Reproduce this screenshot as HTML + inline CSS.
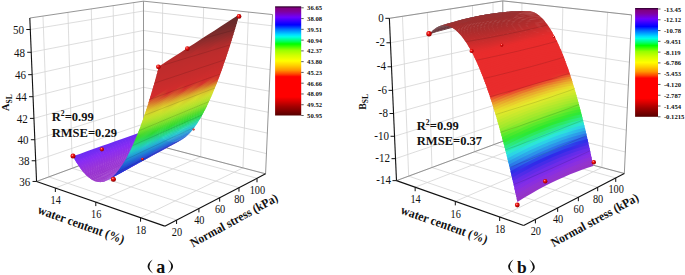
<!DOCTYPE html>
<html><head><meta charset="utf-8"><style>
html,body{margin:0;padding:0;background:#fff;}
svg{display:block;}
text{font-family:"Liberation Serif",serif;fill:#111;}
.tk{font-size:12px;}
.cb{font-size:7px;font-weight:bold;}
.b{font-weight:bold;}
</style></head><body>
<svg width="685" height="275" viewBox="0 0 685 275">
<defs><radialGradient id="ball" cx="0.38" cy="0.35" r="0.65"><stop offset="0" stop-color="#ffb0a0"/><stop offset="0.35" stop-color="#f01010"/><stop offset="1" stop-color="#900000"/></radialGradient></defs>
<rect width="685" height="275" fill="#fff"/>
<defs><linearGradient id="ga4" gradientUnits="userSpaceOnUse" x1="76.0" y1="161.7" x2="155.6" y2="131.8"><stop offset="0" stop-color="#812cf3"/><stop offset="0.25" stop-color="#802cf3"/><stop offset="0.5" stop-color="#7e2cf3"/><stop offset="0.75" stop-color="#7d2cf3"/><stop offset="1" stop-color="#7b2cf3"/></linearGradient><linearGradient id="ga5" gradientUnits="userSpaceOnUse" x1="76.6" y1="162.8" x2="156.2" y2="132.6"><stop offset="0" stop-color="#862cf3"/><stop offset="0.25" stop-color="#842cf3"/><stop offset="0.5" stop-color="#822cf3"/><stop offset="0.75" stop-color="#802cf3"/><stop offset="1" stop-color="#7e2cf3"/></linearGradient><linearGradient id="ga6" gradientUnits="userSpaceOnUse" x1="77.3" y1="163.9" x2="156.8" y2="133.3"><stop offset="0" stop-color="#8a2cf2"/><stop offset="0.25" stop-color="#882cf3"/><stop offset="0.5" stop-color="#862cf3"/><stop offset="0.75" stop-color="#842cf3"/><stop offset="1" stop-color="#822cf3"/></linearGradient><linearGradient id="ga7" gradientUnits="userSpaceOnUse" x1="78.0" y1="164.9" x2="157.4" y2="134.0"><stop offset="0" stop-color="#8c2dee"/><stop offset="0.25" stop-color="#8b2df0"/><stop offset="0.5" stop-color="#8a2cf3"/><stop offset="0.75" stop-color="#872cf3"/><stop offset="1" stop-color="#852cf3"/></linearGradient><linearGradient id="ga8" gradientUnits="userSpaceOnUse" x1="78.7" y1="166.0" x2="158.1" y2="134.7"><stop offset="0" stop-color="#8e2eea"/><stop offset="0.25" stop-color="#8d2eed"/><stop offset="0.5" stop-color="#8c2def"/><stop offset="0.75" stop-color="#8a2cf2"/><stop offset="1" stop-color="#882cf3"/></linearGradient><linearGradient id="ga9" gradientUnits="userSpaceOnUse" x1="79.3" y1="167.0" x2="158.7" y2="135.3"><stop offset="0" stop-color="#912fe7"/><stop offset="0.25" stop-color="#8f2fea"/><stop offset="0.5" stop-color="#8d2eec"/><stop offset="0.75" stop-color="#8c2def"/><stop offset="1" stop-color="#8a2cf2"/></linearGradient><linearGradient id="ga10" gradientUnits="userSpaceOnUse" x1="80.0" y1="167.9" x2="159.3" y2="135.9"><stop offset="0" stop-color="#9330e3"/><stop offset="0.25" stop-color="#9130e6"/><stop offset="0.5" stop-color="#8f2fe9"/><stop offset="0.75" stop-color="#8d2eed"/><stop offset="1" stop-color="#8b2df0"/></linearGradient><linearGradient id="ga11" gradientUnits="userSpaceOnUse" x1="80.7" y1="168.8" x2="160.0" y2="136.5"><stop offset="0" stop-color="#9431e0"/><stop offset="0.25" stop-color="#9230e3"/><stop offset="0.5" stop-color="#912fe7"/><stop offset="0.75" stop-color="#8f2fea"/><stop offset="1" stop-color="#8d2eed"/></linearGradient><linearGradient id="ga12" gradientUnits="userSpaceOnUse" x1="81.4" y1="169.7" x2="160.6" y2="137.1"><stop offset="0" stop-color="#9632dd"/><stop offset="0.25" stop-color="#9431e0"/><stop offset="0.5" stop-color="#9230e4"/><stop offset="0.75" stop-color="#902fe8"/><stop offset="1" stop-color="#8e2eeb"/></linearGradient><linearGradient id="ga13" gradientUnits="userSpaceOnUse" x1="82.0" y1="170.6" x2="161.3" y2="137.6"><stop offset="0" stop-color="#9833da"/><stop offset="0.25" stop-color="#9632de"/><stop offset="0.5" stop-color="#9331e2"/><stop offset="0.75" stop-color="#9130e6"/><stop offset="1" stop-color="#8f2fea"/></linearGradient><linearGradient id="ga14" gradientUnits="userSpaceOnUse" x1="82.7" y1="171.4" x2="161.9" y2="138.1"><stop offset="0" stop-color="#9934d7"/><stop offset="0.25" stop-color="#9733db"/><stop offset="0.5" stop-color="#9532df"/><stop offset="0.75" stop-color="#9230e4"/><stop offset="1" stop-color="#902fe8"/></linearGradient><linearGradient id="ga15" gradientUnits="userSpaceOnUse" x1="83.4" y1="172.3" x2="162.5" y2="138.6"><stop offset="0" stop-color="#9934d6"/><stop offset="0.25" stop-color="#9933d9"/><stop offset="0.5" stop-color="#9632dd"/><stop offset="0.75" stop-color="#9331e2"/><stop offset="1" stop-color="#9130e6"/></linearGradient><linearGradient id="ga16" gradientUnits="userSpaceOnUse" x1="84.0" y1="173.0" x2="163.2" y2="139.0"><stop offset="0" stop-color="#9934d4"/><stop offset="0.25" stop-color="#9934d7"/><stop offset="0.5" stop-color="#9733db"/><stop offset="0.75" stop-color="#9431e0"/><stop offset="1" stop-color="#9230e5"/></linearGradient><linearGradient id="ga17" gradientUnits="userSpaceOnUse" x1="84.7" y1="173.8" x2="163.8" y2="139.4"><stop offset="0" stop-color="#9934d3"/><stop offset="0.25" stop-color="#9934d6"/><stop offset="0.5" stop-color="#9833d9"/><stop offset="0.75" stop-color="#9532de"/><stop offset="1" stop-color="#9230e3"/></linearGradient><linearGradient id="ga18" gradientUnits="userSpaceOnUse" x1="85.4" y1="174.5" x2="164.4" y2="139.8"><stop offset="0" stop-color="#9934d2"/><stop offset="0.25" stop-color="#9934d5"/><stop offset="0.5" stop-color="#9934d8"/><stop offset="0.75" stop-color="#9632dd"/><stop offset="1" stop-color="#9331e2"/></linearGradient><linearGradient id="ga19" gradientUnits="userSpaceOnUse" x1="86.1" y1="175.2" x2="165.1" y2="140.2"><stop offset="0" stop-color="#9934d0"/><stop offset="0.25" stop-color="#9934d4"/><stop offset="0.5" stop-color="#9934d7"/><stop offset="0.75" stop-color="#9733dc"/><stop offset="1" stop-color="#9431e1"/></linearGradient><linearGradient id="ga20" gradientUnits="userSpaceOnUse" x1="86.7" y1="175.8" x2="165.7" y2="140.5"><stop offset="0" stop-color="#9934cf"/><stop offset="0.25" stop-color="#9934d3"/><stop offset="0.5" stop-color="#9934d6"/><stop offset="0.75" stop-color="#9833db"/><stop offset="1" stop-color="#9431e0"/></linearGradient><linearGradient id="ga21" gradientUnits="userSpaceOnUse" x1="87.4" y1="176.4" x2="166.4" y2="140.8"><stop offset="0" stop-color="#9934ce"/><stop offset="0.25" stop-color="#9934d2"/><stop offset="0.5" stop-color="#9934d5"/><stop offset="0.75" stop-color="#9833da"/><stop offset="1" stop-color="#9531e0"/></linearGradient><linearGradient id="ga22" gradientUnits="userSpaceOnUse" x1="88.1" y1="177.0" x2="167.0" y2="141.1"><stop offset="0" stop-color="#9934cd"/><stop offset="0.25" stop-color="#9934d1"/><stop offset="0.5" stop-color="#9934d5"/><stop offset="0.75" stop-color="#9933d9"/><stop offset="1" stop-color="#9532df"/></linearGradient><linearGradient id="ga23" gradientUnits="userSpaceOnUse" x1="88.8" y1="177.6" x2="167.7" y2="141.3"><stop offset="0" stop-color="#9934cc"/><stop offset="0.25" stop-color="#9934d0"/><stop offset="0.5" stop-color="#9934d4"/><stop offset="0.75" stop-color="#9934d8"/><stop offset="1" stop-color="#9532df"/></linearGradient><linearGradient id="ga24" gradientUnits="userSpaceOnUse" x1="89.4" y1="178.1" x2="168.3" y2="141.6"><stop offset="0" stop-color="#9934cb"/><stop offset="0.25" stop-color="#9934cf"/><stop offset="0.5" stop-color="#9934d3"/><stop offset="0.75" stop-color="#9934d8"/><stop offset="1" stop-color="#9532de"/></linearGradient><linearGradient id="ga25" gradientUnits="userSpaceOnUse" x1="90.1" y1="178.6" x2="169.0" y2="141.7"><stop offset="0" stop-color="#9934cb"/><stop offset="0.25" stop-color="#9934cf"/><stop offset="0.5" stop-color="#9934d3"/><stop offset="0.75" stop-color="#9934d7"/><stop offset="1" stop-color="#9532de"/></linearGradient><linearGradient id="ga26" gradientUnits="userSpaceOnUse" x1="90.8" y1="179.0" x2="169.6" y2="141.9"><stop offset="0" stop-color="#9934ca"/><stop offset="0.25" stop-color="#9934ce"/><stop offset="0.5" stop-color="#9934d3"/><stop offset="0.75" stop-color="#9934d7"/><stop offset="1" stop-color="#9532de"/></linearGradient><linearGradient id="ga27" gradientUnits="userSpaceOnUse" x1="91.4" y1="179.5" x2="170.3" y2="142.0"><stop offset="0" stop-color="#9934ca"/><stop offset="0.25" stop-color="#9934ce"/><stop offset="0.5" stop-color="#9934d3"/><stop offset="0.75" stop-color="#9934d7"/><stop offset="1" stop-color="#9532df"/></linearGradient><linearGradient id="ga28" gradientUnits="userSpaceOnUse" x1="92.1" y1="179.9" x2="170.9" y2="142.1"><stop offset="0" stop-color="#9934c9"/><stop offset="0.25" stop-color="#9934ce"/><stop offset="0.5" stop-color="#9934d2"/><stop offset="0.75" stop-color="#9934d7"/><stop offset="1" stop-color="#9532df"/></linearGradient><linearGradient id="ga29" gradientUnits="userSpaceOnUse" x1="92.8" y1="180.2" x2="171.6" y2="142.2"><stop offset="0" stop-color="#9934c9"/><stop offset="0.25" stop-color="#9934ce"/><stop offset="0.5" stop-color="#9934d2"/><stop offset="0.75" stop-color="#9934d7"/><stop offset="1" stop-color="#9532df"/></linearGradient><linearGradient id="ga30" gradientUnits="userSpaceOnUse" x1="93.5" y1="180.6" x2="172.2" y2="142.3"><stop offset="0" stop-color="#9934c8"/><stop offset="0.25" stop-color="#9934cd"/><stop offset="0.5" stop-color="#9934d2"/><stop offset="0.75" stop-color="#9934d7"/><stop offset="1" stop-color="#9431e0"/></linearGradient><linearGradient id="ga31" gradientUnits="userSpaceOnUse" x1="94.1" y1="180.9" x2="172.9" y2="142.3"><stop offset="0" stop-color="#9934c8"/><stop offset="0.25" stop-color="#9934cd"/><stop offset="0.5" stop-color="#9934d2"/><stop offset="0.75" stop-color="#9934d8"/><stop offset="1" stop-color="#9431e1"/></linearGradient><linearGradient id="ga32" gradientUnits="userSpaceOnUse" x1="94.8" y1="181.1" x2="173.5" y2="142.3"><stop offset="0" stop-color="#9934c8"/><stop offset="0.25" stop-color="#9934cd"/><stop offset="0.5" stop-color="#9934d3"/><stop offset="0.75" stop-color="#9934d8"/><stop offset="1" stop-color="#9331e2"/></linearGradient><linearGradient id="ga33" gradientUnits="userSpaceOnUse" x1="95.5" y1="181.4" x2="174.2" y2="142.2"><stop offset="0" stop-color="#9934c8"/><stop offset="0.25" stop-color="#9934cd"/><stop offset="0.5" stop-color="#9934d3"/><stop offset="0.75" stop-color="#9833d9"/><stop offset="1" stop-color="#9331e3"/></linearGradient><linearGradient id="ga34" gradientUnits="userSpaceOnUse" x1="96.2" y1="181.6" x2="174.8" y2="142.2"><stop offset="0" stop-color="#9934c8"/><stop offset="0.25" stop-color="#9934ce"/><stop offset="0.5" stop-color="#9934d3"/><stop offset="0.75" stop-color="#9833da"/><stop offset="1" stop-color="#9230e4"/></linearGradient><linearGradient id="ga35" gradientUnits="userSpaceOnUse" x1="96.9" y1="181.8" x2="175.5" y2="142.1"><stop offset="0" stop-color="#9934c8"/><stop offset="0.25" stop-color="#9934ce"/><stop offset="0.5" stop-color="#9934d4"/><stop offset="0.75" stop-color="#9733db"/><stop offset="1" stop-color="#9130e5"/></linearGradient><linearGradient id="ga36" gradientUnits="userSpaceOnUse" x1="97.5" y1="181.9" x2="176.2" y2="141.9"><stop offset="0" stop-color="#9934c8"/><stop offset="0.25" stop-color="#9934ce"/><stop offset="0.5" stop-color="#9934d4"/><stop offset="0.75" stop-color="#9732dc"/><stop offset="1" stop-color="#912fe7"/></linearGradient><linearGradient id="ga37" gradientUnits="userSpaceOnUse" x1="98.2" y1="182.0" x2="176.8" y2="141.8"><stop offset="0" stop-color="#9934c9"/><stop offset="0.25" stop-color="#9934cf"/><stop offset="0.5" stop-color="#9934d5"/><stop offset="0.75" stop-color="#9632de"/><stop offset="1" stop-color="#902fe8"/></linearGradient><linearGradient id="ga38" gradientUnits="userSpaceOnUse" x1="98.9" y1="182.1" x2="177.5" y2="141.6"><stop offset="0" stop-color="#9934c9"/><stop offset="0.25" stop-color="#9934cf"/><stop offset="0.5" stop-color="#9934d6"/><stop offset="0.75" stop-color="#9532df"/><stop offset="1" stop-color="#8f2fea"/></linearGradient><linearGradient id="ga39" gradientUnits="userSpaceOnUse" x1="99.6" y1="182.1" x2="178.2" y2="141.4"><stop offset="0" stop-color="#9934c9"/><stop offset="0.25" stop-color="#9934d0"/><stop offset="0.5" stop-color="#9934d6"/><stop offset="0.75" stop-color="#9431e1"/><stop offset="1" stop-color="#8e2eec"/></linearGradient><linearGradient id="ga40" gradientUnits="userSpaceOnUse" x1="100.2" y1="182.2" x2="178.8" y2="141.1"><stop offset="0" stop-color="#9934ca"/><stop offset="0.25" stop-color="#9934d1"/><stop offset="0.5" stop-color="#9934d7"/><stop offset="0.75" stop-color="#9331e2"/><stop offset="1" stop-color="#8c2dee"/></linearGradient><linearGradient id="ga41" gradientUnits="userSpaceOnUse" x1="100.9" y1="182.1" x2="179.5" y2="140.8"><stop offset="0" stop-color="#9934cb"/><stop offset="0.25" stop-color="#9934d1"/><stop offset="0.5" stop-color="#9934d9"/><stop offset="0.75" stop-color="#9230e4"/><stop offset="1" stop-color="#8b2df0"/></linearGradient><linearGradient id="ga42" gradientUnits="userSpaceOnUse" x1="101.6" y1="182.1" x2="180.2" y2="140.5"><stop offset="0" stop-color="#9934cb"/><stop offset="0.25" stop-color="#9934d2"/><stop offset="0.5" stop-color="#9833da"/><stop offset="0.75" stop-color="#9130e6"/><stop offset="1" stop-color="#8a2cf3"/></linearGradient><linearGradient id="ga43" gradientUnits="userSpaceOnUse" x1="102.3" y1="182.0" x2="180.8" y2="140.2"><stop offset="0" stop-color="#9934cc"/><stop offset="0.25" stop-color="#9934d3"/><stop offset="0.5" stop-color="#9732dc"/><stop offset="0.75" stop-color="#8f2fe9"/><stop offset="1" stop-color="#872cf3"/></linearGradient><linearGradient id="ga44" gradientUnits="userSpaceOnUse" x1="103.0" y1="181.9" x2="181.5" y2="139.8"><stop offset="0" stop-color="#9934cd"/><stop offset="0.25" stop-color="#9934d4"/><stop offset="0.5" stop-color="#9532de"/><stop offset="0.75" stop-color="#8e2eeb"/><stop offset="1" stop-color="#1643d3"/></linearGradient><linearGradient id="ga45" gradientUnits="userSpaceOnUse" x1="103.7" y1="181.7" x2="182.2" y2="139.4"><stop offset="0" stop-color="#9934ce"/><stop offset="0.25" stop-color="#9934d5"/><stop offset="0.5" stop-color="#9431e1"/><stop offset="0.75" stop-color="#8d2eee"/><stop offset="1" stop-color="#1646d3"/></linearGradient><linearGradient id="ga46" gradientUnits="userSpaceOnUse" x1="104.3" y1="181.5" x2="182.9" y2="139.0"><stop offset="0" stop-color="#9934cf"/><stop offset="0.25" stop-color="#9934d7"/><stop offset="0.5" stop-color="#9331e3"/><stop offset="0.75" stop-color="#153ad3"/><stop offset="1" stop-color="#1648d3"/></linearGradient><linearGradient id="ga47" gradientUnits="userSpaceOnUse" x1="105.0" y1="181.3" x2="183.6" y2="138.5"><stop offset="0" stop-color="#9934d0"/><stop offset="0.25" stop-color="#9934d8"/><stop offset="0.5" stop-color="#9130e6"/><stop offset="0.75" stop-color="#153cd3"/><stop offset="1" stop-color="#164cd3"/></linearGradient><linearGradient id="ga48" gradientUnits="userSpaceOnUse" x1="105.7" y1="181.1" x2="184.2" y2="138.0"><stop offset="0" stop-color="#9934d1"/><stop offset="0.25" stop-color="#9833da"/><stop offset="0.5" stop-color="#1534d3"/><stop offset="0.75" stop-color="#163dd3"/><stop offset="1" stop-color="#174fd3"/></linearGradient><linearGradient id="ga49" gradientUnits="userSpaceOnUse" x1="106.4" y1="180.8" x2="184.9" y2="137.5"><stop offset="0" stop-color="#9934d3"/><stop offset="0.25" stop-color="#9632dd"/><stop offset="0.5" stop-color="#1534d3"/><stop offset="0.75" stop-color="#1640d3"/><stop offset="1" stop-color="#1753d3"/></linearGradient><linearGradient id="ga50" gradientUnits="userSpaceOnUse" x1="107.1" y1="180.5" x2="185.6" y2="137.0"><stop offset="0" stop-color="#9934d4"/><stop offset="0.25" stop-color="#1531d3"/><stop offset="0.5" stop-color="#1535d3"/><stop offset="0.75" stop-color="#1642d3"/><stop offset="1" stop-color="#1758d3"/></linearGradient><linearGradient id="ga51" gradientUnits="userSpaceOnUse" x1="107.8" y1="180.1" x2="186.3" y2="136.4"><stop offset="0" stop-color="#9934d5"/><stop offset="0.25" stop-color="#1530d3"/><stop offset="0.5" stop-color="#1536d3"/><stop offset="0.75" stop-color="#1645d3"/><stop offset="1" stop-color="#185dd3"/></linearGradient><linearGradient id="ga52" gradientUnits="userSpaceOnUse" x1="108.5" y1="179.7" x2="187.0" y2="135.8"><stop offset="0" stop-color="#1533d3"/><stop offset="0.25" stop-color="#1530d3"/><stop offset="0.5" stop-color="#1538d3"/><stop offset="0.75" stop-color="#1649d3"/><stop offset="1" stop-color="#1862d3"/></linearGradient><linearGradient id="ga53" gradientUnits="userSpaceOnUse" x1="109.1" y1="179.3" x2="187.7" y2="135.1"><stop offset="0" stop-color="#1531d3"/><stop offset="0.25" stop-color="#1530d3"/><stop offset="0.5" stop-color="#153ad3"/><stop offset="0.75" stop-color="#174dd3"/><stop offset="1" stop-color="#1868d3"/></linearGradient><linearGradient id="ga54" gradientUnits="userSpaceOnUse" x1="109.8" y1="178.9" x2="188.4" y2="134.5"><stop offset="0" stop-color="#152fd3"/><stop offset="0.25" stop-color="#1531d3"/><stop offset="0.5" stop-color="#153cd3"/><stop offset="0.75" stop-color="#1752d3"/><stop offset="1" stop-color="#196ed3"/></linearGradient><linearGradient id="ga55" gradientUnits="userSpaceOnUse" x1="110.5" y1="178.4" x2="189.0" y2="133.8"><stop offset="0" stop-color="#152ed3"/><stop offset="0.25" stop-color="#1531d3"/><stop offset="0.5" stop-color="#163fd3"/><stop offset="0.75" stop-color="#1757d3"/><stop offset="1" stop-color="#1973d4"/></linearGradient><linearGradient id="ga56" gradientUnits="userSpaceOnUse" x1="111.2" y1="177.9" x2="189.7" y2="133.0"><stop offset="0" stop-color="#142dd3"/><stop offset="0.25" stop-color="#1533d3"/><stop offset="0.5" stop-color="#1643d3"/><stop offset="0.75" stop-color="#185cd3"/><stop offset="1" stop-color="#1a7ad4"/></linearGradient><linearGradient id="ga57" gradientUnits="userSpaceOnUse" x1="111.9" y1="177.3" x2="190.4" y2="132.3"><stop offset="0" stop-color="#142dd3"/><stop offset="0.25" stop-color="#1534d3"/><stop offset="0.5" stop-color="#1647d3"/><stop offset="0.75" stop-color="#1863d3"/><stop offset="1" stop-color="#1a80d4"/></linearGradient><linearGradient id="ga58" gradientUnits="userSpaceOnUse" x1="112.6" y1="176.7" x2="191.1" y2="131.5"><stop offset="0" stop-color="#142dd3"/><stop offset="0.25" stop-color="#1537d3"/><stop offset="0.5" stop-color="#164cd3"/><stop offset="0.75" stop-color="#1869d3"/><stop offset="1" stop-color="#1b88d4"/></linearGradient><linearGradient id="ga59" gradientUnits="userSpaceOnUse" x1="113.3" y1="176.1" x2="191.8" y2="130.6"><stop offset="0" stop-color="#142dd3"/><stop offset="0.25" stop-color="#153ad3"/><stop offset="0.5" stop-color="#1751d3"/><stop offset="0.75" stop-color="#196fd3"/><stop offset="1" stop-color="#1c90d4"/></linearGradient><linearGradient id="ga60" gradientUnits="userSpaceOnUse" x1="114.0" y1="175.4" x2="192.5" y2="129.8"><stop offset="0" stop-color="#152ed3"/><stop offset="0.25" stop-color="#163dd3"/><stop offset="0.5" stop-color="#1757d3"/><stop offset="0.75" stop-color="#1976d4"/><stop offset="1" stop-color="#1c98d4"/></linearGradient><linearGradient id="ga61" gradientUnits="userSpaceOnUse" x1="114.7" y1="174.8" x2="193.2" y2="128.9"><stop offset="0" stop-color="#152fd3"/><stop offset="0.25" stop-color="#1641d3"/><stop offset="0.5" stop-color="#185dd3"/><stop offset="0.75" stop-color="#1a7dd4"/><stop offset="1" stop-color="#1da1d4"/></linearGradient><linearGradient id="ga62" gradientUnits="userSpaceOnUse" x1="115.4" y1="174.0" x2="194.0" y2="127.9"><stop offset="0" stop-color="#1531d3"/><stop offset="0.25" stop-color="#1646d3"/><stop offset="0.5" stop-color="#1864d3"/><stop offset="0.75" stop-color="#1b85d4"/><stop offset="1" stop-color="#1eaad4"/></linearGradient><linearGradient id="ga63" gradientUnits="userSpaceOnUse" x1="116.1" y1="173.3" x2="194.7" y2="127.0"><stop offset="0" stop-color="#1534d3"/><stop offset="0.25" stop-color="#164bd3"/><stop offset="0.5" stop-color="#196bd3"/><stop offset="0.75" stop-color="#1b8dd4"/><stop offset="1" stop-color="#1fb4d5"/></linearGradient><linearGradient id="ga64" gradientUnits="userSpaceOnUse" x1="116.8" y1="172.5" x2="195.4" y2="126.0"><stop offset="0" stop-color="#1537d3"/><stop offset="0.25" stop-color="#1751d3"/><stop offset="0.5" stop-color="#1972d3"/><stop offset="0.75" stop-color="#1c95d4"/><stop offset="1" stop-color="#20bed4"/></linearGradient><linearGradient id="ga65" gradientUnits="userSpaceOnUse" x1="117.5" y1="171.6" x2="196.1" y2="125.0"><stop offset="0" stop-color="#153bd3"/><stop offset="0.25" stop-color="#1757d3"/><stop offset="0.5" stop-color="#1a7ad4"/><stop offset="0.75" stop-color="#1d9fd4"/><stop offset="1" stop-color="#21c6ce"/></linearGradient><linearGradient id="ga66" gradientUnits="userSpaceOnUse" x1="118.2" y1="170.8" x2="196.8" y2="123.9"><stop offset="0" stop-color="#1640d3"/><stop offset="0.25" stop-color="#185fd3"/><stop offset="0.5" stop-color="#1a81d4"/><stop offset="0.75" stop-color="#1ea8d4"/><stop offset="1" stop-color="#22cfc8"/></linearGradient><linearGradient id="ga67" gradientUnits="userSpaceOnUse" x1="118.9" y1="169.9" x2="197.5" y2="122.8"><stop offset="0" stop-color="#1645d3"/><stop offset="0.25" stop-color="#1867d3"/><stop offset="0.5" stop-color="#1b8ad4"/><stop offset="0.75" stop-color="#1fb3d5"/><stop offset="1" stop-color="#23d5be"/></linearGradient><linearGradient id="ga68" gradientUnits="userSpaceOnUse" x1="119.6" y1="168.9" x2="198.2" y2="121.7"><stop offset="0" stop-color="#164bd3"/><stop offset="0.25" stop-color="#196ed3"/><stop offset="0.5" stop-color="#1c93d4"/><stop offset="0.75" stop-color="#20bdd4"/><stop offset="1" stop-color="#24d5ac"/></linearGradient><linearGradient id="ga69" gradientUnits="userSpaceOnUse" x1="120.4" y1="167.9" x2="199.0" y2="120.5"><stop offset="0" stop-color="#1752d3"/><stop offset="0.25" stop-color="#1976d4"/><stop offset="0.5" stop-color="#1d9dd4"/><stop offset="0.75" stop-color="#21c6ce"/><stop offset="1" stop-color="#25d69a"/></linearGradient><linearGradient id="ga70" gradientUnits="userSpaceOnUse" x1="121.1" y1="166.9" x2="199.7" y2="119.4"><stop offset="0" stop-color="#1759d3"/><stop offset="0.25" stop-color="#1a7ed4"/><stop offset="0.5" stop-color="#1ea7d4"/><stop offset="0.75" stop-color="#22cfc8"/><stop offset="1" stop-color="#26d688"/></linearGradient><linearGradient id="ga71" gradientUnits="userSpaceOnUse" x1="121.8" y1="165.9" x2="200.4" y2="118.1"><stop offset="0" stop-color="#1861d3"/><stop offset="0.25" stop-color="#1b87d4"/><stop offset="0.5" stop-color="#1eb1d5"/><stop offset="0.75" stop-color="#23d5bd"/><stop offset="1" stop-color="#27d775"/></linearGradient><linearGradient id="ga72" gradientUnits="userSpaceOnUse" x1="122.5" y1="164.8" x2="201.1" y2="116.9"><stop offset="0" stop-color="#186ad3"/><stop offset="0.25" stop-color="#1c90d4"/><stop offset="0.5" stop-color="#1fbcd4"/><stop offset="0.75" stop-color="#24d5ab"/><stop offset="1" stop-color="#29d861"/></linearGradient><linearGradient id="ga73" gradientUnits="userSpaceOnUse" x1="123.2" y1="163.7" x2="201.9" y2="115.6"><stop offset="0" stop-color="#1972d3"/><stop offset="0.25" stop-color="#1d9ad4"/><stop offset="0.5" stop-color="#20c6ce"/><stop offset="0.75" stop-color="#25d698"/><stop offset="1" stop-color="#2ad94c"/></linearGradient><linearGradient id="ga74" gradientUnits="userSpaceOnUse" x1="123.9" y1="162.5" x2="202.6" y2="114.3"><stop offset="0" stop-color="#1a7bd4"/><stop offset="0.25" stop-color="#1da5d4"/><stop offset="0.5" stop-color="#22cfc8"/><stop offset="0.75" stop-color="#26d685"/><stop offset="1" stop-color="#2bd937"/></linearGradient><linearGradient id="ga75" gradientUnits="userSpaceOnUse" x1="124.6" y1="161.3" x2="203.4" y2="112.9"><stop offset="0" stop-color="#1b84d4"/><stop offset="0.25" stop-color="#1eb0d4"/><stop offset="0.5" stop-color="#23d5bc"/><stop offset="0.75" stop-color="#27d771"/><stop offset="1" stop-color="#31da2c"/></linearGradient><linearGradient id="ga76" gradientUnits="userSpaceOnUse" x1="125.4" y1="160.1" x2="204.1" y2="111.5"><stop offset="0" stop-color="#1b8ed4"/><stop offset="0.25" stop-color="#1fbbd5"/><stop offset="0.5" stop-color="#24d5a9"/><stop offset="0.75" stop-color="#29d85d"/><stop offset="1" stop-color="#3edb2c"/></linearGradient><linearGradient id="ga77" gradientUnits="userSpaceOnUse" x1="126.1" y1="158.8" x2="204.8" y2="110.1"><stop offset="0" stop-color="#1c98d4"/><stop offset="0.25" stop-color="#20c5ce"/><stop offset="0.5" stop-color="#25d696"/><stop offset="0.75" stop-color="#2ad948"/><stop offset="1" stop-color="#4cdc2c"/></linearGradient><linearGradient id="ga78" gradientUnits="userSpaceOnUse" x1="126.8" y1="157.5" x2="205.6" y2="108.6"><stop offset="0" stop-color="#1da3d4"/><stop offset="0.25" stop-color="#22cfc8"/><stop offset="0.5" stop-color="#26d682"/><stop offset="0.75" stop-color="#2cd933"/><stop offset="1" stop-color="#5bdd2c"/></linearGradient><linearGradient id="ga79" gradientUnits="userSpaceOnUse" x1="127.5" y1="156.1" x2="206.3" y2="107.1"><stop offset="0" stop-color="#1eaed4"/><stop offset="0.25" stop-color="#23d5bc"/><stop offset="0.5" stop-color="#28d76e"/><stop offset="0.75" stop-color="#35da2c"/><stop offset="1" stop-color="#6cde2c"/></linearGradient><linearGradient id="ga80" gradientUnits="userSpaceOnUse" x1="128.3" y1="154.8" x2="207.1" y2="105.6"><stop offset="0" stop-color="#1fbad5"/><stop offset="0.25" stop-color="#24d5a8"/><stop offset="0.5" stop-color="#29d859"/><stop offset="0.75" stop-color="#43db2c"/><stop offset="1" stop-color="#7ddf2c"/></linearGradient><linearGradient id="ga81" gradientUnits="userSpaceOnUse" x1="129.0" y1="153.3" x2="207.8" y2="104.0"><stop offset="0" stop-color="#20c4cf"/><stop offset="0.25" stop-color="#25d695"/><stop offset="0.5" stop-color="#2ad944"/><stop offset="0.75" stop-color="#51dc2c"/><stop offset="1" stop-color="#90e02c"/></linearGradient><linearGradient id="ga82" gradientUnits="userSpaceOnUse" x1="129.7" y1="151.9" x2="208.6" y2="102.4"><stop offset="0" stop-color="#21cfc8"/><stop offset="0.25" stop-color="#26d780"/><stop offset="0.5" stop-color="#2cda2f"/><stop offset="0.75" stop-color="#62dd2c"/><stop offset="1" stop-color="#9de12c"/></linearGradient><linearGradient id="ga83" gradientUnits="userSpaceOnUse" x1="130.5" y1="150.4" x2="209.3" y2="100.8"><stop offset="0" stop-color="#23d5bc"/><stop offset="0.25" stop-color="#28d76c"/><stop offset="0.5" stop-color="#38db2c"/><stop offset="0.75" stop-color="#73de2c"/><stop offset="1" stop-color="#a7e22c"/></linearGradient><linearGradient id="ga84" gradientUnits="userSpaceOnUse" x1="131.2" y1="148.8" x2="210.1" y2="99.1"><stop offset="0" stop-color="#24d5a8"/><stop offset="0.25" stop-color="#29d856"/><stop offset="0.5" stop-color="#47dc2c"/><stop offset="0.75" stop-color="#86df2c"/><stop offset="1" stop-color="#b2e32c"/></linearGradient><linearGradient id="ga85" gradientUnits="userSpaceOnUse" x1="131.9" y1="147.2" x2="210.9" y2="97.4"><stop offset="0" stop-color="#25d694"/><stop offset="0.25" stop-color="#2bd940"/><stop offset="0.5" stop-color="#56dd2c"/><stop offset="0.75" stop-color="#97e02c"/><stop offset="1" stop-color="#bce22c"/></linearGradient><linearGradient id="ga86" gradientUnits="userSpaceOnUse" x1="132.7" y1="145.6" x2="211.6" y2="95.7"><stop offset="0" stop-color="#27d77f"/><stop offset="0.25" stop-color="#2dda2c"/><stop offset="0.5" stop-color="#68de2c"/><stop offset="0.75" stop-color="#a2e12c"/><stop offset="1" stop-color="#c5e12c"/></linearGradient><linearGradient id="ga87" gradientUnits="userSpaceOnUse" x1="133.4" y1="144.0" x2="212.4" y2="93.9"><stop offset="0" stop-color="#28d76a"/><stop offset="0.25" stop-color="#3cdb2c"/><stop offset="0.5" stop-color="#7bdf2c"/><stop offset="0.75" stop-color="#aee32c"/><stop offset="1" stop-color="#cfdf2c"/></linearGradient><linearGradient id="ga88" gradientUnits="userSpaceOnUse" x1="134.2" y1="142.3" x2="213.2" y2="92.1"><stop offset="0" stop-color="#29d853"/><stop offset="0.25" stop-color="#4cdc2c"/><stop offset="0.5" stop-color="#8ee02c"/><stop offset="0.75" stop-color="#b8e22c"/><stop offset="1" stop-color="#d8de2c"/></linearGradient><linearGradient id="ga89" gradientUnits="userSpaceOnUse" x1="134.9" y1="140.5" x2="214.0" y2="90.2"><stop offset="0" stop-color="#2bd93c"/><stop offset="0.25" stop-color="#5ddd2c"/><stop offset="0.5" stop-color="#9de12c"/><stop offset="0.75" stop-color="#c2e12c"/><stop offset="1" stop-color="#ddd62c"/></linearGradient><linearGradient id="ga90" gradientUnits="userSpaceOnUse" x1="135.7" y1="138.7" x2="214.7" y2="88.3"><stop offset="0" stop-color="#31da2c"/><stop offset="0.25" stop-color="#6fde2c"/><stop offset="0.5" stop-color="#a8e22c"/><stop offset="0.75" stop-color="#cbe02c"/><stop offset="1" stop-color="#dcc42c"/></linearGradient><linearGradient id="ga91" gradientUnits="userSpaceOnUse" x1="136.4" y1="136.9" x2="215.5" y2="86.4"><stop offset="0" stop-color="#40db2c"/><stop offset="0.25" stop-color="#83df2c"/><stop offset="0.5" stop-color="#b3e32c"/><stop offset="0.75" stop-color="#d5df2c"/><stop offset="1" stop-color="#dab12c"/></linearGradient><linearGradient id="ga92" gradientUnits="userSpaceOnUse" x1="137.2" y1="135.0" x2="216.3" y2="84.4"><stop offset="0" stop-color="#51dc2c"/><stop offset="0.25" stop-color="#97e02c"/><stop offset="0.5" stop-color="#bee22c"/><stop offset="0.75" stop-color="#dddc2c"/><stop offset="1" stop-color="#d9992c"/></linearGradient><linearGradient id="ga93" gradientUnits="userSpaceOnUse" x1="137.9" y1="133.1" x2="217.1" y2="82.4"><stop offset="0" stop-color="#63dd2c"/><stop offset="0.25" stop-color="#a2e12c"/><stop offset="0.5" stop-color="#c7e02c"/><stop offset="0.75" stop-color="#dcca2c"/><stop offset="1" stop-color="#d87d2c"/></linearGradient><linearGradient id="ga94" gradientUnits="userSpaceOnUse" x1="138.7" y1="131.2" x2="217.9" y2="80.4"><stop offset="0" stop-color="#77de2c"/><stop offset="0.25" stop-color="#aee32c"/><stop offset="0.5" stop-color="#d1df2c"/><stop offset="0.75" stop-color="#dbb72c"/><stop offset="1" stop-color="#d65a2c"/></linearGradient><linearGradient id="ga95" gradientUnits="userSpaceOnUse" x1="139.4" y1="129.2" x2="218.7" y2="78.3"><stop offset="0" stop-color="#8be02c"/><stop offset="0.25" stop-color="#b9e22c"/><stop offset="0.5" stop-color="#dbde2c"/><stop offset="0.75" stop-color="#d99f2c"/><stop offset="1" stop-color="#d52c2c"/></linearGradient><linearGradient id="ga96" gradientUnits="userSpaceOnUse" x1="140.2" y1="127.2" x2="219.5" y2="76.1"><stop offset="0" stop-color="#9ce12c"/><stop offset="0.25" stop-color="#c3e12c"/><stop offset="0.5" stop-color="#dcd02c"/><stop offset="0.75" stop-color="#d8852c"/><stop offset="1" stop-color="#d32c2c"/></linearGradient><linearGradient id="ga97" gradientUnits="userSpaceOnUse" x1="141.0" y1="125.1" x2="220.3" y2="74.0"><stop offset="0" stop-color="#a8e22c"/><stop offset="0.25" stop-color="#cde02c"/><stop offset="0.5" stop-color="#dbbc2c"/><stop offset="0.75" stop-color="#d7612c"/><stop offset="1" stop-color="#d02c2c"/></linearGradient><linearGradient id="ga98" gradientUnits="userSpaceOnUse" x1="141.7" y1="123.0" x2="221.1" y2="71.8"><stop offset="0" stop-color="#b4e32c"/><stop offset="0.25" stop-color="#d7de2c"/><stop offset="0.5" stop-color="#daa62c"/><stop offset="0.75" stop-color="#d5352c"/><stop offset="1" stop-color="#ce2c2c"/></linearGradient><linearGradient id="ga99" gradientUnits="userSpaceOnUse" x1="142.5" y1="120.8" x2="221.9" y2="69.5"><stop offset="0" stop-color="#bfe12c"/><stop offset="0.25" stop-color="#ddd72c"/><stop offset="0.5" stop-color="#d88d2c"/><stop offset="0.75" stop-color="#d32c2c"/><stop offset="1" stop-color="#cb2c2c"/></linearGradient><linearGradient id="ga100" gradientUnits="userSpaceOnUse" x1="143.3" y1="118.6" x2="222.7" y2="67.3"><stop offset="0" stop-color="#c9e02c"/><stop offset="0.25" stop-color="#dcc32c"/><stop offset="0.5" stop-color="#d76a2c"/><stop offset="0.75" stop-color="#d12c2c"/><stop offset="1" stop-color="#c92c2c"/></linearGradient><linearGradient id="ga101" gradientUnits="userSpaceOnUse" x1="144.0" y1="116.4" x2="223.5" y2="64.9"><stop offset="0" stop-color="#d3df2c"/><stop offset="0.25" stop-color="#daae2c"/><stop offset="0.5" stop-color="#d63f2c"/><stop offset="0.75" stop-color="#ce2c2c"/><stop offset="1" stop-color="#c62c2c"/></linearGradient><linearGradient id="ga102" gradientUnits="userSpaceOnUse" x1="144.8" y1="114.1" x2="224.3" y2="62.6"><stop offset="0" stop-color="#dddd2c"/><stop offset="0.25" stop-color="#d9942c"/><stop offset="0.5" stop-color="#d42c2c"/><stop offset="0.75" stop-color="#cc2c2c"/><stop offset="1" stop-color="#c42c2c"/></linearGradient><linearGradient id="ga103" gradientUnits="userSpaceOnUse" x1="145.6" y1="111.7" x2="225.2" y2="60.2"><stop offset="0" stop-color="#dcca2c"/><stop offset="0.25" stop-color="#d7742c"/><stop offset="0.5" stop-color="#d12c2c"/><stop offset="0.75" stop-color="#c92c2c"/><stop offset="1" stop-color="#c32c2c"/></linearGradient><linearGradient id="ga104" gradientUnits="userSpaceOnUse" x1="146.4" y1="109.4" x2="226.0" y2="57.7"><stop offset="0" stop-color="#dbb62c"/><stop offset="0.25" stop-color="#d64c2c"/><stop offset="0.5" stop-color="#cf2c2c"/><stop offset="0.75" stop-color="#c62c2c"/><stop offset="1" stop-color="#c22c2c"/></linearGradient><linearGradient id="ga105" gradientUnits="userSpaceOnUse" x1="147.2" y1="106.9" x2="226.8" y2="55.3"><stop offset="0" stop-color="#d99d2c"/><stop offset="0.25" stop-color="#d42c2c"/><stop offset="0.5" stop-color="#cc2c2c"/><stop offset="0.75" stop-color="#c52c2c"/><stop offset="1" stop-color="#c12c2c"/></linearGradient><linearGradient id="ga106" gradientUnits="userSpaceOnUse" x1="148.0" y1="104.5" x2="227.6" y2="52.7"><stop offset="0" stop-color="#d87f2c"/><stop offset="0.25" stop-color="#d22c2c"/><stop offset="0.5" stop-color="#c92c2c"/><stop offset="0.75" stop-color="#c32c2c"/><stop offset="1" stop-color="#bf2c2c"/></linearGradient><linearGradient id="ga107" gradientUnits="userSpaceOnUse" x1="148.7" y1="101.9" x2="228.5" y2="50.2"><stop offset="0" stop-color="#d65a2c"/><stop offset="0.25" stop-color="#cf2c2c"/><stop offset="0.5" stop-color="#c72c2c"/><stop offset="0.75" stop-color="#c22c2c"/><stop offset="1" stop-color="#be2c2c"/></linearGradient><linearGradient id="ga108" gradientUnits="userSpaceOnUse" x1="149.5" y1="99.4" x2="229.3" y2="47.6"><stop offset="0" stop-color="#d52c2c"/><stop offset="0.25" stop-color="#cc2c2c"/><stop offset="0.5" stop-color="#c52c2c"/><stop offset="0.75" stop-color="#c12c2c"/><stop offset="1" stop-color="#bc2c2c"/></linearGradient><linearGradient id="ga109" gradientUnits="userSpaceOnUse" x1="150.3" y1="96.8" x2="230.2" y2="44.9"><stop offset="0" stop-color="#d22c2c"/><stop offset="0.25" stop-color="#ca2c2c"/><stop offset="0.5" stop-color="#c32c2c"/><stop offset="0.75" stop-color="#bf2c2c"/><stop offset="1" stop-color="#ba2c2c"/></linearGradient><linearGradient id="ga110" gradientUnits="userSpaceOnUse" x1="151.1" y1="94.1" x2="231.0" y2="42.2"><stop offset="0" stop-color="#d02c2c"/><stop offset="0.25" stop-color="#c72c2c"/><stop offset="0.5" stop-color="#c22c2c"/><stop offset="0.75" stop-color="#be2c2c"/><stop offset="1" stop-color="#b32c2c"/></linearGradient><linearGradient id="ga111" gradientUnits="userSpaceOnUse" x1="151.9" y1="91.4" x2="231.9" y2="39.5"><stop offset="0" stop-color="#cd2c2c"/><stop offset="0.25" stop-color="#c52c2c"/><stop offset="0.5" stop-color="#c12c2c"/><stop offset="0.75" stop-color="#bc2c2c"/><stop offset="1" stop-color="#a72c2c"/></linearGradient><linearGradient id="ga112" gradientUnits="userSpaceOnUse" x1="152.8" y1="88.7" x2="232.7" y2="36.7"><stop offset="0" stop-color="#ca2c2c"/><stop offset="0.25" stop-color="#c42c2c"/><stop offset="0.5" stop-color="#c02c2c"/><stop offset="0.75" stop-color="#b92c2c"/><stop offset="1" stop-color="#9a2c2c"/></linearGradient><linearGradient id="ga113" gradientUnits="userSpaceOnUse" x1="153.6" y1="85.9" x2="233.6" y2="33.9"><stop offset="0" stop-color="#c82c2c"/><stop offset="0.25" stop-color="#c22c2c"/><stop offset="0.5" stop-color="#be2c2c"/><stop offset="0.75" stop-color="#b32c2c"/><stop offset="1" stop-color="#8e2c2c"/></linearGradient><linearGradient id="ga114" gradientUnits="userSpaceOnUse" x1="154.4" y1="83.0" x2="234.5" y2="31.0"><stop offset="0" stop-color="#c52c2c"/><stop offset="0.25" stop-color="#c12c2c"/><stop offset="0.5" stop-color="#bc2c2c"/><stop offset="0.75" stop-color="#a62c2c"/><stop offset="1" stop-color="#832c2c"/></linearGradient><linearGradient id="ga115" gradientUnits="userSpaceOnUse" x1="155.2" y1="80.1" x2="235.3" y2="28.1"><stop offset="0" stop-color="#c42c2c"/><stop offset="0.25" stop-color="#c02c2c"/><stop offset="0.5" stop-color="#ba2c2c"/><stop offset="0.75" stop-color="#9a2c2c"/><stop offset="1" stop-color="#7b2c2c"/></linearGradient><linearGradient id="ga116" gradientUnits="userSpaceOnUse" x1="156.0" y1="77.2" x2="236.2" y2="25.2"><stop offset="0" stop-color="#c22c2c"/><stop offset="0.25" stop-color="#be2c2c"/><stop offset="0.5" stop-color="#b32c2c"/><stop offset="0.75" stop-color="#8e2c2c"/><stop offset="1" stop-color="#722c2c"/></linearGradient><linearGradient id="ga117" gradientUnits="userSpaceOnUse" x1="156.8" y1="74.2" x2="237.1" y2="22.2"><stop offset="0" stop-color="#c12c2c"/><stop offset="0.25" stop-color="#bc2c2c"/><stop offset="0.5" stop-color="#a62c2c"/><stop offset="0.75" stop-color="#832c2c"/><stop offset="1" stop-color="#6c2c2c"/></linearGradient><linearGradient id="ga118" gradientUnits="userSpaceOnUse" x1="157.7" y1="71.1" x2="238.0" y2="19.1"><stop offset="0" stop-color="#c02c2c"/><stop offset="0.25" stop-color="#ba2c2c"/><stop offset="0.5" stop-color="#992c2c"/><stop offset="0.75" stop-color="#7a2c2c"/><stop offset="1" stop-color="#672c2c"/></linearGradient><linearGradient id="ga119" gradientUnits="userSpaceOnUse" x1="158.5" y1="68.0" x2="238.9" y2="16.0"><stop offset="0" stop-color="#be2c2c"/><stop offset="0.25" stop-color="#b32c2c"/><stop offset="0.5" stop-color="#8d2c2c"/><stop offset="0.75" stop-color="#722c2c"/><stop offset="1" stop-color="#662c2c"/></linearGradient></defs>
<line x1="36.55" y1="181.45" x2="143.68" y2="141.87" stroke="#d4d4d4" stroke-width="0.8"/>
<line x1="35.70" y1="160.75" x2="143.66" y2="123.91" stroke="#d4d4d4" stroke-width="0.8"/>
<line x1="34.83" y1="139.73" x2="143.63" y2="105.72" stroke="#d4d4d4" stroke-width="0.8"/>
<line x1="33.95" y1="118.38" x2="143.60" y2="87.28" stroke="#d4d4d4" stroke-width="0.8"/>
<line x1="33.06" y1="96.69" x2="143.58" y2="68.59" stroke="#d4d4d4" stroke-width="0.8"/>
<line x1="32.15" y1="74.66" x2="143.55" y2="49.65" stroke="#d4d4d4" stroke-width="0.8"/>
<line x1="31.23" y1="52.28" x2="143.52" y2="30.46" stroke="#d4d4d4" stroke-width="0.8"/>
<line x1="30.29" y1="29.53" x2="143.49" y2="11.00" stroke="#d4d4d4" stroke-width="0.8"/>
<line x1="48.86" y1="176.90" x2="42.97" y2="16.07" stroke="#d4d4d4" stroke-width="0.8"/>
<line x1="72.30" y1="168.24" x2="67.96" y2="12.37" stroke="#d4d4d4" stroke-width="0.8"/>
<line x1="94.28" y1="160.12" x2="91.30" y2="8.91" stroke="#d4d4d4" stroke-width="0.8"/>
<line x1="114.93" y1="152.49" x2="113.17" y2="5.66" stroke="#d4d4d4" stroke-width="0.8"/>
<line x1="134.38" y1="145.31" x2="133.69" y2="2.62" stroke="#d4d4d4" stroke-width="0.8"/>
<line x1="143.68" y1="141.87" x2="265.57" y2="173.81" stroke="#d4d4d4" stroke-width="0.8"/>
<line x1="143.66" y1="123.91" x2="266.45" y2="153.61" stroke="#d4d4d4" stroke-width="0.8"/>
<line x1="143.63" y1="105.72" x2="267.35" y2="133.11" stroke="#d4d4d4" stroke-width="0.8"/>
<line x1="143.60" y1="87.28" x2="268.26" y2="112.29" stroke="#d4d4d4" stroke-width="0.8"/>
<line x1="143.58" y1="68.59" x2="269.18" y2="91.16" stroke="#d4d4d4" stroke-width="0.8"/>
<line x1="143.55" y1="49.65" x2="270.12" y2="69.70" stroke="#d4d4d4" stroke-width="0.8"/>
<line x1="143.52" y1="30.46" x2="271.07" y2="47.90" stroke="#d4d4d4" stroke-width="0.8"/>
<line x1="143.49" y1="11.00" x2="272.04" y2="25.77" stroke="#d4d4d4" stroke-width="0.8"/>
<line x1="161.91" y1="146.65" x2="162.67" y2="3.16" stroke="#d4d4d4" stroke-width="0.8"/>
<line x1="200.72" y1="156.82" x2="203.64" y2="7.41" stroke="#d4d4d4" stroke-width="0.8"/>
<line x1="242.98" y1="167.90" x2="248.48" y2="12.07" stroke="#d4d4d4" stroke-width="0.8"/>
<line x1="48.86" y1="176.90" x2="176.58" y2="220.00" stroke="#d4d4d4" stroke-width="0.8"/>
<line x1="72.30" y1="168.24" x2="198.92" y2="208.41" stroke="#d4d4d4" stroke-width="0.8"/>
<line x1="94.28" y1="160.12" x2="219.66" y2="197.64" stroke="#d4d4d4" stroke-width="0.8"/>
<line x1="114.93" y1="152.49" x2="238.97" y2="187.62" stroke="#d4d4d4" stroke-width="0.8"/>
<line x1="134.38" y1="145.31" x2="257.00" y2="178.26" stroke="#d4d4d4" stroke-width="0.8"/>
<line x1="55.35" y1="188.00" x2="161.91" y2="146.65" stroke="#d4d4d4" stroke-width="0.8"/>
<line x1="95.80" y1="202.10" x2="200.72" y2="156.82" stroke="#d4d4d4" stroke-width="0.8"/>
<line x1="140.55" y1="217.70" x2="242.98" y2="167.90" stroke="#d4d4d4" stroke-width="0.8"/>
<line x1="29.81" y1="18.03" x2="143.48" y2="1.17" stroke="#8a8a8a" stroke-width="0.9"/>
<line x1="143.48" y1="1.17" x2="272.53" y2="14.57" stroke="#8a8a8a" stroke-width="0.9"/>
<line x1="143.68" y1="141.87" x2="143.48" y2="1.17" stroke="#8a8a8a" stroke-width="0.9"/>
<line x1="265.57" y1="173.81" x2="272.53" y2="14.57" stroke="#8a8a8a" stroke-width="0.9"/>
<line x1="143.68" y1="141.87" x2="265.57" y2="173.81" stroke="#8a8a8a" stroke-width="0.9"/>
<line x1="36.55" y1="181.45" x2="143.68" y2="141.87" stroke="#8a8a8a" stroke-width="0.9"/>
<path d="M72.9,156.3L80.4,153.7L87.6,151.1L94.7,148.6L101.7,146.1L108.5,143.7L115.2,141.3L121.8,139.0L128.2,136.7L134.5,134.5L140.7,132.3L146.8,130.2L152.7,128.1L153.7,129.5L147.8,131.6L141.7,133.8L135.5,136.0L129.2,138.3L122.8,140.6L116.3,143.0L109.6,145.4L102.8,147.9L95.8,150.4L88.7,153.0L81.4,155.6L74.0,158.3Z" fill="#6c2cf3"/>
<path d="M73.6,157.5L81.0,154.9L88.3,152.3L95.4,149.7L102.4,147.2L109.2,144.8L115.9,142.4L122.4,140.0L128.9,137.7L135.2,135.5L141.3,133.2L147.4,131.1L153.4,128.9L154.4,130.3L148.4,132.5L142.4,134.7L136.2,137.0L129.9,139.3L123.5,141.6L116.9,144.0L110.2,146.5L103.4,149.0L96.5,151.5L89.4,154.1L82.1,156.8L74.7,159.5Z" fill="#712cf3"/>
<path d="M74.3,158.8L81.7,156.1L89.0,153.4L96.1,150.8L103.0,148.3L109.8,145.8L116.5,143.4L123.1,141.0L129.5,138.7L135.8,136.4L142.0,134.2L148.0,132.0L154.0,129.8L155.0,131.1L149.0,133.3L143.0,135.6L136.8,137.8L130.5,140.2L124.1,142.6L117.6,145.0L110.9,147.5L104.1,150.0L97.1,152.6L90.0,155.2L82.8,157.9L75.4,160.7Z" fill="#752cf3"/>
<path d="M75.0,160.0L82.4,157.2L89.6,154.6L96.7,151.9L103.7,149.4L110.5,146.9L117.2,144.4L123.7,142.0L130.1,139.6L136.4,137.3L142.6,135.0L148.7,132.8L154.6,130.6L155.6,131.9L149.7,134.1L143.6,136.4L137.5,138.7L131.2,141.1L124.7,143.5L118.2,145.9L111.5,148.5L104.7,151.0L97.8,153.6L90.7,156.3L83.4,159.0L76.0,161.8Z" fill="#7a2cf3"/>
<path d="M75.6,161.1L83.0,158.4L90.3,155.7L97.4,153.0L104.3,150.4L111.1,147.9L117.8,145.4L124.4,142.9L130.8,140.5L137.1,138.2L143.2,135.9L149.3,133.6L155.2,131.4L156.2,132.6L150.3,134.9L144.3,137.2L138.1,139.5L131.8,141.9L125.4,144.4L118.9,146.9L112.2,149.4L105.4,152.0L98.4,154.6L91.3,157.3L84.1,160.1L76.7,162.9Z" fill="url(#ga4)"/>
<path d="M76.3,162.2L83.7,159.5L90.9,156.7L98.0,154.0L105.0,151.4L111.8,148.8L118.5,146.3L125.0,143.8L131.4,141.4L137.7,139.0L143.9,136.7L149.9,134.4L155.9,132.2L156.9,133.4L150.9,135.6L144.9,138.0L138.7,140.3L132.4,142.8L126.0,145.2L119.5,147.8L112.8,150.3L106.0,153.0L99.1,155.6L92.0,158.4L84.8,161.1L77.4,164.0Z" fill="url(#ga5)"/>
<path d="M77.0,163.3L84.4,160.5L91.6,157.8L98.7,155.0L105.6,152.4L112.4,149.8L119.1,147.2L125.7,144.7L132.1,142.3L138.4,139.9L144.5,137.5L150.6,135.2L156.5,132.9L157.5,134.1L151.6,136.4L145.5,138.7L139.4,141.1L133.1,143.6L126.7,146.1L120.2,148.6L113.5,151.2L106.7,153.9L99.8,156.6L92.7,159.3L85.4,162.2L78.1,165.0Z" fill="url(#ga6)"/>
<path d="M77.7,164.4L85.0,161.6L92.3,158.8L99.4,156.0L106.3,153.3L113.1,150.7L119.8,148.1L126.3,145.6L132.7,143.1L139.0,140.7L145.2,138.3L151.2,135.9L157.1,133.6L158.1,134.7L152.2,137.1L146.2,139.4L140.0,141.9L133.7,144.4L127.3,146.9L120.8,149.5L114.1,152.1L107.4,154.8L100.4,157.5L93.3,160.3L86.1,163.2L78.7,166.1Z" fill="url(#ga7)"/>
<path d="M78.3,165.5L85.7,162.6L92.9,159.7L100.0,157.0L107.0,154.2L113.8,151.6L120.4,149.0L126.9,146.4L133.4,143.9L139.6,141.4L145.8,139.0L151.8,136.6L157.8,134.3L158.8,135.4L152.9,137.7L146.8,140.1L140.7,142.6L134.4,145.1L128.0,147.7L121.5,150.3L114.8,152.9L108.0,155.6L101.1,158.4L94.0,161.2L86.8,164.1L79.4,167.1Z" fill="url(#ga8)"/>
<path d="M79.0,166.5L86.4,163.5L93.6,160.7L100.7,157.9L107.6,155.1L114.4,152.4L121.1,149.8L127.6,147.2L134.0,144.7L140.3,142.2L146.4,139.7L152.5,137.3L158.4,135.0L159.4,136.0L153.5,138.4L147.5,140.8L141.3,143.3L135.0,145.8L128.6,148.4L122.1,151.0L115.5,153.7L108.7,156.5L101.7,159.3L94.7,162.1L87.5,165.0L80.1,168.0Z" fill="url(#ga9)"/>
<path d="M79.7,167.4L87.0,164.5L94.3,161.6L101.3,158.7L108.3,156.0L115.1,153.2L121.7,150.6L128.2,148.0L134.6,145.4L140.9,142.9L147.1,140.4L153.1,138.0L159.0,135.6L160.0,136.6L154.1,139.0L148.1,141.4L141.9,143.9L135.7,146.5L129.3,149.1L122.8,151.8L116.1,154.5L109.3,157.3L102.4,160.1L95.3,163.0L88.1,165.9L80.8,168.9Z" fill="url(#ga10)"/>
<path d="M80.3,168.4L87.7,165.4L94.9,162.5L102.0,159.6L108.9,156.8L115.7,154.0L122.4,151.3L128.9,148.7L135.3,146.1L141.6,143.6L147.7,141.1L153.7,138.6L159.7,136.2L160.7,137.1L154.8,139.6L148.7,142.0L142.6,144.6L136.3,147.2L129.9,149.8L123.4,152.5L116.8,155.2L110.0,158.0L103.1,160.9L96.0,163.8L88.8,166.8L81.4,169.8Z" fill="url(#ga11)"/>
<path d="M81.0,169.3L88.4,166.3L95.6,163.3L102.7,160.4L109.6,157.6L116.4,154.8L123.0,152.1L129.5,149.4L135.9,146.8L142.2,144.2L148.3,141.7L154.4,139.2L160.3,136.8L161.3,137.6L155.4,140.1L149.4,142.6L143.2,145.2L137.0,147.8L130.6,150.5L124.1,153.2L117.4,156.0L110.6,158.8L103.7,161.7L96.7,164.6L89.5,167.6L82.1,170.7Z" fill="url(#ga12)"/>
<path d="M81.7,170.2L89.1,167.1L96.3,164.1L103.3,161.2L110.2,158.3L117.0,155.5L123.7,152.8L130.2,150.1L136.6,147.4L142.8,144.8L149.0,142.3L155.0,139.8L160.9,137.3L162.0,138.1L156.0,140.6L150.0,143.2L143.9,145.8L137.6,148.4L131.2,151.1L124.7,153.8L118.1,156.6L111.3,159.5L104.4,162.4L97.3,165.4L90.1,168.4L82.8,171.5Z" fill="url(#ga13)"/>
<path d="M82.4,171.0L89.7,167.9L96.9,164.9L104.0,162.0L110.9,159.1L117.7,156.2L124.3,153.4L130.8,150.7L137.2,148.0L143.5,145.4L149.6,142.8L155.7,140.3L161.6,137.8L162.6,138.6L156.7,141.1L150.7,143.7L144.5,146.3L138.3,149.0L131.9,151.7L125.4,154.5L118.7,157.3L112.0,160.2L105.1,163.1L98.0,166.1L90.8,169.2L83.4,172.3Z" fill="url(#ga14)"/>
<path d="M83.0,171.9L90.4,168.7L97.6,165.7L104.7,162.7L111.6,159.8L118.3,156.9L125.0,154.1L131.5,151.3L137.9,148.6L144.1,146.0L150.3,143.4L156.3,140.8L162.2,138.3L163.2,139.1L157.3,141.6L151.3,144.2L145.2,146.8L138.9,149.5L132.5,152.3L126.0,155.1L119.4,157.9L112.6,160.8L105.7,163.8L98.7,166.8L91.5,169.9L84.1,173.1Z" fill="url(#ga15)"/>
<path d="M83.7,172.6L91.1,169.5L98.3,166.4L105.3,163.4L112.2,160.4L119.0,157.5L125.6,154.7L132.1,151.9L138.5,149.2L144.8,146.5L150.9,143.9L156.9,141.3L162.8,138.8L163.9,139.5L158.0,142.0L151.9,144.7L145.8,147.3L139.6,150.0L133.2,152.8L126.7,155.6L120.0,158.5L113.3,161.5L106.4,164.5L99.3,167.5L92.1,170.6L84.8,173.8Z" fill="url(#ga16)"/>
<path d="M84.4,173.4L91.7,170.2L98.9,167.1L106.0,164.1L112.9,161.1L119.7,158.2L126.3,155.3L132.8,152.5L139.2,149.7L145.4,147.0L151.6,144.4L157.6,141.8L163.5,139.2L164.5,139.9L158.6,142.4L152.6,145.1L146.5,147.8L140.2,150.5L133.8,153.3L127.3,156.2L120.7,159.1L113.9,162.0L107.0,165.1L100.0,168.2L92.8,171.3L85.5,174.5Z" fill="url(#ga17)"/>
<path d="M85.1,174.1L92.4,170.9L99.6,167.8L106.6,164.7L113.5,161.7L120.3,158.7L126.9,155.9L133.4,153.0L139.8,150.2L146.1,147.5L152.2,144.8L158.2,142.2L164.1,139.6L165.2,140.2L159.3,142.8L153.2,145.5L147.1,148.2L140.9,151.0L134.5,153.8L128.0,156.7L121.4,159.6L114.6,162.6L107.7,165.7L100.7,168.8L93.5,172.0L86.1,175.2Z" fill="url(#ga18)"/>
<path d="M85.7,174.8L93.1,171.6L100.3,168.4L107.3,165.3L114.2,162.3L121.0,159.3L127.6,156.4L134.1,153.5L140.5,150.7L146.7,148.0L152.9,145.3L158.9,142.6L164.8,140.0L165.8,140.5L159.9,143.2L153.9,145.9L147.8,148.6L141.5,151.4L135.1,154.3L128.7,157.2L122.0,160.1L115.3,163.1L108.4,166.2L101.3,169.4L94.1,172.6L86.8,175.9Z" fill="url(#ga19)"/>
<path d="M86.4,175.5L93.7,172.2L100.9,169.0L108.0,165.9L114.9,162.8L121.6,159.8L128.3,156.9L134.8,154.0L141.1,151.2L147.4,148.4L153.5,145.6L159.5,143.0L165.4,140.4L166.4,140.8L160.5,143.5L154.5,146.2L148.4,149.0L142.2,151.8L135.8,154.7L129.3,157.6L122.7,160.6L115.9,163.6L109.0,166.8L102.0,169.9L94.8,173.2L87.5,176.5Z" fill="url(#ga20)"/>
<path d="M87.1,176.1L94.4,172.8L101.6,169.6L108.6,166.4L115.5,163.3L122.3,160.3L128.9,157.3L135.4,154.4L141.8,151.6L148.0,148.8L154.1,146.0L160.2,143.3L166.1,140.7L167.1,141.1L161.2,143.8L155.2,146.5L149.1,149.3L142.8,152.2L136.5,155.1L130.0,158.0L123.3,161.0L116.6,164.1L109.7,167.3L102.7,170.5L95.5,173.7L88.1,177.1Z" fill="url(#ga21)"/>
<path d="M87.7,176.7L95.1,173.4L102.3,170.1L109.3,167.0L116.2,163.8L122.9,160.8L129.6,157.8L136.1,154.8L142.4,152.0L148.7,149.1L154.8,146.4L160.8,143.6L166.7,141.0L167.7,141.4L161.8,144.1L155.8,146.8L149.7,149.6L143.5,152.5L137.1,155.4L130.6,158.4L124.0,161.5L117.3,164.6L110.4,167.7L103.3,171.0L96.2,174.3L88.8,177.6Z" fill="url(#ga22)"/>
<path d="M88.4,177.3L95.7,173.9L102.9,170.7L110.0,167.4L116.9,164.3L123.6,161.2L130.2,158.2L136.7,155.2L143.1,152.3L149.3,149.5L155.4,146.7L161.4,143.9L167.3,141.2L168.4,141.6L162.5,144.3L156.5,147.1L150.4,149.9L144.1,152.8L137.8,155.8L131.3,158.8L124.7,161.8L117.9,165.0L111.0,168.2L104.0,171.4L96.8,174.7L89.5,178.1Z" fill="url(#ga23)"/>
<path d="M89.1,177.8L96.4,174.5L103.6,171.1L110.6,167.9L117.5,164.7L124.3,161.6L130.9,158.6L137.4,155.6L143.7,152.6L150.0,149.8L156.1,146.9L162.1,144.2L168.0,141.5L169.0,141.8L163.1,144.5L157.1,147.3L151.0,150.2L144.8,153.1L138.4,156.1L131.9,159.1L125.3,162.2L118.6,165.3L111.7,168.6L104.7,171.9L97.5,175.2L90.2,178.6Z" fill="url(#ga24)"/>
<path d="M89.8,178.3L97.1,174.9L104.3,171.6L111.3,168.3L118.2,165.1L124.9,162.0L131.5,158.9L138.0,155.9L144.4,152.9L150.6,150.0L156.7,147.2L162.7,144.4L168.6,141.7L169.7,141.9L163.8,144.7L157.8,147.5L151.7,150.4L145.4,153.3L139.1,156.3L132.6,159.4L126.0,162.5L119.2,165.7L112.4,168.9L105.3,172.3L98.2,175.6L90.8,179.1Z" fill="url(#ga25)"/>
<path d="M90.4,178.8L97.8,175.4L104.9,172.0L112.0,168.7L118.8,165.5L125.6,162.3L132.2,159.2L138.7,156.2L145.0,153.2L151.3,150.3L157.4,147.4L163.4,144.6L169.3,141.8L170.3,142.1L164.4,144.8L158.4,147.7L152.3,150.6L146.1,153.6L139.7,156.6L133.3,159.7L126.7,162.8L119.9,166.0L113.0,169.3L106.0,172.6L98.8,176.0L91.5,179.5Z" fill="url(#ga26)"/>
<path d="M91.1,179.3L98.4,175.8L105.6,172.4L112.6,169.1L119.5,165.8L126.3,162.6L132.9,159.5L139.3,156.4L145.7,153.4L151.9,150.5L158.1,147.6L164.1,144.8L169.9,142.0L171.0,142.2L165.1,145.0L159.1,147.8L153.0,150.8L146.8,153.8L140.4,156.8L133.9,159.9L127.3,163.1L120.6,166.3L113.7,169.6L106.7,173.0L99.5,176.4L92.2,179.9Z" fill="url(#ga27)"/>
<path d="M91.8,179.7L99.1,176.2L106.3,172.8L113.3,169.4L120.2,166.1L126.9,162.9L133.5,159.8L140.0,156.7L146.4,153.6L152.6,150.7L158.7,147.8L164.7,144.9L170.6,142.1L171.6,142.2L165.7,145.1L159.8,148.0L153.6,150.9L147.4,153.9L141.1,157.0L134.6,160.1L128.0,163.3L121.2,166.6L114.4,169.9L107.3,173.3L100.2,176.7L92.9,180.3Z" fill="url(#ga28)"/>
<path d="M92.5,180.1L99.8,176.5L106.9,173.1L114.0,169.7L120.8,166.4L127.6,163.2L134.2,160.0L140.7,156.9L147.0,153.8L153.3,150.8L159.4,147.9L165.4,145.0L171.2,142.2L172.3,142.3L166.4,145.1L160.4,148.0L154.3,151.0L148.1,154.1L141.7,157.1L135.3,160.3L128.7,163.5L121.9,166.8L115.0,170.1L108.0,173.6L100.9,177.0L93.5,180.6Z" fill="url(#ga29)"/>
<path d="M93.1,180.4L100.4,176.9L107.6,173.4L114.6,170.0L121.5,166.7L128.3,163.4L134.9,160.2L141.3,157.1L147.7,154.0L153.9,151.0L160.0,148.0L166.0,145.1L171.9,142.2L172.9,142.3L167.1,145.2L161.1,148.1L155.0,151.1L148.7,154.2L142.4,157.3L135.9,160.4L129.3,163.7L122.6,167.0L115.7,170.4L108.7,173.8L101.5,177.3L94.2,180.9Z" fill="url(#ga30)"/>
<path d="M93.8,180.7L101.1,177.2L108.3,173.7L115.3,170.2L122.2,166.9L128.9,163.6L135.5,160.4L142.0,157.2L148.3,154.1L154.6,151.1L160.7,148.1L166.7,145.1L172.5,142.3L173.6,142.3L167.7,145.2L161.7,148.1L155.6,151.1L149.4,154.2L143.1,157.4L136.6,160.6L130.0,163.8L123.2,167.2L116.4,170.5L109.4,174.0L102.2,177.6L94.9,181.2Z" fill="url(#ga31)"/>
<path d="M94.5,181.0L101.8,177.4L109.0,173.9L116.0,170.4L122.8,167.1L129.6,163.7L136.2,160.5L142.7,157.3L149.0,154.2L155.2,151.1L161.3,148.1L167.3,145.2L173.2,142.3L174.3,142.2L168.4,145.1L162.4,148.1L156.3,151.2L150.1,154.3L143.7,157.4L137.3,160.6L130.7,163.9L123.9,167.3L117.0,170.7L110.0,174.2L102.9,177.8L95.6,181.4Z" fill="url(#ga32)"/>
<path d="M95.2,181.3L102.5,177.6L109.6,174.1L116.6,170.6L123.5,167.2L130.3,163.9L136.9,160.6L143.3,157.4L149.7,154.2L155.9,151.2L162.0,148.1L168.0,145.2L173.9,142.3L174.9,142.1L169.0,145.1L163.1,148.1L157.0,151.2L150.7,154.3L144.4,157.5L137.9,160.7L131.3,164.0L124.6,167.4L117.7,170.8L110.7,174.4L103.5,177.9L96.2,181.6Z" fill="url(#ga33)"/>
<path d="M95.8,181.5L103.1,177.8L110.3,174.3L117.3,170.8L124.2,167.3L130.9,164.0L137.5,160.7L144.0,157.4L150.3,154.3L156.6,151.2L162.7,148.1L168.6,145.1L174.5,142.2L175.6,142.0L169.7,145.0L163.7,148.0L157.6,151.1L151.4,154.3L145.1,157.5L138.6,160.7L132.0,164.1L125.3,167.5L118.4,170.9L111.4,174.5L104.2,178.1L96.9,181.8Z" fill="url(#ga34)"/>
<path d="M96.5,181.7L103.8,178.0L111.0,174.4L118.0,170.9L124.9,167.4L131.6,164.0L138.2,160.7L144.7,157.5L151.0,154.3L157.2,151.1L163.3,148.1L169.3,145.1L175.2,142.1L176.2,141.9L170.4,144.9L164.4,147.9L158.3,151.0L152.1,154.2L145.7,157.4L139.3,160.7L132.7,164.1L125.9,167.5L119.1,171.0L112.1,174.6L104.9,178.2L97.6,181.9Z" fill="url(#ga35)"/>
<path d="M97.2,181.8L104.5,178.1L111.7,174.5L118.7,171.0L125.5,167.5L132.3,164.1L138.9,160.7L145.3,157.5L151.7,154.2L157.9,151.1L164.0,148.0L170.0,145.0L175.8,142.0L176.9,141.7L171.0,144.8L165.0,147.8L158.9,150.9L152.7,154.1L146.4,157.4L139.9,160.7L133.3,164.1L126.6,167.5L119.7,171.0L112.7,174.6L105.6,178.3L98.3,182.0Z" fill="url(#ga36)"/>
<path d="M97.9,182.0L105.2,178.2L112.3,174.6L119.3,171.0L126.2,167.5L132.9,164.1L139.5,160.7L146.0,157.4L152.3,154.2L158.5,151.0L164.6,147.9L170.6,144.8L176.5,141.8L177.6,141.6L171.7,144.6L165.7,147.7L159.6,150.8L153.4,154.0L147.1,157.3L140.6,160.6L134.0,164.0L127.3,167.5L120.4,171.0L113.4,174.6L106.3,178.3L99.0,182.1Z" fill="url(#ga37)"/>
<path d="M98.5,182.1L105.8,178.3L113.0,174.6L120.0,171.0L126.9,167.5L133.6,164.1L140.2,160.7L146.7,157.3L153.0,154.1L159.2,150.9L165.3,147.8L171.3,144.7L177.2,141.7L178.2,141.3L172.4,144.4L166.4,147.5L160.3,150.7L154.1,153.9L147.7,157.2L141.3,160.5L134.7,163.9L128.0,167.4L121.1,171.0L114.1,174.6L106.9,178.4L99.6,182.1Z" fill="url(#ga38)"/>
<path d="M99.2,182.1L106.5,178.3L113.7,174.6L120.7,171.0L127.5,167.5L134.3,164.0L140.9,160.6L147.3,157.2L153.7,154.0L159.9,150.8L166.0,147.6L172.0,144.5L177.8,141.5L178.9,141.1L173.0,144.2L167.1,147.3L161.0,150.5L154.7,153.7L148.4,157.0L141.9,160.4L135.4,163.8L128.6,167.4L121.8,170.9L114.8,174.6L107.6,178.3L100.3,182.2Z" fill="url(#ga39)"/>
<path d="M99.9,182.2L107.2,178.4L114.4,174.6L121.4,171.0L128.2,167.4L135.0,163.9L141.5,160.5L148.0,157.1L154.3,153.8L160.6,150.6L166.7,147.4L172.6,144.3L178.5,141.2L179.6,140.8L173.7,143.9L167.7,147.0L161.6,150.2L155.4,153.5L149.1,156.8L142.6,160.2L136.0,163.7L129.3,167.2L122.4,170.8L115.4,174.5L108.3,178.3L101.0,182.1Z" fill="url(#ga40)"/>
<path d="M100.6,182.1L107.9,178.3L115.0,174.6L122.0,170.9L128.9,167.3L135.6,163.8L142.2,160.3L148.7,157.0L155.0,153.6L161.2,150.4L167.3,147.2L173.3,144.1L179.2,141.0L180.2,140.5L174.4,143.6L168.4,146.8L162.3,150.0L156.1,153.3L149.8,156.6L143.3,160.0L136.7,163.5L130.0,167.1L123.1,170.7L116.1,174.4L109.0,178.2L101.7,182.1Z" fill="url(#ga41)"/>
<path d="M101.3,182.1L108.6,178.3L115.7,174.5L122.7,170.8L129.6,167.2L136.3,163.6L142.9,160.2L149.4,156.8L155.7,153.4L161.9,150.1L168.0,146.9L174.0,143.8L179.8,140.7L180.9,140.2L175.0,143.3L169.1,146.5L163.0,149.7L156.8,153.0L150.4,156.4L144.0,159.8L137.4,163.3L130.7,166.9L123.8,170.6L116.8,174.3L109.7,178.1L102.4,182.0Z" fill="url(#ga42)"/>
<path d="M101.9,182.0L109.2,178.2L116.4,174.4L123.4,170.7L130.3,167.0L137.0,163.5L143.6,160.0L150.0,156.5L156.4,153.2L162.6,149.9L168.7,146.6L174.6,143.5L180.5,140.4L181.6,139.8L175.7,142.9L169.7,146.1L163.7,149.4L157.4,152.7L151.1,156.1L144.7,159.6L138.1,163.1L131.3,166.7L124.5,170.4L117.5,174.1L110.3,178.0L103.0,181.9Z" fill="url(#ga43)"/>
<path d="M102.6,181.9L109.9,178.0L117.1,174.2L124.1,170.5L130.9,166.8L137.7,163.2L144.2,159.7L150.7,156.3L157.0,152.9L163.2,149.6L169.3,146.3L175.3,143.1L181.2,140.0L182.3,139.4L176.4,142.5L170.4,145.8L164.3,149.0L158.1,152.4L151.8,155.8L145.3,159.3L138.7,162.8L132.0,166.5L125.2,170.2L118.2,173.9L111.0,177.8L103.7,181.7Z" fill="url(#ga44)"/>
<path d="M103.3,181.8L110.6,177.9L117.8,174.1L124.8,170.3L131.6,166.6L138.3,163.0L144.9,159.5L151.4,156.0L157.7,152.6L163.9,149.3L170.0,146.0L176.0,142.8L181.9,139.6L182.9,139.0L177.1,142.1L171.1,145.4L165.0,148.7L158.8,152.0L152.5,155.5L146.0,159.0L139.4,162.5L132.7,166.2L125.8,169.9L118.8,173.7L111.7,177.6L104.4,181.5Z" fill="url(#ga45)"/>
<path d="M104.0,181.6L111.3,177.7L118.4,173.8L125.4,170.1L132.3,166.4L139.0,162.7L145.6,159.2L152.1,155.7L158.4,152.3L164.6,148.9L170.7,145.6L176.7,142.4L182.5,139.2L183.6,138.5L177.8,141.7L171.8,144.9L165.7,148.3L159.5,151.6L153.2,155.1L146.7,158.6L140.1,162.2L133.4,165.9L126.5,169.6L119.5,173.4L112.4,177.3L105.1,181.3Z" fill="url(#ga46)"/>
<path d="M104.7,181.4L112.0,177.5L119.1,173.6L126.1,169.8L133.0,166.1L139.7,162.4L146.3,158.8L152.7,155.3L159.1,151.9L165.3,148.5L171.4,145.2L177.4,142.0L183.2,138.8L184.3,138.0L178.4,141.2L172.5,144.5L166.4,147.8L160.2,151.2L153.8,154.7L147.4,158.2L140.8,161.9L134.1,165.5L127.2,169.3L120.2,173.1L113.1,177.1L105.8,181.1Z" fill="url(#ga47)"/>
<path d="M105.4,181.2L112.7,177.2L119.8,173.3L126.8,169.5L133.7,165.7L140.4,162.1L147.0,158.5L153.4,154.9L159.8,151.5L166.0,148.1L172.1,144.8L178.0,141.5L183.9,138.3L185.0,137.5L179.1,140.7L173.1,144.0L167.1,147.4L160.9,150.8L154.5,154.3L148.1,157.8L141.5,161.5L134.8,165.2L127.9,168.9L120.9,172.8L113.8,176.7L106.5,180.8Z" fill="url(#ga48)"/>
<path d="M106.1,180.9L113.3,176.9L120.5,173.0L127.5,169.2L134.3,165.4L141.1,161.7L147.7,158.1L154.1,154.5L160.4,151.1L166.6,147.6L172.7,144.3L178.7,141.0L184.6,137.8L185.7,136.9L179.8,140.2L173.8,143.5L167.7,146.9L161.5,150.3L155.2,153.8L148.8,157.4L142.2,161.0L135.4,164.8L128.6,168.6L121.6,172.4L114.4,176.4L107.2,180.4Z" fill="url(#ga49)"/>
<path d="M106.7,180.6L114.0,176.6L121.2,172.7L128.2,168.8L135.0,165.0L141.8,161.3L148.3,157.7L154.8,154.1L161.1,150.6L167.3,147.2L173.4,143.8L179.4,140.5L185.3,137.3L186.4,136.3L180.5,139.6L174.5,142.9L168.4,146.3L162.2,149.8L155.9,153.3L149.4,156.9L142.9,160.6L136.1,164.3L129.3,168.1L122.3,172.0L115.1,176.0L107.8,180.1Z" fill="url(#ga50)"/>
<path d="M107.4,180.3L114.7,176.3L121.9,172.3L128.9,168.4L135.7,164.6L142.4,160.9L149.0,157.2L155.5,153.6L161.8,150.1L168.0,146.6L174.1,143.3L180.1,139.9L185.9,136.7L187.0,135.7L181.2,139.0L175.2,142.4L169.1,145.8L162.9,149.2L156.6,152.8L150.1,156.4L143.5,160.1L136.8,163.9L130.0,167.7L123.0,171.6L115.8,175.6L108.5,179.7Z" fill="url(#ga51)"/>
<path d="M108.1,179.9L115.4,175.9L122.6,171.9L129.6,168.0L136.4,164.1L143.1,160.4L149.7,156.7L156.2,153.1L162.5,149.6L168.7,146.1L174.8,142.7L180.8,139.4L186.6,136.1L187.7,135.1L181.9,138.4L175.9,141.7L169.8,145.2L163.6,148.7L157.3,152.2L150.8,155.9L144.2,159.6L137.5,163.4L130.7,167.2L123.7,171.2L116.5,175.2L109.2,179.3Z" fill="url(#ga52)"/>
<path d="M108.8,179.5L116.1,175.4L123.2,171.4L130.2,167.5L137.1,163.7L143.8,159.9L150.4,156.2L156.9,152.6L163.2,149.0L169.4,145.5L175.5,142.1L181.5,138.8L187.3,135.5L188.4,134.4L182.6,137.7L176.6,141.1L170.5,144.5L164.3,148.1L158.0,151.6L151.5,155.3L144.9,159.0L138.2,162.8L131.4,166.7L124.4,170.7L117.2,174.7L109.9,178.8Z" fill="url(#ga53)"/>
<path d="M109.5,179.1L116.8,175.0L123.9,171.0L130.9,167.0L137.8,163.1L144.5,159.4L151.1,155.6L157.6,152.0L163.9,148.4L170.1,144.9L176.2,141.5L182.1,138.1L188.0,134.8L189.1,133.7L183.3,137.0L177.3,140.4L171.2,143.9L165.0,147.4L158.7,151.0L152.2,154.7L145.6,158.4L138.9,162.2L132.0,166.1L125.0,170.1L117.9,174.2L110.6,178.3Z" fill="url(#ga54)"/>
<path d="M110.2,178.6L117.5,174.5L124.6,170.4L131.6,166.5L138.5,162.6L145.2,158.8L151.8,155.0L158.2,151.4L164.6,147.8L170.8,144.3L176.9,140.8L182.8,137.4L188.7,134.1L189.8,133.0L184.0,136.3L178.0,139.7L171.9,143.2L165.7,146.7L159.4,150.4L152.9,154.0L146.3,157.8L139.6,161.6L132.7,165.6L125.7,169.6L118.6,173.6L111.3,177.8Z" fill="url(#ga55)"/>
<path d="M110.9,178.1L118.2,174.0L125.3,169.9L132.3,165.9L139.2,162.0L145.9,158.2L152.5,154.4L158.9,150.8L165.3,147.1L171.5,143.6L177.6,140.1L183.5,136.7L189.4,133.4L190.5,132.2L184.6,135.5L178.7,139.0L172.6,142.5L166.4,146.0L160.1,149.7L153.6,153.4L147.0,157.2L140.3,161.0L133.4,164.9L126.4,169.0L119.3,173.1L112.0,177.3Z" fill="url(#ga56)"/>
<path d="M111.6,177.6L118.9,173.4L126.0,169.3L133.0,165.3L139.9,161.4L146.6,157.5L153.2,153.8L159.6,150.1L166.0,146.5L172.2,142.9L178.3,139.4L184.2,136.0L190.1,132.6L191.2,131.4L185.3,134.8L179.4,138.2L173.3,141.7L167.1,145.3L160.8,148.9L154.3,152.7L147.7,156.5L141.0,160.3L134.1,164.3L127.1,168.3L120.0,172.5L112.7,176.7Z" fill="url(#ga57)"/>
<path d="M112.3,177.0L119.6,172.8L126.7,168.7L133.7,164.7L140.6,160.7L147.3,156.9L153.9,153.1L160.3,149.4L166.7,145.7L172.9,142.2L179.0,138.7L184.9,135.2L190.8,131.9L191.9,130.5L186.0,133.9L180.1,137.4L174.0,140.9L167.8,144.5L161.5,148.2L155.0,151.9L148.4,155.7L141.7,159.6L134.8,163.6L127.8,167.7L120.7,171.8L113.4,176.0Z" fill="url(#ga58)"/>
<path d="M113.0,176.4L120.3,172.2L127.4,168.1L134.4,164.0L141.3,160.1L148.0,156.2L154.6,152.4L161.0,148.6L167.4,145.0L173.6,141.4L179.7,137.9L185.6,134.4L191.5,131.1L192.6,129.7L186.8,133.1L180.8,136.6L174.7,140.1L168.5,143.7L162.2,147.4L155.7,151.2L149.1,155.0L142.4,158.9L135.5,162.9L128.5,167.0L121.4,171.1L114.1,175.4Z" fill="url(#ga59)"/>
<path d="M113.7,175.8L121.0,171.5L128.1,167.4L135.1,163.3L142.0,159.4L148.7,155.5L155.3,151.6L161.7,147.9L168.1,144.2L174.3,140.6L180.4,137.1L186.3,133.6L192.2,130.2L193.3,128.8L187.5,132.2L181.5,135.7L175.4,139.3L169.2,142.9L162.9,146.6L156.4,150.4L149.8,154.2L143.1,158.1L136.2,162.1L129.2,166.2L122.1,170.4L114.8,174.7Z" fill="url(#ga60)"/>
<path d="M114.4,175.1L121.7,170.8L128.8,166.7L135.8,162.6L142.7,158.6L149.4,154.7L156.0,150.8L162.4,147.1L168.8,143.4L175.0,139.8L181.1,136.2L187.0,132.7L192.9,129.3L194.0,127.9L188.2,131.3L182.2,134.8L176.1,138.4L169.9,142.0L163.6,145.7L157.1,149.5L150.5,153.4L143.8,157.3L136.9,161.4L129.9,165.5L122.8,169.7L115.5,174.0Z" fill="url(#ga61)"/>
<path d="M115.1,174.4L122.4,170.1L129.5,165.9L136.5,161.8L143.4,157.8L150.1,153.9L156.7,150.0L163.1,146.2L169.5,142.5L175.7,138.9L181.8,135.3L187.7,131.8L193.6,128.4L194.7,126.9L188.9,130.3L182.9,133.9L176.8,137.5L170.6,141.1L164.3,144.8L157.8,148.6L151.2,152.5L144.5,156.5L137.6,160.5L130.6,164.7L123.5,168.9L116.2,173.2Z" fill="url(#ga62)"/>
<path d="M115.8,173.6L123.1,169.4L130.2,165.2L137.2,161.0L144.1,157.0L150.8,153.0L157.4,149.2L163.8,145.4L170.2,141.7L176.4,138.0L182.5,134.4L188.4,130.9L194.3,127.5L195.4,125.9L189.6,129.4L183.6,132.9L177.5,136.5L171.3,140.2L165.0,143.9L158.5,147.7L151.9,151.6L145.2,155.6L138.3,159.7L131.3,163.8L124.2,168.1L116.9,172.4Z" fill="url(#ga63)"/>
<path d="M116.5,172.9L123.8,168.6L130.9,164.3L137.9,160.2L144.8,156.1L151.5,152.2L158.1,148.3L164.6,144.5L170.9,140.7L177.1,137.1L183.2,133.5L189.2,130.0L195.0,126.5L196.2,124.9L190.3,128.4L184.3,131.9L178.2,135.5L172.0,139.2L165.7,143.0L159.2,146.8L152.6,150.7L145.9,154.7L139.1,158.8L132.0,163.0L124.9,167.2L117.6,171.5Z" fill="url(#ga64)"/>
<path d="M117.2,172.1L124.5,167.7L131.6,163.5L138.6,159.3L145.5,155.3L152.2,151.3L158.8,147.4L165.3,143.5L171.6,139.8L177.8,136.1L183.9,132.5L189.9,129.0L195.7,125.5L196.9,123.8L191.0,127.3L185.0,130.9L178.9,134.5L172.7,138.2L166.4,142.0L159.9,145.8L153.4,149.8L146.6,153.8L139.8,157.9L132.8,162.0L125.6,166.3L118.3,170.7Z" fill="url(#ga65)"/>
<path d="M117.9,171.2L125.2,166.9L132.3,162.6L139.3,158.4L146.2,154.3L152.9,150.3L159.5,146.4L166.0,142.6L172.3,138.8L178.5,135.1L184.6,131.5L190.6,127.9L196.4,124.4L197.6,122.7L191.7,126.2L185.8,129.8L179.7,133.4L173.5,137.2L167.1,141.0L160.7,144.8L154.1,148.8L147.3,152.8L140.5,156.9L133.5,161.1L126.3,165.4L119.0,169.8Z" fill="url(#ga66)"/>
<path d="M118.6,170.3L125.9,165.9L133.0,161.7L140.0,157.5L146.9,153.4L153.6,149.4L160.2,145.4L166.7,141.6L173.0,137.8L179.2,134.1L185.3,130.4L191.3,126.9L197.2,123.4L198.3,121.6L192.5,125.1L186.5,128.7L180.4,132.4L174.2,136.1L167.8,139.9L161.4,143.8L154.8,147.7L148.1,151.8L141.2,155.9L134.2,160.1L127.0,164.4L119.7,168.8Z" fill="url(#ga67)"/>
<path d="M119.3,169.4L126.6,165.0L133.8,160.7L140.8,156.5L147.6,152.4L154.4,148.4L160.9,144.4L167.4,140.5L173.7,136.7L180.0,133.0L186.0,129.4L192.0,125.8L197.9,122.3L199.0,120.4L193.2,124.0L187.2,127.6L181.1,131.2L174.9,135.0L168.6,138.8L162.1,142.7L155.5,146.7L148.8,150.7L141.9,154.9L134.9,159.1L127.7,163.4L120.4,167.8Z" fill="url(#ga68)"/>
<path d="M120.0,168.4L127.3,164.0L134.5,159.7L141.5,155.5L148.3,151.4L155.1,147.3L161.7,143.4L168.1,139.5L174.5,135.7L180.7,131.9L186.8,128.3L192.7,124.7L198.6,121.1L199.8,119.2L193.9,122.8L187.9,126.4L181.8,130.1L175.6,133.9L169.3,137.7L162.8,141.6L156.2,145.6L149.5,149.7L142.6,153.8L135.6,158.1L128.4,162.4L121.1,166.8Z" fill="url(#ga69)"/>
<path d="M120.7,167.4L128.0,163.0L135.2,158.7L142.2,154.5L149.1,150.3L155.8,146.3L162.4,142.3L168.8,138.4L175.2,134.5L181.4,130.8L187.5,127.1L193.5,123.5L199.3,120.0L200.5,118.0L194.6,121.6L188.6,125.2L182.6,128.9L176.3,132.7L170.0,136.5L163.5,140.5L156.9,144.5L150.2,148.5L143.3,152.7L136.3,157.0L129.2,161.3L121.8,165.8Z" fill="url(#ga70)"/>
<path d="M121.4,166.4L128.7,162.0L135.9,157.6L142.9,153.4L149.8,149.2L156.5,145.1L163.1,141.1L169.6,137.2L175.9,133.4L182.1,129.6L188.2,125.9L194.2,122.3L200.1,118.8L201.2,116.8L195.4,120.3L189.4,124.0L183.3,127.7L177.1,131.5L170.7,135.3L164.3,139.3L157.7,143.3L150.9,147.4L144.1,151.6L137.0,155.9L129.9,160.2L122.6,164.7Z" fill="url(#ga71)"/>
<path d="M122.1,165.3L129.4,160.9L136.6,156.5L143.6,152.3L150.5,148.1L157.2,144.0L163.8,140.0L170.3,136.1L176.6,132.2L182.8,128.4L188.9,124.7L194.9,121.1L200.8,117.5L202.0,115.5L196.1,119.0L190.1,122.7L184.0,126.4L177.8,130.2L171.5,134.1L165.0,138.1L158.4,142.1L151.7,146.2L144.8,150.4L137.8,154.7L130.6,159.1L123.3,163.6Z" fill="url(#ga72)"/>
<path d="M122.8,164.2L130.2,159.8L137.3,155.4L144.3,151.1L151.2,146.9L158.0,142.8L164.5,138.8L171.0,134.8L177.4,131.0L183.6,127.2L189.7,123.5L195.6,119.8L201.5,116.2L202.7,114.1L196.8,117.7L190.8,121.4L184.7,125.1L178.5,128.9L172.2,132.8L165.7,136.8L159.1,140.9L152.4,145.0L145.5,149.2L138.5,153.5L131.3,157.9L124.0,162.4Z" fill="url(#ga73)"/>
<path d="M123.6,163.1L130.9,158.6L138.0,154.2L145.1,149.9L151.9,145.7L158.7,141.6L165.3,137.6L171.7,133.6L178.1,129.7L184.3,125.9L190.4,122.2L196.4,118.5L202.2,114.9L203.4,112.8L197.6,116.4L191.6,120.1L185.5,123.8L179.3,127.6L172.9,131.5L166.4,135.5L159.8,139.6L153.1,143.7L146.2,148.0L139.2,152.3L132.0,156.7L124.7,161.2Z" fill="url(#ga74)"/>
<path d="M124.3,161.9L131.6,157.4L138.8,153.0L145.8,148.7L152.7,144.5L159.4,140.3L166.0,136.3L172.5,132.3L178.8,128.4L185.0,124.6L191.1,120.9L197.1,117.2L203.0,113.6L204.2,111.4L198.3,115.0L192.3,118.7L186.2,122.4L180.0,126.3L173.6,130.2L167.2,134.2L160.6,138.3L153.8,142.4L147.0,146.7L139.9,151.0L132.8,155.4L125.4,159.9Z" fill="url(#ga75)"/>
<path d="M125.0,160.7L132.3,156.2L139.5,151.8L146.5,147.4L153.4,143.2L160.1,139.1L166.7,135.0L173.2,131.0L179.5,127.1L185.8,123.3L191.9,119.5L197.9,115.8L203.7,112.2L204.9,109.9L199.0,113.6L193.1,117.3L187.0,121.1L180.7,124.9L174.4,128.8L167.9,132.8L161.3,136.9L154.6,141.1L147.7,145.4L140.7,149.7L133.5,154.1L126.2,158.7Z" fill="url(#ga76)"/>
<path d="M125.7,159.4L133.0,154.9L140.2,150.5L147.2,146.1L154.1,141.9L160.9,137.7L167.5,133.7L173.9,129.7L180.3,125.7L186.5,121.9L192.6,118.1L198.6,114.4L204.5,110.8L205.7,108.5L199.8,112.1L193.8,115.8L187.7,119.6L181.5,123.5L175.1,127.4L168.6,131.4L162.0,135.5L155.3,139.7L148.4,144.0L141.4,148.4L134.2,152.8L126.9,157.4Z" fill="url(#ga77)"/>
<path d="M126.4,158.1L133.8,153.6L140.9,149.2L148.0,144.8L154.9,140.5L161.6,136.4L168.2,132.3L174.7,128.3L181.0,124.3L187.2,120.5L193.3,116.7L199.3,113.0L205.2,109.4L206.4,107.0L200.5,110.6L194.5,114.4L188.4,118.2L182.2,122.0L175.9,126.0L169.4,130.0L162.8,134.1L156.0,138.3L149.1,142.6L142.1,147.0L134.9,151.4L127.6,156.0Z" fill="url(#ga78)"/>
<path d="M127.2,156.8L134.5,152.3L141.7,147.8L148.7,143.4L155.6,139.2L162.3,135.0L168.9,130.9L175.4,126.8L181.8,122.9L188.0,119.0L194.1,115.2L200.1,111.5L206.0,107.9L207.2,105.4L201.3,109.1L195.3,112.8L189.2,116.7L183.0,120.5L176.6,124.5L170.1,128.5L163.5,132.7L156.8,136.9L149.9,141.2L142.9,145.6L135.7,150.0L128.3,154.6Z" fill="url(#ga79)"/>
<path d="M127.9,155.5L135.2,150.9L142.4,146.4L149.4,142.0L156.3,137.7L163.1,133.5L169.7,129.4L176.2,125.4L182.5,121.4L188.7,117.6L194.8,113.8L200.8,110.0L206.7,106.4L207.9,103.9L202.0,107.5L196.0,111.3L189.9,115.1L183.7,119.0L177.4,123.0L170.9,127.0L164.3,131.2L157.5,135.4L150.6,139.7L143.6,144.1L136.4,148.6L129.1,153.2Z" fill="url(#ga80)"/>
<path d="M128.6,154.0L136.0,149.5L143.1,145.0L150.2,140.6L157.1,136.3L163.8,132.1L170.4,127.9L176.9,123.9L183.3,119.9L189.5,116.0L195.6,112.2L201.6,108.5L207.5,104.8L208.7,102.3L202.8,106.0L196.8,109.7L190.7,113.5L184.5,117.4L178.1,121.4L171.6,125.5L165.0,129.6L158.3,133.9L151.4,138.2L144.3,142.6L137.1,147.1L129.8,151.7Z" fill="url(#ga81)"/>
<path d="M129.4,152.6L136.7,148.0L143.9,143.5L150.9,139.1L157.8,134.8L164.6,130.6L171.2,126.4L177.7,122.4L184.0,118.4L190.2,114.5L196.3,110.7L202.3,106.9L208.2,103.2L209.4,100.6L203.5,104.3L197.5,108.1L191.4,111.9L185.2,115.8L178.9,119.8L172.4,123.9L165.7,128.1L159.0,132.3L152.1,136.6L145.1,141.1L137.9,145.6L130.5,150.2Z" fill="url(#ga82)"/>
<path d="M130.1,151.1L137.4,146.5L144.6,142.0L151.7,137.6L158.5,133.3L165.3,129.0L171.9,124.9L178.4,120.8L184.8,116.8L191.0,112.9L197.1,109.1L203.1,105.3L209.0,101.6L210.2,98.9L204.3,102.7L198.3,106.4L192.2,110.3L186.0,114.2L179.6,118.2L173.1,122.3L166.5,126.5L159.7,130.7L152.8,135.1L145.8,139.5L138.6,144.0L131.3,148.7Z" fill="url(#ga83)"/>
<path d="M130.8,149.6L138.2,145.0L145.4,140.5L152.4,136.0L159.3,131.7L166.0,127.4L172.7,123.3L179.2,119.2L185.5,115.2L191.7,111.3L197.9,107.4L203.8,103.7L209.7,100.0L210.9,97.2L205.1,100.9L199.1,104.7L193.0,108.6L186.7,112.5L180.4,116.5L173.9,120.6L167.2,124.8L160.5,129.1L153.6,133.4L146.5,137.9L139.4,142.4L132.0,147.1Z" fill="url(#ga84)"/>
<path d="M131.6,148.0L138.9,143.4L146.1,138.9L153.1,134.4L160.0,130.1L166.8,125.8L173.4,121.6L179.9,117.5L186.3,113.5L192.5,109.6L198.6,105.8L204.6,102.0L210.5,98.3L211.7,95.5L205.8,99.2L199.8,103.0L193.7,106.9L187.5,110.8L181.1,114.8L174.6,118.9L168.0,123.1L161.2,127.4L154.3,131.8L147.3,136.2L140.1,140.8L132.7,145.5Z" fill="url(#ga85)"/>
<path d="M132.3,146.4L139.7,141.8L146.8,137.2L153.9,132.8L160.8,128.4L167.6,124.2L174.2,120.0L180.7,115.9L187.0,111.8L193.3,107.9L199.4,104.0L205.4,100.3L211.3,96.5L212.5,93.7L206.6,97.4L200.6,101.2L194.5,105.1L188.2,109.1L181.9,113.1L175.4,117.2L168.8,121.4L162.0,125.7L155.1,130.1L148.0,134.6L140.8,139.1L133.5,143.8Z" fill="url(#ga86)"/>
<path d="M133.0,144.8L140.4,140.1L147.6,135.6L154.6,131.1L161.5,126.7L168.3,122.5L174.9,118.3L181.4,114.2L187.8,110.1L194.0,106.2L200.1,102.3L206.1,98.5L212.0,94.8L213.3,91.9L207.4,95.6L201.4,99.4L195.2,103.3L189.0,107.3L182.6,111.3L176.1,115.4L169.5,119.7L162.8,124.0L155.8,128.3L148.8,132.8L141.6,137.4L134.2,142.1Z" fill="url(#ga87)"/>
<path d="M133.8,143.1L141.1,138.4L148.3,133.9L155.4,129.4L162.3,125.0L169.1,120.7L175.7,116.5L182.2,112.4L188.5,108.4L194.8,104.4L200.9,100.5L206.9,96.7L212.8,93.0L214.0,90.0L208.1,93.8L202.1,97.6L196.0,101.5L189.8,105.5L183.4,109.5L176.9,113.6L170.3,117.9L163.5,122.2L156.6,126.6L149.5,131.1L142.3,135.6L135.0,140.3Z" fill="url(#ga88)"/>
<path d="M134.5,141.4L141.9,136.7L149.1,132.1L156.1,127.6L163.1,123.2L169.8,118.9L176.5,114.7L182.9,110.6L189.3,106.6L195.6,102.6L201.7,98.7L207.7,94.9L213.6,91.1L214.8,88.1L208.9,91.9L202.9,95.7L196.8,99.6L190.5,103.6L184.2,107.6L177.7,111.8L171.0,116.0L164.3,120.3L157.4,124.8L150.3,129.3L143.1,133.9L135.7,138.5Z" fill="url(#ga89)"/>
<path d="M135.3,139.6L142.6,134.9L149.8,130.3L156.9,125.8L163.8,121.4L170.6,117.1L177.2,112.9L183.7,108.8L190.1,104.7L196.3,100.7L202.5,96.8L208.5,93.0L214.3,89.3L215.6,86.2L209.7,89.9L203.7,93.8L197.6,97.7L191.3,101.7L184.9,105.8L178.4,109.9L171.8,114.1L165.0,118.5L158.1,122.9L151.1,127.4L143.8,132.0L136.5,136.7Z" fill="url(#ga90)"/>
<path d="M136.0,137.8L143.4,133.1L150.6,128.5L157.7,124.0L164.6,119.6L171.4,115.3L178.0,111.0L184.5,106.9L190.9,102.8L197.1,98.8L203.2,94.9L209.2,91.1L215.1,87.3L216.4,84.2L210.5,88.0L204.5,91.8L198.3,95.7L192.1,99.7L185.7,103.8L179.2,108.0L172.6,112.2L165.8,116.6L158.9,121.0L151.8,125.5L144.6,130.1L137.2,134.9Z" fill="url(#ga91)"/>
<path d="M136.8,136.0L144.1,131.3L151.4,126.7L158.4,122.1L165.3,117.7L172.1,113.4L178.8,109.1L185.3,105.0L191.6,100.9L197.9,96.9L204.0,93.0L210.0,89.2L215.9,85.4L217.2,82.2L211.3,86.0L205.3,89.8L199.1,93.8L192.9,97.8L186.5,101.8L180.0,106.0L173.4,110.3L166.6,114.6L159.7,119.1L152.6,123.6L145.4,128.2L138.0,132.9Z" fill="url(#ga92)"/>
<path d="M137.5,134.1L144.9,129.4L152.1,124.8L159.2,120.2L166.1,115.8L172.9,111.5L179.5,107.2L186.0,103.0L192.4,99.0L198.7,95.0L204.8,91.0L210.8,87.2L216.7,83.4L218.0,80.1L212.1,83.9L206.0,87.8L199.9,91.7L193.7,95.7L187.3,99.8L180.8,104.0L174.1,108.3L167.3,112.6L160.4,117.1L153.3,121.6L146.1,126.3L138.7,131.0Z" fill="url(#ga93)"/>
<path d="M138.3,132.2L145.7,127.4L152.9,122.8L160.0,118.3L166.9,113.8L173.7,109.5L180.3,105.2L186.8,101.0L193.2,97.0L199.4,92.9L205.6,89.0L211.6,85.2L217.5,81.4L218.8,78.1L212.9,81.9L206.8,85.7L200.7,89.7L194.4,93.7L188.1,97.8L181.6,102.0L174.9,106.2L168.1,110.6L161.2,115.1L154.1,119.6L146.9,124.3L139.5,129.0Z" fill="url(#ga94)"/>
<path d="M139.0,130.2L146.4,125.5L153.7,120.8L160.7,116.3L167.7,111.8L174.4,107.5L181.1,103.2L187.6,99.0L194.0,94.9L200.2,90.9L206.4,87.0L212.4,83.1L218.3,79.3L219.6,75.9L213.7,79.7L207.6,83.6L201.5,87.6L195.2,91.6L188.9,95.7L182.3,99.9L175.7,104.2L168.9,108.5L162.0,113.0L154.9,117.6L147.7,122.2L140.3,127.0Z" fill="url(#ga95)"/>
<path d="M139.8,128.2L147.2,123.4L154.4,118.8L161.5,114.2L168.4,109.8L175.2,105.4L181.9,101.1L188.4,97.0L194.8,92.8L201.0,88.8L207.2,84.9L213.2,81.0L219.1,77.2L220.4,73.8L214.5,77.6L208.4,81.5L202.3,85.4L196.0,89.4L189.6,93.6L183.1,97.8L176.5,102.0L169.7,106.4L162.7,110.9L155.7,115.5L148.4,120.1L141.0,124.9Z" fill="url(#ga96)"/>
<path d="M140.6,126.1L148.0,121.4L155.2,116.7L162.3,112.2L169.2,107.7L176.0,103.3L182.7,99.0L189.2,94.8L195.6,90.7L201.8,86.7L208.0,82.7L214.0,78.9L219.9,75.1L221.2,71.6L215.3,75.4L209.2,79.3L203.1,83.2L196.8,87.3L190.4,91.4L183.9,95.6L177.3,99.9L170.5,104.3L163.5,108.7L156.4,113.3L149.2,118.0L141.8,122.8Z" fill="url(#ga97)"/>
<path d="M141.3,124.0L148.7,119.3L156.0,114.6L163.1,110.0L170.0,105.6L176.8,101.2L183.4,96.9L190.0,92.7L196.3,88.6L202.6,84.5L208.8,80.6L214.8,76.7L220.7,72.9L222.0,69.3L216.1,73.1L210.0,77.0L203.9,81.0L197.6,85.0L191.2,89.2L184.7,93.4L178.0,97.7L171.2,102.1L164.3,106.6L157.2,111.1L150.0,115.8L142.6,120.6Z" fill="url(#ga98)"/>
<path d="M142.1,121.9L149.5,117.1L156.7,112.5L163.8,107.9L170.8,103.4L177.6,99.0L184.2,94.7L190.8,90.5L197.1,86.4L203.4,82.3L209.6,78.4L215.6,74.5L221.5,70.7L222.8,67.0L216.9,70.9L210.8,74.8L204.7,78.7L198.4,82.8L192.0,86.9L185.5,91.1L178.8,95.4L172.0,99.8L165.1,104.3L158.0,108.9L150.7,113.6L143.3,118.4Z" fill="url(#ga99)"/>
<path d="M142.9,119.7L150.3,114.9L157.5,110.3L164.6,105.7L171.6,101.2L178.4,96.8L185.0,92.5L191.6,88.3L197.9,84.1L204.2,80.1L210.4,76.1L216.4,72.2L222.3,68.4L223.6,64.7L217.7,68.5L211.7,72.4L205.5,76.4L199.2,80.5L192.8,84.6L186.3,88.8L179.6,93.2L172.8,97.6L165.9,102.1L158.8,106.6L151.5,111.3L144.1,116.1Z" fill="url(#ga100)"/>
<path d="M143.6,117.5L151.1,112.7L158.3,108.0L165.4,103.4L172.4,98.9L179.2,94.5L185.8,90.2L192.4,86.0L198.7,81.9L205.0,77.8L211.2,73.8L217.2,69.9L223.1,66.1L224.4,62.4L218.5,66.2L212.5,70.1L206.3,74.1L200.0,78.1L193.6,82.3L187.1,86.5L180.4,90.8L173.6,95.2L166.7,99.7L159.6,104.3L152.3,109.0L144.9,113.8Z" fill="url(#ga101)"/>
<path d="M144.4,115.2L151.8,110.4L159.1,105.7L166.2,101.1L173.1,96.6L180.0,92.2L186.6,87.9L193.2,83.7L199.6,79.5L205.8,75.5L212.0,71.5L218.0,67.6L223.9,63.8L225.2,59.9L219.3,63.8L213.3,67.7L207.1,71.7L200.9,75.7L194.4,79.9L187.9,84.1L181.2,88.5L174.4,92.9L167.5,97.4L160.4,102.0L153.1,106.7L145.7,111.5Z" fill="url(#ga102)"/>
<path d="M145.2,112.9L152.6,108.1L159.9,103.4L167.0,98.8L173.9,94.3L180.8,89.9L187.4,85.6L194.0,81.3L200.4,77.2L206.6,73.1L212.8,69.1L218.8,65.2L224.7,61.4L226.1,57.5L220.1,61.3L214.1,65.3L208.0,69.2L201.7,73.3L195.3,77.5L188.7,81.7L182.0,86.0L175.2,90.5L168.3,95.0L161.1,99.6L153.9,104.3L146.5,109.1Z" fill="url(#ga103)"/>
<path d="M146.0,110.6L153.4,105.7L160.7,101.0L167.8,96.4L174.7,91.9L181.6,87.5L188.2,83.2L194.8,78.9L201.2,74.8L207.5,70.7L213.6,66.7L219.7,62.8L225.6,59.0L226.9,55.0L221.0,58.9L214.9,62.8L208.8,66.8L202.5,70.8L196.1,75.0L189.5,79.3L182.8,83.6L176.0,88.0L169.1,92.5L161.9,97.1L154.7,101.9L147.2,106.7Z" fill="url(#ga104)"/>
<path d="M146.8,108.1L154.2,103.3L161.5,98.6L168.6,94.0L175.5,89.5L182.4,85.1L189.0,80.7L195.6,76.5L202.0,72.3L208.3,68.3L214.4,64.3L220.5,60.4L226.4,56.5L227.7,52.5L221.8,56.3L215.8,60.3L209.6,64.3L203.3,68.3L196.9,72.5L190.3,76.7L183.7,81.1L176.8,85.5L169.9,90.0L162.7,94.7L155.5,99.4L148.0,104.2Z" fill="url(#ga105)"/>
<path d="M147.6,105.7L155.0,100.9L162.3,96.2L169.4,91.5L176.3,87.0L183.2,82.6L189.9,78.3L196.4,74.0L202.8,69.8L209.1,65.8L215.3,61.8L221.3,57.9L227.2,54.0L228.6,49.9L222.6,53.8L216.6,57.7L210.4,61.7L204.1,65.8L197.7,69.9L191.2,74.2L184.5,78.5L177.6,83.0L170.7,87.5L163.5,92.1L156.3,96.9L148.8,101.7Z" fill="url(#ga106)"/>
<path d="M148.3,103.2L155.8,98.4L163.1,93.7L170.2,89.0L177.2,84.5L184.0,80.1L190.7,75.7L197.2,71.5L203.6,67.3L209.9,63.2L216.1,59.2L222.1,55.3L228.1,51.5L229.4,47.3L223.5,51.2L217.4,55.1L211.3,59.1L205.0,63.2L198.5,67.4L192.0,71.6L185.3,76.0L178.5,80.4L171.5,84.9L164.4,89.6L157.1,94.3L149.6,99.1Z" fill="url(#ga107)"/>
<path d="M149.1,100.7L156.6,95.8L163.9,91.1L171.0,86.5L178.0,81.9L184.8,77.5L191.5,73.2L198.0,68.9L204.5,64.7L210.8,60.7L216.9,56.7L223.0,52.7L228.9,48.9L230.3,44.7L224.3,48.5L218.3,52.4L212.1,56.4L205.8,60.5L199.4,64.7L192.8,69.0L186.1,73.3L179.3,77.8L172.3,82.3L165.2,86.9L157.9,91.7L150.4,96.5Z" fill="url(#ga108)"/>
<path d="M149.9,98.1L157.4,93.2L164.7,88.5L171.8,83.9L178.8,79.3L185.6,74.9L192.3,70.6L198.9,66.3L205.3,62.1L211.6,58.0L217.8,54.0L223.8,50.1L229.8,46.3L231.1,42.0L225.2,45.8L219.1,49.7L212.9,53.8L206.6,57.9L200.2,62.0L193.6,66.3L186.9,70.6L180.1,75.1L173.1,79.6L166.0,84.3L158.7,89.0L151.2,93.8Z" fill="url(#ga109)"/>
<path d="M150.7,95.4L158.2,90.6L165.5,85.9L172.6,81.2L179.6,76.7L186.4,72.3L193.1,67.9L199.7,63.6L206.1,59.5L212.4,55.4L218.6,51.4L224.7,47.4L230.6,43.6L232.0,39.2L226.0,43.1L220.0,47.0L213.8,51.0L207.5,55.1L201.0,59.3L194.5,63.6L187.8,67.9L180.9,72.4L173.9,76.9L166.8,81.5L159.5,86.3L152.0,91.1Z" fill="url(#ga110)"/>
<path d="M151.5,92.8L159.0,87.9L166.3,83.2L173.4,78.5L180.4,74.0L187.3,69.6L194.0,65.2L200.5,60.9L207.0,56.8L213.3,52.7L219.5,48.7L225.5,44.7L231.4,40.9L232.8,36.4L226.9,40.3L220.8,44.2L214.6,48.2L208.3,52.3L201.9,56.5L195.3,60.8L188.6,65.1L181.8,69.6L174.8,74.1L167.6,78.8L160.3,83.5L152.8,88.4Z" fill="url(#ga111)"/>
<path d="M152.3,90.0L159.8,85.2L167.1,80.4L174.3,75.8L181.3,71.3L188.1,66.8L194.8,62.5L201.4,58.2L207.8,54.0L214.1,49.9L220.3,45.9L226.4,42.0L232.3,38.1L233.7,33.6L227.7,37.5L221.7,41.4L215.5,45.4L209.2,49.5L202.7,53.7L196.2,58.0L189.4,62.3L182.6,66.8L175.6,71.3L168.4,76.0L161.1,80.7L153.6,85.6Z" fill="url(#ga112)"/>
<path d="M153.2,87.3L160.6,82.4L167.9,77.7L175.1,73.0L182.1,68.5L188.9,64.0L195.6,59.7L202.2,55.4L208.7,51.2L215.0,47.1L221.2,43.1L227.2,39.2L233.2,35.3L234.5,30.7L228.6,34.6L222.5,38.5L216.3,42.6L210.0,46.7L203.6,50.8L197.0,55.1L190.3,59.5L183.4,63.9L176.4,68.5L169.3,73.1L161.9,77.9L154.5,82.7Z" fill="url(#ga113)"/>
<path d="M154.0,84.4L161.4,79.6L168.8,74.8L175.9,70.2L182.9,65.6L189.8,61.2L196.5,56.8L203.1,52.6L209.5,48.4L215.8,44.3L222.0,40.3L228.1,36.3L234.0,32.5L235.4,27.8L229.5,31.7L223.4,35.6L217.2,39.6L210.9,43.7L204.4,47.9L197.8,52.2L191.1,56.6L184.3,61.0L177.2,65.6L170.1,70.2L162.8,75.0L155.3,79.8Z" fill="url(#ga114)"/>
<path d="M154.8,81.6L162.3,76.7L169.6,72.0L176.7,67.3L183.8,62.8L190.6,58.3L197.3,53.9L203.9,49.7L210.4,45.5L216.7,41.4L222.9,37.4L228.9,33.4L234.9,29.6L236.3,24.9L230.3,28.7L224.3,32.7L218.1,36.7L211.7,40.8L205.3,45.0L198.7,49.2L192.0,53.6L185.1,58.1L178.1,62.6L170.9,67.3L163.6,72.0L156.1,76.9Z" fill="url(#ga115)"/>
<path d="M155.6,78.6L163.1,73.8L170.4,69.0L177.6,64.4L184.6,59.8L191.5,55.4L198.2,51.0L204.8,46.7L211.2,42.6L217.5,38.5L223.7,34.4L229.8,30.5L235.8,26.6L237.2,21.9L231.2,25.7L225.1,29.7L218.9,33.7L212.6,37.8L206.1,42.0L199.6,46.2L192.8,50.6L185.9,55.1L178.9,59.6L171.7,64.3L164.4,69.0L156.9,73.9Z" fill="url(#ga116)"/>
<path d="M156.4,75.7L163.9,70.8L171.2,66.1L178.4,61.4L185.4,56.9L192.3,52.4L199.0,48.0L205.6,43.8L212.1,39.6L218.4,35.5L224.6,31.5L230.7,27.5L236.6,23.7L238.1,18.8L232.1,22.7L226.0,26.6L219.8,30.6L213.5,34.7L207.0,38.9L200.4,43.2L193.7,47.5L186.8,52.0L179.8,56.5L172.6,61.2L165.2,66.0L157.7,70.8Z" fill="url(#ga117)"/>
<path d="M157.2,72.6L164.7,67.8L172.1,63.0L179.3,58.4L186.3,53.8L193.2,49.4L199.9,45.0L206.5,40.7L213.0,36.6L219.3,32.5L225.5,28.4L231.6,24.5L237.5,20.6L238.9,15.7L233.0,19.6L226.9,23.5L220.7,27.5L214.3,31.6L207.9,35.8L201.3,40.1L194.5,44.4L187.7,48.9L180.6,53.4L173.4,58.1L166.1,62.8L158.6,67.7Z" fill="url(#ga118)"/>
<path d="M158.1,69.6L165.6,64.7L172.9,60.0L180.1,55.3L187.1,50.8L194.0,46.3L200.8,41.9L207.4,37.7L213.8,33.5L220.2,29.4L226.4,25.4L232.4,21.4L238.4,17.6L239.3,14.5L233.3,18.3L227.2,22.3L221.0,26.3L214.7,30.4L208.2,34.6L201.6,38.8L194.9,43.2L188.0,47.6L181.0,52.2L173.8,56.8L166.4,61.6L158.9,66.5Z" fill="url(#ga119)"/>
<path d="M116.6,172.7L121.7,170.2L126.7,167.6L131.5,165.1L136.3,162.7L141.0,160.3L145.7,157.9L150.2,155.6L154.6,153.4L159.0,151.1L163.3,148.9L167.5,146.8L171.6,144.7L175.7,142.6L179.6,140.6" fill="none" stroke="#000" stroke-opacity="0.20" stroke-width="0.6"/>
<path d="M125.6,159.7L130.8,157.2L135.9,154.8L140.9,152.4L145.8,150.1L150.7,147.8L155.4,145.6L160.1,143.4L164.6,141.2L169.1,139.1L173.5,137.1L177.9,135.0L182.1,133.0L186.3,131.0L190.4,129.1L194.5,127.2" fill="none" stroke="#000" stroke-opacity="0.20" stroke-width="0.6"/>
<path d="M132.7,145.6L138.0,143.2L143.1,140.9L148.2,138.7L153.2,136.5L158.0,134.3L162.8,132.2L167.5,130.1L172.2,128.1L176.7,126.0L181.2,124.1L185.6,122.1L189.9,120.2L194.1,118.4L198.3,116.5L202.4,114.7" fill="none" stroke="#000" stroke-opacity="0.20" stroke-width="0.6"/>
<path d="M138.8,130.8L144.1,128.6L149.3,126.4L154.4,124.3L159.4,122.2L164.4,120.1L169.2,118.1L173.9,116.1L178.6,114.2L183.2,112.3L187.6,110.4L192.1,108.6L196.4,106.8L200.7,105.0L204.8,103.3L209.0,101.6" fill="none" stroke="#000" stroke-opacity="0.20" stroke-width="0.6"/>
<path d="M144.4,115.4L149.7,113.3L154.9,111.3L160.1,109.3L165.1,107.3L170.1,105.4L174.9,103.5L179.7,101.6L184.3,99.8L188.9,98.0L193.4,96.3L197.9,94.6L202.2,92.9L206.5,91.2L210.7,89.6L214.9,88.0" fill="none" stroke="#000" stroke-opacity="0.20" stroke-width="0.6"/>
<path d="M149.5,99.5L154.9,97.6L160.1,95.7L165.3,93.8L170.3,92.0L175.3,90.2L180.2,88.4L185.0,86.7L189.7,85.0L194.3,83.3L198.8,81.7L203.2,80.1L207.6,78.5L211.9,77.0L216.1,75.5L220.3,74.0" fill="none" stroke="#000" stroke-opacity="0.20" stroke-width="0.6"/>
<path d="M154.3,83.2L159.7,81.4L165.0,79.6L170.2,77.9L175.3,76.2L180.3,74.6L185.1,72.9L190.0,71.3L194.7,69.8L199.3,68.2L203.8,66.7L208.3,65.3L212.7,63.8L217.0,62.4L221.2,61.0L225.4,59.6" fill="none" stroke="#000" stroke-opacity="0.20" stroke-width="0.6"/>
<path d="M164.3,64.8L169.6,63.2L174.9,61.6L180.0,60.0L185.0,58.5L189.9,57.0L194.7,55.6L199.4,54.2L204.1,52.8L208.6,51.4L213.1,50.0L217.5,48.7L221.8,47.4L226.0,46.1L230.2,44.9" fill="none" stroke="#000" stroke-opacity="0.20" stroke-width="0.6"/>
<path d="M204.0,38.2L208.6,36.9L213.2,35.7L217.7,34.5L222.1,33.3L226.4,32.1L230.7,31.0L234.8,29.8" fill="none" stroke="#000" stroke-opacity="0.20" stroke-width="0.6"/>
<line x1="36.55" y1="181.45" x2="29.81" y2="18.03" stroke="#111" stroke-width="1.1"/>
<line x1="36.55" y1="181.45" x2="164.76" y2="226.14" stroke="#111" stroke-width="1.1"/>
<line x1="164.76" y1="226.14" x2="265.57" y2="173.81" stroke="#111" stroke-width="1.1"/>
<line x1="32.55" y1="181.45" x2="36.55" y2="181.45" stroke="#111" stroke-width="1"/>
<line x1="31.70" y1="160.75" x2="35.70" y2="160.75" stroke="#111" stroke-width="1"/>
<line x1="30.83" y1="139.73" x2="34.83" y2="139.73" stroke="#111" stroke-width="1"/>
<line x1="29.95" y1="118.38" x2="33.95" y2="118.38" stroke="#111" stroke-width="1"/>
<line x1="29.06" y1="96.69" x2="33.06" y2="96.69" stroke="#111" stroke-width="1"/>
<line x1="28.15" y1="74.66" x2="32.15" y2="74.66" stroke="#111" stroke-width="1"/>
<line x1="27.23" y1="52.28" x2="31.23" y2="52.28" stroke="#111" stroke-width="1"/>
<line x1="26.29" y1="29.53" x2="30.29" y2="29.53" stroke="#111" stroke-width="1"/>
<line x1="55.35" y1="188.00" x2="55.35" y2="192.00" stroke="#111" stroke-width="1"/>
<line x1="95.80" y1="202.10" x2="95.80" y2="206.10" stroke="#111" stroke-width="1"/>
<line x1="140.55" y1="217.70" x2="140.55" y2="221.70" stroke="#111" stroke-width="1"/>
<line x1="176.58" y1="220.00" x2="176.58" y2="224.00" stroke="#111" stroke-width="1"/>
<line x1="198.92" y1="208.41" x2="198.92" y2="212.41" stroke="#111" stroke-width="1"/>
<line x1="219.66" y1="197.64" x2="219.66" y2="201.64" stroke="#111" stroke-width="1"/>
<line x1="238.97" y1="187.62" x2="238.97" y2="191.62" stroke="#111" stroke-width="1"/>
<line x1="257.00" y1="178.26" x2="257.00" y2="182.26" stroke="#111" stroke-width="1"/>
<circle cx="73.0" cy="156.0" r="2.5" fill="url(#ball)"/>
<circle cx="101.9" cy="149.3" r="2.1" fill="url(#ball)"/>
<circle cx="113.4" cy="179.2" r="2.5" fill="url(#ball)"/>
<circle cx="142.4" cy="159.1" r="1.4" fill="url(#ball)"/>
<circle cx="158.4" cy="66.8" r="2.4" fill="url(#ball)"/>
<circle cx="187.4" cy="48.6" r="2.3" fill="url(#ball)"/>
<circle cx="239.0" cy="16.4" r="2.4" fill="url(#ball)"/>
<circle cx="193.6" cy="129.5" r="1.1" fill="url(#ball)"/>
<defs><linearGradient id="gb17" gradientUnits="userSpaceOnUse" x1="440.6" y1="25.8" x2="523.8" y2="11.4"><stop offset="0" stop-color="#a52c2c"/><stop offset="0.25" stop-color="#643237"/><stop offset="0.5" stop-color="#643237"/><stop offset="0.75" stop-color="#643237"/><stop offset="1" stop-color="#643237"/></linearGradient><linearGradient id="gb18" gradientUnits="userSpaceOnUse" x1="441.3" y1="25.6" x2="524.5" y2="11.2"><stop offset="0" stop-color="#a52c2c"/><stop offset="0.25" stop-color="#9e2c2c"/><stop offset="0.5" stop-color="#643237"/><stop offset="0.75" stop-color="#643237"/><stop offset="1" stop-color="#643237"/></linearGradient><linearGradient id="gb19" gradientUnits="userSpaceOnUse" x1="442.0" y1="25.5" x2="525.2" y2="11.1"><stop offset="0" stop-color="#a42c2c"/><stop offset="0.25" stop-color="#9e2c2c"/><stop offset="0.5" stop-color="#643237"/><stop offset="0.75" stop-color="#643237"/><stop offset="1" stop-color="#643237"/></linearGradient><linearGradient id="gb20" gradientUnits="userSpaceOnUse" x1="442.7" y1="25.4" x2="525.8" y2="11.0"><stop offset="0" stop-color="#a42c2c"/><stop offset="0.25" stop-color="#9e2c2c"/><stop offset="0.5" stop-color="#9c2c2c"/><stop offset="0.75" stop-color="#643237"/><stop offset="1" stop-color="#643237"/></linearGradient><linearGradient id="gb21" gradientUnits="userSpaceOnUse" x1="443.4" y1="25.4" x2="526.5" y2="10.9"><stop offset="0" stop-color="#a42c2c"/><stop offset="0.25" stop-color="#9e2c2c"/><stop offset="0.5" stop-color="#9b2c2c"/><stop offset="0.75" stop-color="#9e2c2c"/><stop offset="1" stop-color="#643237"/></linearGradient><linearGradient id="gb22" gradientUnits="userSpaceOnUse" x1="444.1" y1="25.3" x2="527.2" y2="10.9"><stop offset="0" stop-color="#a42c2c"/><stop offset="0.25" stop-color="#9d2c2c"/><stop offset="0.5" stop-color="#9b2c2c"/><stop offset="0.75" stop-color="#9e2c2c"/><stop offset="1" stop-color="#643237"/></linearGradient><linearGradient id="gb23" gradientUnits="userSpaceOnUse" x1="444.7" y1="25.3" x2="527.9" y2="10.9"><stop offset="0" stop-color="#a42c2c"/><stop offset="0.25" stop-color="#9d2c2c"/><stop offset="0.5" stop-color="#9b2c2c"/><stop offset="0.75" stop-color="#9e2c2c"/><stop offset="1" stop-color="#a42c2c"/></linearGradient><linearGradient id="gb24" gradientUnits="userSpaceOnUse" x1="445.4" y1="25.4" x2="528.5" y2="10.9"><stop offset="0" stop-color="#a42c2c"/><stop offset="0.25" stop-color="#9d2c2c"/><stop offset="0.5" stop-color="#9b2c2c"/><stop offset="0.75" stop-color="#9e2c2c"/><stop offset="1" stop-color="#a42c2c"/></linearGradient><linearGradient id="gb25" gradientUnits="userSpaceOnUse" x1="446.1" y1="25.5" x2="529.2" y2="11.0"><stop offset="0" stop-color="#a42c2c"/><stop offset="0.25" stop-color="#9d2c2c"/><stop offset="0.5" stop-color="#9b2c2c"/><stop offset="0.75" stop-color="#9e2c2c"/><stop offset="1" stop-color="#a42c2c"/></linearGradient><linearGradient id="gb26" gradientUnits="userSpaceOnUse" x1="446.8" y1="25.6" x2="529.9" y2="11.1"><stop offset="0" stop-color="#a42c2c"/><stop offset="0.25" stop-color="#9d2c2c"/><stop offset="0.5" stop-color="#9b2c2c"/><stop offset="0.75" stop-color="#9e2c2c"/><stop offset="1" stop-color="#a42c2c"/></linearGradient><linearGradient id="gb27" gradientUnits="userSpaceOnUse" x1="447.5" y1="25.7" x2="530.6" y2="11.2"><stop offset="0" stop-color="#a42c2c"/><stop offset="0.25" stop-color="#9d2c2c"/><stop offset="0.5" stop-color="#9b2c2c"/><stop offset="0.75" stop-color="#9e2c2c"/><stop offset="1" stop-color="#a42c2c"/></linearGradient><linearGradient id="gb28" gradientUnits="userSpaceOnUse" x1="448.3" y1="25.9" x2="531.3" y2="11.4"><stop offset="0" stop-color="#a42c2c"/><stop offset="0.25" stop-color="#9d2c2c"/><stop offset="0.5" stop-color="#9b2c2c"/><stop offset="0.75" stop-color="#9e2c2c"/><stop offset="1" stop-color="#a52c2c"/></linearGradient><linearGradient id="gb29" gradientUnits="userSpaceOnUse" x1="449.0" y1="26.2" x2="531.9" y2="11.6"><stop offset="0" stop-color="#a42c2c"/><stop offset="0.25" stop-color="#9e2c2c"/><stop offset="0.5" stop-color="#9b2c2c"/><stop offset="0.75" stop-color="#9e2c2c"/><stop offset="1" stop-color="#a52c2c"/></linearGradient><linearGradient id="gb30" gradientUnits="userSpaceOnUse" x1="449.7" y1="26.4" x2="532.6" y2="11.8"><stop offset="0" stop-color="#a42c2c"/><stop offset="0.25" stop-color="#9e2c2c"/><stop offset="0.5" stop-color="#9c2c2c"/><stop offset="0.75" stop-color="#9e2c2c"/><stop offset="1" stop-color="#a52c2c"/></linearGradient><linearGradient id="gb31" gradientUnits="userSpaceOnUse" x1="450.4" y1="26.7" x2="533.3" y2="12.1"><stop offset="0" stop-color="#a42c2c"/><stop offset="0.25" stop-color="#9e2c2c"/><stop offset="0.5" stop-color="#9c2c2c"/><stop offset="0.75" stop-color="#9e2c2c"/><stop offset="1" stop-color="#a52c2c"/></linearGradient><linearGradient id="gb32" gradientUnits="userSpaceOnUse" x1="451.1" y1="27.1" x2="534.0" y2="12.3"><stop offset="0" stop-color="#a52c2c"/><stop offset="0.25" stop-color="#9e2c2c"/><stop offset="0.5" stop-color="#9c2c2c"/><stop offset="0.75" stop-color="#9e2c2c"/><stop offset="1" stop-color="#a52c2c"/></linearGradient><linearGradient id="gb33" gradientUnits="userSpaceOnUse" x1="451.8" y1="27.5" x2="534.7" y2="12.7"><stop offset="0" stop-color="#a52c2c"/><stop offset="0.25" stop-color="#9e2c2c"/><stop offset="0.5" stop-color="#9c2c2c"/><stop offset="0.75" stop-color="#9f2c2c"/><stop offset="1" stop-color="#a52c2c"/></linearGradient><linearGradient id="gb34" gradientUnits="userSpaceOnUse" x1="452.5" y1="27.9" x2="535.4" y2="13.0"><stop offset="0" stop-color="#a52c2c"/><stop offset="0.25" stop-color="#9f2c2c"/><stop offset="0.5" stop-color="#9d2c2c"/><stop offset="0.75" stop-color="#9f2c2c"/><stop offset="1" stop-color="#a62c2c"/></linearGradient><linearGradient id="gb35" gradientUnits="userSpaceOnUse" x1="453.2" y1="28.3" x2="536.0" y2="13.4"><stop offset="0" stop-color="#a62c2c"/><stop offset="0.25" stop-color="#9f2c2c"/><stop offset="0.5" stop-color="#9d2c2c"/><stop offset="0.75" stop-color="#9f2c2c"/><stop offset="1" stop-color="#a62c2c"/></linearGradient><linearGradient id="gb36" gradientUnits="userSpaceOnUse" x1="454.0" y1="28.8" x2="536.7" y2="13.8"><stop offset="0" stop-color="#a62c2c"/><stop offset="0.25" stop-color="#9f2c2c"/><stop offset="0.5" stop-color="#9d2c2c"/><stop offset="0.75" stop-color="#a02c2c"/><stop offset="1" stop-color="#a62c2c"/></linearGradient><linearGradient id="gb37" gradientUnits="userSpaceOnUse" x1="454.7" y1="29.4" x2="537.4" y2="14.3"><stop offset="0" stop-color="#a62c2c"/><stop offset="0.25" stop-color="#a02c2c"/><stop offset="0.5" stop-color="#9e2c2c"/><stop offset="0.75" stop-color="#a02c2c"/><stop offset="1" stop-color="#a72c2c"/></linearGradient><linearGradient id="gb38" gradientUnits="userSpaceOnUse" x1="455.4" y1="29.9" x2="538.1" y2="14.8"><stop offset="0" stop-color="#a72c2c"/><stop offset="0.25" stop-color="#a02c2c"/><stop offset="0.5" stop-color="#9e2c2c"/><stop offset="0.75" stop-color="#a12c2c"/><stop offset="1" stop-color="#a72c2c"/></linearGradient><linearGradient id="gb39" gradientUnits="userSpaceOnUse" x1="456.1" y1="30.5" x2="538.8" y2="15.3"><stop offset="0" stop-color="#a82c2c"/><stop offset="0.25" stop-color="#a12c2c"/><stop offset="0.5" stop-color="#9f2c2c"/><stop offset="0.75" stop-color="#a12c2c"/><stop offset="1" stop-color="#a82c2c"/></linearGradient><linearGradient id="gb40" gradientUnits="userSpaceOnUse" x1="456.9" y1="31.2" x2="539.5" y2="15.9"><stop offset="0" stop-color="#a92c2c"/><stop offset="0.25" stop-color="#a22c2c"/><stop offset="0.5" stop-color="#a02c2c"/><stop offset="0.75" stop-color="#a22c2c"/><stop offset="1" stop-color="#aa2c2c"/></linearGradient><linearGradient id="gb41" gradientUnits="userSpaceOnUse" x1="457.6" y1="31.9" x2="540.2" y2="16.5"><stop offset="0" stop-color="#aa2c2c"/><stop offset="0.25" stop-color="#a22c2c"/><stop offset="0.5" stop-color="#a02c2c"/><stop offset="0.75" stop-color="#a22c2c"/><stop offset="1" stop-color="#ab2c2c"/></linearGradient><linearGradient id="gb42" gradientUnits="userSpaceOnUse" x1="458.3" y1="32.6" x2="540.9" y2="17.1"><stop offset="0" stop-color="#ac2c2c"/><stop offset="0.25" stop-color="#a32c2c"/><stop offset="0.5" stop-color="#a12c2c"/><stop offset="0.75" stop-color="#a32c2c"/><stop offset="1" stop-color="#ad2c2c"/></linearGradient><linearGradient id="gb43" gradientUnits="userSpaceOnUse" x1="459.0" y1="33.3" x2="541.5" y2="17.8"><stop offset="0" stop-color="#ad2c2c"/><stop offset="0.25" stop-color="#a42c2c"/><stop offset="0.5" stop-color="#a22c2c"/><stop offset="0.75" stop-color="#a42c2c"/><stop offset="1" stop-color="#ae2c2c"/></linearGradient><linearGradient id="gb44" gradientUnits="userSpaceOnUse" x1="459.8" y1="34.1" x2="542.2" y2="18.4"><stop offset="0" stop-color="#af2c2c"/><stop offset="0.25" stop-color="#a62c2c"/><stop offset="0.5" stop-color="#a32c2c"/><stop offset="0.75" stop-color="#a62c2c"/><stop offset="1" stop-color="#b02c2c"/></linearGradient><linearGradient id="gb45" gradientUnits="userSpaceOnUse" x1="460.5" y1="35.0" x2="542.9" y2="19.2"><stop offset="0" stop-color="#b12c2c"/><stop offset="0.25" stop-color="#a72c2c"/><stop offset="0.5" stop-color="#a42c2c"/><stop offset="0.75" stop-color="#a82c2c"/><stop offset="1" stop-color="#b22c2c"/></linearGradient><linearGradient id="gb46" gradientUnits="userSpaceOnUse" x1="461.3" y1="35.8" x2="543.6" y2="19.9"><stop offset="0" stop-color="#b32c2c"/><stop offset="0.25" stop-color="#a92c2c"/><stop offset="0.5" stop-color="#a62c2c"/><stop offset="0.75" stop-color="#aa2c2c"/><stop offset="1" stop-color="#b32c2c"/></linearGradient><linearGradient id="gb47" gradientUnits="userSpaceOnUse" x1="462.0" y1="36.7" x2="544.3" y2="20.7"><stop offset="0" stop-color="#b52c2c"/><stop offset="0.25" stop-color="#ab2c2c"/><stop offset="0.5" stop-color="#a82c2c"/><stop offset="0.75" stop-color="#ac2c2c"/><stop offset="1" stop-color="#b52c2c"/></linearGradient><linearGradient id="gb48" gradientUnits="userSpaceOnUse" x1="462.7" y1="37.7" x2="545.0" y2="21.6"><stop offset="0" stop-color="#b72c2c"/><stop offset="0.25" stop-color="#ae2c2c"/><stop offset="0.5" stop-color="#ab2c2c"/><stop offset="0.75" stop-color="#ae2c2c"/><stop offset="1" stop-color="#b72c2c"/></linearGradient><linearGradient id="gb49" gradientUnits="userSpaceOnUse" x1="463.5" y1="38.7" x2="545.7" y2="22.4"><stop offset="0" stop-color="#ba2c2c"/><stop offset="0.25" stop-color="#b02c2c"/><stop offset="0.5" stop-color="#ad2c2c"/><stop offset="0.75" stop-color="#b02c2c"/><stop offset="1" stop-color="#bb2c2c"/></linearGradient><linearGradient id="gb50" gradientUnits="userSpaceOnUse" x1="464.2" y1="39.7" x2="546.4" y2="23.3"><stop offset="0" stop-color="#bd2c2c"/><stop offset="0.25" stop-color="#b22c2c"/><stop offset="0.5" stop-color="#af2c2c"/><stop offset="0.75" stop-color="#b22c2c"/><stop offset="1" stop-color="#be2c2c"/></linearGradient><linearGradient id="gb51" gradientUnits="userSpaceOnUse" x1="465.0" y1="40.8" x2="547.1" y2="24.2"><stop offset="0" stop-color="#c02c2c"/><stop offset="0.25" stop-color="#b52c2c"/><stop offset="0.5" stop-color="#b22c2c"/><stop offset="0.75" stop-color="#b52c2c"/><stop offset="1" stop-color="#c12c2c"/></linearGradient><linearGradient id="gb52" gradientUnits="userSpaceOnUse" x1="465.7" y1="41.9" x2="547.7" y2="25.2"><stop offset="0" stop-color="#c42c2c"/><stop offset="0.25" stop-color="#b82c2c"/><stop offset="0.5" stop-color="#b42c2c"/><stop offset="0.75" stop-color="#b82c2c"/><stop offset="1" stop-color="#c52c2c"/></linearGradient><linearGradient id="gb53" gradientUnits="userSpaceOnUse" x1="466.4" y1="43.0" x2="548.4" y2="26.2"><stop offset="0" stop-color="#c82c2c"/><stop offset="0.25" stop-color="#bc2c2c"/><stop offset="0.5" stop-color="#b82c2c"/><stop offset="0.75" stop-color="#bc2c2c"/><stop offset="1" stop-color="#c92c2c"/></linearGradient><linearGradient id="gb54" gradientUnits="userSpaceOnUse" x1="467.2" y1="44.2" x2="549.1" y2="27.2"><stop offset="0" stop-color="#cc2c2c"/><stop offset="0.25" stop-color="#c02c2c"/><stop offset="0.5" stop-color="#bc2c2c"/><stop offset="0.75" stop-color="#c02c2c"/><stop offset="1" stop-color="#cc2c2c"/></linearGradient><linearGradient id="gb55" gradientUnits="userSpaceOnUse" x1="467.9" y1="45.4" x2="549.8" y2="28.3"><stop offset="0" stop-color="#d02c2c"/><stop offset="0.25" stop-color="#c42c2c"/><stop offset="0.5" stop-color="#c02c2c"/><stop offset="0.75" stop-color="#c42c2c"/><stop offset="1" stop-color="#d02c2c"/></linearGradient><linearGradient id="gb56" gradientUnits="userSpaceOnUse" x1="468.7" y1="46.6" x2="550.5" y2="29.4"><stop offset="0" stop-color="#d42c2c"/><stop offset="0.25" stop-color="#c82c2c"/><stop offset="0.5" stop-color="#c42c2c"/><stop offset="0.75" stop-color="#c82c2c"/><stop offset="1" stop-color="#d52c2c"/></linearGradient><linearGradient id="gb57" gradientUnits="userSpaceOnUse" x1="469.4" y1="47.9" x2="551.2" y2="30.5"><stop offset="0" stop-color="#d82c2c"/><stop offset="0.25" stop-color="#cc2c2c"/><stop offset="0.5" stop-color="#c92c2c"/><stop offset="0.75" stop-color="#cd2c2c"/><stop offset="1" stop-color="#d92c2c"/></linearGradient><linearGradient id="gb58" gradientUnits="userSpaceOnUse" x1="470.2" y1="49.3" x2="551.9" y2="31.7"><stop offset="0" stop-color="#dc2c2c"/><stop offset="0.25" stop-color="#d12c2c"/><stop offset="0.5" stop-color="#cd2c2c"/><stop offset="0.75" stop-color="#d12c2c"/><stop offset="1" stop-color="#dd2c2c"/></linearGradient><linearGradient id="gb59" gradientUnits="userSpaceOnUse" x1="470.9" y1="50.6" x2="552.6" y2="32.9"><stop offset="0" stop-color="#e12c2c"/><stop offset="0.25" stop-color="#d52c2c"/><stop offset="0.5" stop-color="#d22c2c"/><stop offset="0.75" stop-color="#d62c2c"/><stop offset="1" stop-color="#e22c2c"/></linearGradient><linearGradient id="gb60" gradientUnits="userSpaceOnUse" x1="471.7" y1="52.0" x2="553.3" y2="34.1"><stop offset="0" stop-color="#e52c2c"/><stop offset="0.25" stop-color="#da2c2c"/><stop offset="0.5" stop-color="#d62c2c"/><stop offset="0.75" stop-color="#da2c2c"/><stop offset="1" stop-color="#e62c2c"/></linearGradient><linearGradient id="gb61" gradientUnits="userSpaceOnUse" x1="472.5" y1="53.5" x2="554.0" y2="35.4"><stop offset="0" stop-color="#e92c2c"/><stop offset="0.25" stop-color="#df2c2c"/><stop offset="0.5" stop-color="#dc2c2c"/><stop offset="0.75" stop-color="#e02c2c"/><stop offset="1" stop-color="#e92c2c"/></linearGradient><linearGradient id="gb62" gradientUnits="userSpaceOnUse" x1="473.2" y1="55.0" x2="554.7" y2="36.6"><stop offset="0" stop-color="#e92c2c"/><stop offset="0.25" stop-color="#e52c2c"/><stop offset="0.5" stop-color="#e22c2c"/><stop offset="0.75" stop-color="#e62c2c"/><stop offset="1" stop-color="#e92c2c"/></linearGradient><linearGradient id="gb84" gradientUnits="userSpaceOnUse" x1="490.0" y1="97.1" x2="569.8" y2="73.6"><stop offset="0" stop-color="#e9342c"/><stop offset="0.25" stop-color="#e92c2c"/><stop offset="0.5" stop-color="#e92c2c"/><stop offset="0.75" stop-color="#e92c2c"/><stop offset="1" stop-color="#e9382c"/></linearGradient><linearGradient id="gb85" gradientUnits="userSpaceOnUse" x1="490.8" y1="99.4" x2="570.4" y2="75.7"><stop offset="0" stop-color="#e9612c"/><stop offset="0.25" stop-color="#e92c2c"/><stop offset="0.5" stop-color="#e92c2c"/><stop offset="0.75" stop-color="#e92d2c"/><stop offset="1" stop-color="#e9642c"/></linearGradient><linearGradient id="gb86" gradientUnits="userSpaceOnUse" x1="491.6" y1="101.8" x2="571.1" y2="77.8"><stop offset="0" stop-color="#e9832c"/><stop offset="0.25" stop-color="#e9592c"/><stop offset="0.5" stop-color="#e9482c"/><stop offset="0.75" stop-color="#e95b2c"/><stop offset="1" stop-color="#e9862c"/></linearGradient><linearGradient id="gb87" gradientUnits="userSpaceOnUse" x1="492.4" y1="104.2" x2="571.8" y2="79.9"><stop offset="0" stop-color="#e9a02c"/><stop offset="0.25" stop-color="#e97e2c"/><stop offset="0.5" stop-color="#e9712c"/><stop offset="0.75" stop-color="#e97f2c"/><stop offset="1" stop-color="#e9a22c"/></linearGradient><linearGradient id="gb88" gradientUnits="userSpaceOnUse" x1="493.1" y1="106.7" x2="572.5" y2="82.1"><stop offset="0" stop-color="#e9b92c"/><stop offset="0.25" stop-color="#e99d2c"/><stop offset="0.5" stop-color="#e9942c"/><stop offset="0.75" stop-color="#e99e2c"/><stop offset="1" stop-color="#e9bb2c"/></linearGradient><linearGradient id="gb89" gradientUnits="userSpaceOnUse" x1="493.9" y1="109.2" x2="573.2" y2="84.3"><stop offset="0" stop-color="#e9cd2c"/><stop offset="0.25" stop-color="#e9b62c"/><stop offset="0.5" stop-color="#e9ad2c"/><stop offset="0.75" stop-color="#e9b72c"/><stop offset="1" stop-color="#e9cf2c"/></linearGradient><linearGradient id="gb90" gradientUnits="userSpaceOnUse" x1="494.7" y1="111.7" x2="573.8" y2="86.5"><stop offset="0" stop-color="#e9e12c"/><stop offset="0.25" stop-color="#e9cc2c"/><stop offset="0.5" stop-color="#e9c52c"/><stop offset="0.75" stop-color="#e9cc2c"/><stop offset="1" stop-color="#e9e22c"/></linearGradient><linearGradient id="gb91" gradientUnits="userSpaceOnUse" x1="495.4" y1="114.3" x2="574.5" y2="88.7"><stop offset="0" stop-color="#e2e92c"/><stop offset="0.25" stop-color="#e9df2c"/><stop offset="0.5" stop-color="#e9d82c"/><stop offset="0.75" stop-color="#e9e02c"/><stop offset="1" stop-color="#e1e92c"/></linearGradient><linearGradient id="gb92" gradientUnits="userSpaceOnUse" x1="496.2" y1="116.9" x2="575.2" y2="91.0"><stop offset="0" stop-color="#d6e92c"/><stop offset="0.25" stop-color="#e3e92c"/><stop offset="0.5" stop-color="#e7e92c"/><stop offset="0.75" stop-color="#e2e92c"/><stop offset="1" stop-color="#d5e92c"/></linearGradient><linearGradient id="gb93" gradientUnits="userSpaceOnUse" x1="497.0" y1="119.5" x2="575.9" y2="93.3"><stop offset="0" stop-color="#cae92c"/><stop offset="0.25" stop-color="#d6e92c"/><stop offset="0.5" stop-color="#dbe92c"/><stop offset="0.75" stop-color="#d6e92c"/><stop offset="1" stop-color="#c9e92c"/></linearGradient><linearGradient id="gb94" gradientUnits="userSpaceOnUse" x1="497.8" y1="122.2" x2="576.5" y2="95.7"><stop offset="0" stop-color="#bce92c"/><stop offset="0.25" stop-color="#cae92c"/><stop offset="0.5" stop-color="#cee92c"/><stop offset="0.75" stop-color="#c9e92c"/><stop offset="1" stop-color="#bbe92c"/></linearGradient><linearGradient id="gb95" gradientUnits="userSpaceOnUse" x1="498.5" y1="124.9" x2="577.2" y2="98.1"><stop offset="0" stop-color="#afe92c"/><stop offset="0.25" stop-color="#bde92c"/><stop offset="0.5" stop-color="#c1e92c"/><stop offset="0.75" stop-color="#bce92c"/><stop offset="1" stop-color="#aee92c"/></linearGradient><linearGradient id="gb96" gradientUnits="userSpaceOnUse" x1="499.3" y1="127.6" x2="577.9" y2="100.5"><stop offset="0" stop-color="#a1e92c"/><stop offset="0.25" stop-color="#afe92c"/><stop offset="0.5" stop-color="#b3e92c"/><stop offset="0.75" stop-color="#aee92c"/><stop offset="1" stop-color="#a0e92c"/></linearGradient><linearGradient id="gb97" gradientUnits="userSpaceOnUse" x1="500.1" y1="130.4" x2="578.6" y2="102.9"><stop offset="0" stop-color="#8ce92c"/><stop offset="0.25" stop-color="#a1e92c"/><stop offset="0.5" stop-color="#a5e92c"/><stop offset="0.75" stop-color="#a0e92c"/><stop offset="1" stop-color="#8ae92c"/></linearGradient><linearGradient id="gb98" gradientUnits="userSpaceOnUse" x1="500.9" y1="133.2" x2="579.2" y2="105.4"><stop offset="0" stop-color="#71e92c"/><stop offset="0.25" stop-color="#8be92c"/><stop offset="0.5" stop-color="#94e92c"/><stop offset="0.75" stop-color="#8ae92c"/><stop offset="1" stop-color="#6fe92c"/></linearGradient><linearGradient id="gb99" gradientUnits="userSpaceOnUse" x1="501.6" y1="136.0" x2="579.9" y2="107.9"><stop offset="0" stop-color="#57e92c"/><stop offset="0.25" stop-color="#70e92c"/><stop offset="0.5" stop-color="#79e92c"/><stop offset="0.75" stop-color="#6fe92c"/><stop offset="1" stop-color="#55e92c"/></linearGradient><linearGradient id="gb100" gradientUnits="userSpaceOnUse" x1="502.4" y1="138.9" x2="580.6" y2="110.5"><stop offset="0" stop-color="#3ee92c"/><stop offset="0.25" stop-color="#56e92c"/><stop offset="0.5" stop-color="#5de92c"/><stop offset="0.75" stop-color="#55e92c"/><stop offset="1" stop-color="#3de92c"/></linearGradient><linearGradient id="gb101" gradientUnits="userSpaceOnUse" x1="503.2" y1="141.8" x2="581.2" y2="113.0"><stop offset="0" stop-color="#2ce936"/><stop offset="0.25" stop-color="#3de92c"/><stop offset="0.5" stop-color="#44e92c"/><stop offset="0.75" stop-color="#3ce92c"/><stop offset="1" stop-color="#2ce939"/></linearGradient><linearGradient id="gb102" gradientUnits="userSpaceOnUse" x1="503.9" y1="144.8" x2="581.9" y2="115.6"><stop offset="0" stop-color="#2ce960"/><stop offset="0.25" stop-color="#2ce939"/><stop offset="0.5" stop-color="#2ce92d"/><stop offset="0.75" stop-color="#2ce93b"/><stop offset="1" stop-color="#2ce962"/></linearGradient><linearGradient id="gb103" gradientUnits="userSpaceOnUse" x1="504.7" y1="147.8" x2="582.6" y2="118.3"><stop offset="0" stop-color="#2ce989"/><stop offset="0.25" stop-color="#2ce963"/><stop offset="0.5" stop-color="#2ce957"/><stop offset="0.75" stop-color="#2ce965"/><stop offset="1" stop-color="#2ce98c"/></linearGradient><linearGradient id="gb104" gradientUnits="userSpaceOnUse" x1="505.5" y1="150.8" x2="583.2" y2="120.9"><stop offset="0" stop-color="#2ce9b3"/><stop offset="0.25" stop-color="#2ce98d"/><stop offset="0.5" stop-color="#2ce981"/><stop offset="0.75" stop-color="#2ce98e"/><stop offset="1" stop-color="#2ce9b5"/></linearGradient><linearGradient id="gb105" gradientUnits="userSpaceOnUse" x1="506.3" y1="153.9" x2="583.9" y2="123.6"><stop offset="0" stop-color="#2ce6d9"/><stop offset="0.25" stop-color="#2ce9b7"/><stop offset="0.5" stop-color="#2ce9ab"/><stop offset="0.75" stop-color="#2ce9b8"/><stop offset="1" stop-color="#2ce4da"/></linearGradient><linearGradient id="gb106" gradientUnits="userSpaceOnUse" x1="507.0" y1="156.9" x2="584.5" y2="126.4"><stop offset="0" stop-color="#2ccfe9"/><stop offset="0.25" stop-color="#2ce3db"/><stop offset="0.5" stop-color="#2ce9d6"/><stop offset="0.75" stop-color="#2ce2db"/><stop offset="1" stop-color="#2ccde9"/></linearGradient><linearGradient id="gb107" gradientUnits="userSpaceOnUse" x1="507.8" y1="160.1" x2="585.2" y2="129.1"><stop offset="0" stop-color="#2cb2e9"/><stop offset="0.25" stop-color="#2ccbe9"/><stop offset="0.5" stop-color="#2cd2e7"/><stop offset="0.75" stop-color="#2ccae9"/><stop offset="1" stop-color="#2cb0e9"/></linearGradient><linearGradient id="gb108" gradientUnits="userSpaceOnUse" x1="508.6" y1="163.2" x2="585.9" y2="131.9"><stop offset="0" stop-color="#2c94e9"/><stop offset="0.25" stop-color="#2cade9"/><stop offset="0.5" stop-color="#2cb5e9"/><stop offset="0.75" stop-color="#2cace9"/><stop offset="1" stop-color="#2c92e9"/></linearGradient><linearGradient id="gb109" gradientUnits="userSpaceOnUse" x1="509.3" y1="166.4" x2="586.5" y2="134.7"><stop offset="0" stop-color="#2c74e9"/><stop offset="0.25" stop-color="#2c8fe9"/><stop offset="0.5" stop-color="#2c98e9"/><stop offset="0.75" stop-color="#2c8fe9"/><stop offset="1" stop-color="#2c72e9"/></linearGradient><linearGradient id="gb110" gradientUnits="userSpaceOnUse" x1="510.1" y1="169.6" x2="587.2" y2="137.6"><stop offset="0" stop-color="#2c4fe9"/><stop offset="0.25" stop-color="#2c6ee9"/><stop offset="0.5" stop-color="#2c78e9"/><stop offset="0.75" stop-color="#2c6de9"/><stop offset="1" stop-color="#2c4ce9"/></linearGradient><linearGradient id="gb111" gradientUnits="userSpaceOnUse" x1="510.9" y1="172.9" x2="587.8" y2="140.4"><stop offset="0" stop-color="#2e2ce9"/><stop offset="0.25" stop-color="#2c48e9"/><stop offset="0.5" stop-color="#2c52e9"/><stop offset="0.75" stop-color="#2c47e9"/><stop offset="1" stop-color="#2f2ce9"/></linearGradient><linearGradient id="gb112" gradientUnits="userSpaceOnUse" x1="511.6" y1="176.2" x2="588.5" y2="143.3"><stop offset="0" stop-color="#452ce9"/><stop offset="0.25" stop-color="#322ce9"/><stop offset="0.5" stop-color="#2c2ce9"/><stop offset="0.75" stop-color="#332ce9"/><stop offset="1" stop-color="#462ce9"/></linearGradient><linearGradient id="gb113" gradientUnits="userSpaceOnUse" x1="512.4" y1="179.5" x2="589.1" y2="146.3"><stop offset="0" stop-color="#5b2ce9"/><stop offset="0.25" stop-color="#492ce9"/><stop offset="0.5" stop-color="#432ce9"/><stop offset="0.75" stop-color="#4a2ce9"/><stop offset="1" stop-color="#5d2ce9"/></linearGradient><linearGradient id="gb114" gradientUnits="userSpaceOnUse" x1="513.2" y1="182.9" x2="589.8" y2="149.2"><stop offset="0" stop-color="#6e2ce9"/><stop offset="0.25" stop-color="#602ce9"/><stop offset="0.5" stop-color="#5a2ce9"/><stop offset="0.75" stop-color="#612ce9"/><stop offset="1" stop-color="#6f2ce9"/></linearGradient><linearGradient id="gb115" gradientUnits="userSpaceOnUse" x1="513.9" y1="186.3" x2="590.4" y2="152.2"><stop offset="0" stop-color="#7d2ce9"/><stop offset="0.25" stop-color="#712ce9"/><stop offset="0.5" stop-color="#6e2ce9"/><stop offset="0.75" stop-color="#722ce9"/><stop offset="1" stop-color="#7e2ce9"/></linearGradient><linearGradient id="gb116" gradientUnits="userSpaceOnUse" x1="514.7" y1="189.7" x2="591.1" y2="155.3"><stop offset="0" stop-color="#882ee3"/><stop offset="0.25" stop-color="#802ce9"/><stop offset="0.5" stop-color="#7c2ce9"/><stop offset="0.75" stop-color="#802ce9"/><stop offset="1" stop-color="#892ee2"/></linearGradient><linearGradient id="gb117" gradientUnits="userSpaceOnUse" x1="515.5" y1="193.1" x2="591.7" y2="158.3"><stop offset="0" stop-color="#9031d6"/><stop offset="0.25" stop-color="#8a2ee0"/><stop offset="0.5" stop-color="#882ee3"/><stop offset="0.75" stop-color="#8a2fe0"/><stop offset="1" stop-color="#9032d5"/></linearGradient><linearGradient id="gb118" gradientUnits="userSpaceOnUse" x1="516.2" y1="196.6" x2="592.4" y2="161.4"><stop offset="0" stop-color="#9433cc"/><stop offset="0.25" stop-color="#9132d3"/><stop offset="0.5" stop-color="#9031d6"/><stop offset="0.75" stop-color="#9232d3"/><stop offset="1" stop-color="#9433cb"/></linearGradient><linearGradient id="gb119" gradientUnits="userSpaceOnUse" x1="517.0" y1="200.2" x2="593.0" y2="164.5"><stop offset="0" stop-color="#9433c4"/><stop offset="0.25" stop-color="#9433ca"/><stop offset="0.5" stop-color="#9433cc"/><stop offset="0.75" stop-color="#9433ca"/><stop offset="1" stop-color="#9433c4"/></linearGradient></defs>
<line x1="396.48" y1="180.64" x2="503.06" y2="141.20" stroke="#d4d4d4" stroke-width="0.8"/>
<line x1="395.51" y1="158.66" x2="503.02" y2="122.05" stroke="#d4d4d4" stroke-width="0.8"/>
<line x1="394.53" y1="136.28" x2="502.99" y2="102.60" stroke="#d4d4d4" stroke-width="0.8"/>
<line x1="393.54" y1="113.52" x2="502.95" y2="82.87" stroke="#d4d4d4" stroke-width="0.8"/>
<line x1="392.52" y1="90.35" x2="502.91" y2="62.84" stroke="#d4d4d4" stroke-width="0.8"/>
<line x1="391.49" y1="66.77" x2="502.87" y2="42.50" stroke="#d4d4d4" stroke-width="0.8"/>
<line x1="390.44" y1="42.77" x2="502.83" y2="21.85" stroke="#d4d4d4" stroke-width="0.8"/>
<line x1="389.37" y1="18.32" x2="502.79" y2="0.88" stroke="#d4d4d4" stroke-width="0.8"/>
<line x1="408.68" y1="176.13" x2="402.46" y2="16.31" stroke="#d4d4d4" stroke-width="0.8"/>
<line x1="431.95" y1="167.51" x2="427.35" y2="12.48" stroke="#d4d4d4" stroke-width="0.8"/>
<line x1="453.81" y1="159.43" x2="450.63" y2="8.90" stroke="#d4d4d4" stroke-width="0.8"/>
<line x1="474.38" y1="151.81" x2="472.47" y2="5.54" stroke="#d4d4d4" stroke-width="0.8"/>
<line x1="493.77" y1="144.64" x2="492.99" y2="2.38" stroke="#d4d4d4" stroke-width="0.8"/>
<line x1="503.06" y1="141.20" x2="624.34" y2="173.48" stroke="#d4d4d4" stroke-width="0.8"/>
<line x1="503.02" y1="122.05" x2="625.32" y2="151.97" stroke="#d4d4d4" stroke-width="0.8"/>
<line x1="502.99" y1="102.60" x2="626.31" y2="130.10" stroke="#d4d4d4" stroke-width="0.8"/>
<line x1="502.95" y1="82.87" x2="627.33" y2="107.85" stroke="#d4d4d4" stroke-width="0.8"/>
<line x1="502.91" y1="62.84" x2="628.36" y2="85.21" stroke="#d4d4d4" stroke-width="0.8"/>
<line x1="502.87" y1="42.50" x2="629.41" y2="62.19" stroke="#d4d4d4" stroke-width="0.8"/>
<line x1="502.83" y1="21.85" x2="630.47" y2="38.75" stroke="#d4d4d4" stroke-width="0.8"/>
<line x1="502.79" y1="0.88" x2="631.56" y2="14.90" stroke="#d4d4d4" stroke-width="0.8"/>
<line x1="521.22" y1="146.03" x2="521.95" y2="2.96" stroke="#d4d4d4" stroke-width="0.8"/>
<line x1="559.84" y1="156.31" x2="562.84" y2="7.42" stroke="#d4d4d4" stroke-width="0.8"/>
<line x1="601.89" y1="167.50" x2="607.58" y2="12.29" stroke="#d4d4d4" stroke-width="0.8"/>
<line x1="408.68" y1="176.13" x2="535.41" y2="219.39" stroke="#d4d4d4" stroke-width="0.8"/>
<line x1="431.95" y1="167.51" x2="557.67" y2="207.90" stroke="#d4d4d4" stroke-width="0.8"/>
<line x1="453.81" y1="159.43" x2="578.37" y2="197.21" stroke="#d4d4d4" stroke-width="0.8"/>
<line x1="474.38" y1="151.81" x2="597.69" y2="187.24" stroke="#d4d4d4" stroke-width="0.8"/>
<line x1="493.77" y1="144.64" x2="615.74" y2="177.92" stroke="#d4d4d4" stroke-width="0.8"/>
<line x1="415.15" y1="187.23" x2="521.22" y2="146.03" stroke="#d4d4d4" stroke-width="0.8"/>
<line x1="455.30" y1="201.37" x2="559.84" y2="156.31" stroke="#d4d4d4" stroke-width="0.8"/>
<line x1="499.67" y1="217.01" x2="601.89" y2="167.50" stroke="#d4d4d4" stroke-width="0.8"/>
<line x1="389.37" y1="18.32" x2="502.79" y2="0.88" stroke="#8a8a8a" stroke-width="0.9"/>
<line x1="502.79" y1="0.88" x2="631.56" y2="14.90" stroke="#8a8a8a" stroke-width="0.9"/>
<line x1="503.06" y1="141.20" x2="502.79" y2="0.88" stroke="#8a8a8a" stroke-width="0.9"/>
<line x1="624.34" y1="173.48" x2="631.56" y2="14.90" stroke="#8a8a8a" stroke-width="0.9"/>
<line x1="503.06" y1="141.20" x2="624.34" y2="173.48" stroke="#8a8a8a" stroke-width="0.9"/>
<line x1="396.48" y1="180.64" x2="503.06" y2="141.20" stroke="#8a8a8a" stroke-width="0.9"/>
<path d="M429.0,34.5L436.7,32.1L444.3,29.9L451.7,27.9L459.0,26.1L466.1,24.6L473.1,23.2L480.0,22.1L486.7,21.2L493.2,20.4L499.7,19.9L506.0,19.5L512.2,19.3L513.3,18.2L507.1,18.4L500.7,18.8L494.3,19.3L487.7,20.0L481.0,20.9L474.1,22.1L467.2,23.4L460.0,24.9L452.8,26.7L445.3,28.7L437.8,30.9L430.0,33.3Z" fill="#643237"/>
<path d="M429.7,33.8L437.4,31.3L444.9,29.1L452.4,27.1L459.6,25.4L466.8,23.8L473.8,22.5L480.6,21.4L487.3,20.5L493.9,19.7L500.3,19.2L506.7,18.8L512.9,18.6L513.9,17.6L507.7,17.7L501.4,18.1L494.9,18.6L488.4,19.3L481.7,20.3L474.8,21.4L467.8,22.7L460.7,24.2L453.4,26.0L446.0,27.9L438.4,30.1L430.7,32.6Z" fill="#643237"/>
<path d="M430.3,33.0L438.0,30.6L445.6,28.4L453.0,26.4L460.3,24.6L467.4,23.1L474.4,21.8L481.3,20.7L488.0,19.7L494.5,19.0L501.0,18.5L507.3,18.1L513.5,17.9L514.6,16.9L508.4,17.1L502.0,17.4L495.6,18.0L489.0,18.7L482.3,19.6L475.5,20.7L468.5,22.0L461.3,23.5L454.1,25.3L446.6,27.2L439.1,29.4L431.3,31.9Z" fill="#643237"/>
<path d="M430.9,32.3L438.7,29.9L446.2,27.7L453.7,25.7L460.9,23.9L468.1,22.4L475.1,21.1L481.9,20.0L488.6,19.1L495.2,18.4L501.7,17.8L508.0,17.5L514.2,17.3L515.2,16.3L509.0,16.5L502.7,16.8L496.3,17.4L489.7,18.1L483.0,19.0L476.1,20.1L469.1,21.4L462.0,22.9L454.7,24.6L447.3,26.6L439.7,28.8L432.0,31.2Z" fill="#643237"/>
<path d="M431.6,31.6L439.3,29.2L446.9,27.0L454.3,25.0L461.6,23.3L468.7,21.8L475.7,20.4L482.6,19.3L489.3,18.4L495.9,17.7L502.3,17.2L508.6,16.9L514.8,16.7L515.9,15.8L509.7,15.9L503.4,16.3L496.9,16.8L490.3,17.5L483.6,18.4L476.8,19.5L469.8,20.8L462.7,22.3L455.4,24.0L448.0,26.0L440.4,28.2L432.6,30.6Z" fill="#643237"/>
<path d="M432.2,31.0L440.0,28.5L447.6,26.3L455.0,24.4L462.3,22.6L469.4,21.1L476.4,19.8L483.2,18.7L489.9,17.8L496.5,17.1L503.0,16.6L509.3,16.3L515.5,16.1L516.5,15.2L510.3,15.4L504.0,15.7L497.6,16.2L491.0,16.9L484.3,17.8L477.4,18.9L470.5,20.2L463.3,21.7L456.0,23.4L448.6,25.4L441.0,27.6L433.3,30.0Z" fill="#643237"/>
<path d="M432.9,30.3L440.6,27.9L448.2,25.7L455.6,23.8L462.9,22.1L470.1,20.5L477.0,19.2L483.9,18.1L490.6,17.2L497.2,16.5L503.6,16.0L510.0,15.7L516.1,15.5L517.2,14.7L511.0,14.9L504.7,15.2L498.2,15.7L491.7,16.4L485.0,17.3L478.1,18.4L471.1,19.7L464.0,21.2L456.7,22.9L449.3,24.8L441.7,27.0L434.0,29.4Z" fill="#643237"/>
<path d="M433.6,29.8L441.3,27.3L448.9,25.2L456.3,23.2L463.6,21.5L470.7,20.0L477.7,18.7L484.6,17.6L491.3,16.7L497.8,16.0L504.3,15.5L510.6,15.2L516.8,15.0L517.9,14.2L511.7,14.4L505.4,14.7L498.9,15.2L492.3,15.9L485.6,16.8L478.8,17.9L471.8,19.2L464.6,20.7L457.4,22.4L449.9,24.3L442.4,26.5L434.6,28.9Z" fill="#643237"/>
<path d="M434.2,29.2L442.0,26.8L449.5,24.6L457.0,22.7L464.2,21.0L471.4,19.5L478.4,18.2L485.2,17.1L491.9,16.2L498.5,15.5L505.0,15.0L511.3,14.7L517.5,14.5L518.5,13.8L512.3,13.9L506.0,14.2L499.6,14.7L493.0,15.4L486.3,16.3L479.4,17.4L472.4,18.7L465.3,20.2L458.0,21.9L450.6,23.8L443.0,26.0L435.3,28.4Z" fill="#643237"/>
<path d="M434.9,28.7L442.6,26.3L450.2,24.1L457.6,22.2L464.9,20.5L472.0,19.0L479.0,17.7L485.9,16.6L492.6,15.7L499.2,15.0L505.6,14.5L511.9,14.2L518.1,14.1L519.2,13.4L513.0,13.5L506.7,13.8L500.2,14.3L493.7,15.0L487.0,15.9L480.1,17.0L473.1,18.2L466.0,19.7L458.7,21.5L451.3,23.4L443.7,25.6L435.9,28.0Z" fill="#643237"/>
<path d="M435.5,28.2L443.3,25.8L450.9,23.7L458.3,21.7L465.6,20.0L472.7,18.5L479.7,17.2L486.6,16.1L493.3,15.3L499.8,14.6L506.3,14.1L512.6,13.8L518.8,13.6L519.9,13.0L513.7,13.1L507.4,13.4L500.9,13.9L494.3,14.6L487.6,15.5L480.8,16.6L473.8,17.8L466.7,19.3L459.4,21.0L451.9,23.0L444.4,25.2L436.6,27.6Z" fill="#643237"/>
<path d="M436.2,27.8L444.0,25.4L451.5,23.2L459.0,21.3L466.3,19.6L473.4,18.1L480.4,16.8L487.2,15.7L493.9,14.8L500.5,14.2L507.0,13.7L513.3,13.4L519.5,13.2L520.5,12.6L514.3,12.8L508.0,13.1L501.6,13.6L495.0,14.2L488.3,15.1L481.5,16.2L474.5,17.5L467.3,19.0L460.0,20.7L452.6,22.6L445.0,24.8L437.3,27.2Z" fill="#643237"/>
<path d="M436.9,27.4L444.6,25.0L452.2,22.8L459.6,20.9L466.9,19.2L474.1,17.7L481.0,16.4L487.9,15.3L494.6,14.5L501.2,13.8L507.6,13.3L513.9,13.0L520.1,12.9L521.2,12.3L515.0,12.5L508.7,12.8L502.3,13.2L495.7,13.9L489.0,14.8L482.1,15.9L475.1,17.1L468.0,18.6L460.7,20.3L453.3,22.3L445.7,24.4L438.0,26.8Z" fill="#643237"/>
<path d="M437.6,27.0L445.3,24.6L452.9,22.5L460.3,20.5L467.6,18.8L474.7,17.3L481.7,16.1L488.6,15.0L495.3,14.1L501.9,13.4L508.3,12.9L514.6,12.6L520.8,12.5L521.9,12.0L515.7,12.2L509.4,12.5L502.9,12.9L496.4,13.6L489.6,14.5L482.8,15.6L475.8,16.8L468.7,18.3L461.4,20.0L454.0,21.9L446.4,24.1L438.6,26.5Z" fill="#643237"/>
<path d="M438.2,26.7L446.0,24.3L453.6,22.1L461.0,20.2L468.3,18.5L475.4,17.0L482.4,15.7L489.2,14.7L496.0,13.8L502.5,13.1L509.0,12.6L515.3,12.3L521.5,12.2L522.5,11.8L516.4,11.9L510.0,12.2L503.6,12.7L497.0,13.4L490.3,14.2L483.5,15.3L476.5,16.6L469.4,18.0L462.1,19.7L454.6,21.7L447.1,23.8L439.3,26.2Z" fill="#643237"/>
<path d="M438.9,26.4L446.7,24.0L454.2,21.8L461.7,19.9L468.9,18.2L476.1,16.7L483.1,15.4L489.9,14.4L496.6,13.5L503.2,12.8L509.6,12.4L515.9,12.1L522.1,11.9L523.2,11.6L517.0,11.7L510.7,12.0L504.3,12.5L497.7,13.1L491.0,14.0L484.2,15.0L477.2,16.3L470.0,17.8L462.8,19.5L455.3,21.4L447.7,23.6L440.0,26.0Z" fill="#643237"/>
<path d="M439.6,26.1L447.3,23.7L454.9,21.6L462.3,19.6L469.6,17.9L476.8,16.5L483.7,15.2L490.6,14.1L497.3,13.3L503.9,12.6L510.3,12.1L516.6,11.8L522.8,11.7L523.9,11.4L517.7,11.5L511.4,11.8L505.0,12.3L498.4,12.9L491.7,13.8L484.8,14.8L477.8,16.1L470.7,17.6L463.4,19.3L456.0,21.2L448.4,23.4L440.7,25.8Z" fill="#643237"/>
<path d="M440.3,25.9L448.0,23.5L455.6,21.4L463.0,19.4L470.3,17.7L477.4,16.2L484.4,15.0L491.3,13.9L498.0,13.0L504.5,12.4L511.0,11.9L517.3,11.6L523.5,11.5L524.6,11.2L518.4,11.3L512.1,11.6L505.6,12.1L499.1,12.8L492.4,13.6L485.5,14.7L478.5,15.9L471.4,17.4L464.1,19.1L456.7,21.1L449.1,23.2L441.4,25.6Z" fill="url(#gb17)"/>
<path d="M441.0,25.7L448.7,23.3L456.3,21.2L463.7,19.2L471.0,17.5L478.1,16.0L485.1,14.8L492.0,13.7L498.7,12.9L505.2,12.2L511.7,11.7L518.0,11.4L524.1,11.3L525.2,11.1L519.0,11.2L512.7,11.5L506.3,12.0L499.7,12.6L493.0,13.5L486.2,14.5L479.2,15.8L472.1,17.3L464.8,19.0L457.4,20.9L449.8,23.1L442.1,25.5Z" fill="url(#gb18)"/>
<path d="M441.6,25.6L449.4,23.2L457.0,21.0L464.4,19.1L471.7,17.4L478.8,15.9L485.8,14.6L492.6,13.6L499.3,12.7L505.9,12.0L512.3,11.6L518.6,11.3L524.8,11.2L525.9,11.0L519.7,11.1L513.4,11.4L507.0,11.9L500.4,12.5L493.7,13.4L486.9,14.4L479.9,15.7L472.8,17.2L465.5,18.9L458.1,20.8L450.5,23.0L442.7,25.4Z" fill="url(#gb19)"/>
<path d="M442.3,25.5L450.1,23.1L457.7,20.9L465.1,19.0L472.4,17.3L479.5,15.8L486.5,14.5L493.3,13.4L500.0,12.6L506.6,11.9L513.0,11.4L519.3,11.2L525.5,11.0L526.6,10.9L520.4,11.0L514.1,11.3L507.7,11.8L501.1,12.5L494.4,13.3L487.6,14.4L480.6,15.7L473.5,17.1L466.2,18.8L458.8,20.8L451.2,22.9L443.4,25.3Z" fill="url(#gb20)"/>
<path d="M443.0,25.4L450.8,23.0L458.3,20.8L465.8,18.9L473.0,17.2L480.2,15.7L487.2,14.4L494.0,13.4L500.7,12.5L507.3,11.8L513.7,11.4L520.0,11.1L526.2,11.0L527.3,10.9L521.1,11.0L514.8,11.3L508.4,11.8L501.8,12.4L495.1,13.3L488.3,14.4L481.3,15.6L474.1,17.1L466.9,18.8L459.4,20.7L451.9,22.9L444.1,25.3Z" fill="url(#gb21)"/>
<path d="M443.7,25.3L451.4,22.9L459.0,20.8L466.5,18.8L473.7,17.1L480.9,15.6L487.8,14.4L494.7,13.3L501.4,12.4L507.9,11.8L514.4,11.3L520.7,11.0L526.8,10.9L527.9,10.9L521.8,11.0L515.5,11.3L509.0,11.8L502.5,12.4L495.8,13.3L488.9,14.4L482.0,15.6L474.8,17.1L467.6,18.8L460.1,20.8L452.6,22.9L444.8,25.3Z" fill="url(#gb22)"/>
<path d="M444.4,25.3L452.1,22.9L459.7,20.7L467.2,18.8L474.4,17.1L481.6,15.6L488.5,14.4L495.4,13.3L502.1,12.4L508.6,11.8L515.1,11.3L521.4,11.0L527.5,10.9L528.6,10.9L522.4,11.0L516.1,11.3L509.7,11.8L503.2,12.5L496.5,13.3L489.6,14.4L482.7,15.7L475.5,17.2L468.3,18.9L460.8,20.8L453.3,23.0L445.5,25.4Z" fill="url(#gb23)"/>
<path d="M445.1,25.4L452.8,22.9L460.4,20.8L467.8,18.8L475.1,17.1L482.2,15.6L489.2,14.4L496.1,13.3L502.8,12.4L509.3,11.8L515.7,11.3L522.0,11.0L528.2,10.9L529.3,11.0L523.1,11.1L516.8,11.4L510.4,11.9L503.9,12.5L497.2,13.4L490.3,14.5L483.4,15.7L476.2,17.2L469.0,18.9L461.5,20.9L454.0,23.1L446.2,25.5Z" fill="url(#gb24)"/>
<path d="M445.8,25.4L453.5,23.0L461.1,20.8L468.5,18.9L475.8,17.2L482.9,15.7L489.9,14.4L496.7,13.4L503.4,12.5L510.0,11.8L516.4,11.4L522.7,11.1L528.9,11.0L530.0,11.1L523.8,11.2L517.5,11.5L511.1,12.0L504.5,12.6L497.8,13.5L491.0,14.6L484.0,15.9L476.9,17.3L469.7,19.1L462.2,21.0L454.7,23.2L446.9,25.6Z" fill="url(#gb25)"/>
<path d="M446.5,25.5L454.2,23.1L461.8,20.9L469.2,19.0L476.5,17.3L483.6,15.8L490.6,14.5L497.4,13.4L504.1,12.6L510.7,11.9L517.1,11.4L523.4,11.1L529.6,11.0L530.6,11.2L524.5,11.3L518.2,11.6L511.8,12.1L505.2,12.8L498.5,13.6L491.7,14.7L484.7,16.0L477.6,17.5L470.4,19.2L462.9,21.2L455.4,23.3L447.6,25.8Z" fill="url(#gb26)"/>
<path d="M447.2,25.7L454.9,23.2L462.5,21.1L469.9,19.1L477.2,17.4L484.3,15.9L491.3,14.6L498.1,13.6L504.8,12.7L511.4,12.0L517.8,11.5L524.1,11.3L530.2,11.1L531.3,11.4L525.2,11.5L518.9,11.8L512.5,12.3L505.9,13.0L499.2,13.8L492.4,14.9L485.4,16.2L478.3,17.7L471.1,19.4L463.6,21.3L456.1,23.5L448.3,26.0Z" fill="url(#gb27)"/>
<path d="M447.9,25.8L455.6,23.4L463.2,21.2L470.6,19.3L477.9,17.6L485.0,16.1L492.0,14.8L498.8,13.7L505.5,12.8L512.1,12.2L518.5,11.7L524.8,11.4L530.9,11.3L532.0,11.6L525.9,11.7L519.6,12.0L513.2,12.5L506.6,13.2L499.9,14.0L493.1,15.1L486.1,16.4L479.0,17.9L471.8,19.6L464.3,21.6L456.8,23.8L449.0,26.2Z" fill="url(#gb28)"/>
<path d="M448.6,26.1L456.3,23.6L463.9,21.4L471.3,19.5L478.6,17.8L485.7,16.3L492.7,15.0L499.5,13.9L506.2,13.0L512.7,12.4L519.2,11.9L525.4,11.6L531.6,11.5L532.7,11.8L526.5,11.9L520.3,12.2L513.9,12.7L507.3,13.4L500.6,14.3L493.8,15.4L486.8,16.6L479.7,18.2L472.5,19.9L465.0,21.8L457.5,24.0L449.7,26.5Z" fill="url(#gb29)"/>
<path d="M449.3,26.3L457.0,23.9L464.6,21.7L472.0,19.7L479.3,18.0L486.4,16.5L493.4,15.2L500.2,14.1L506.9,13.3L513.4,12.6L519.8,12.1L526.1,11.8L532.3,11.7L533.4,12.1L527.2,12.2L521.0,12.5L514.5,13.0L508.0,13.7L501.3,14.6L494.5,15.6L487.5,16.9L480.4,18.4L473.2,20.2L465.8,22.1L458.2,24.3L450.5,26.8Z" fill="url(#gb30)"/>
<path d="M450.0,26.6L457.8,24.1L465.3,22.0L472.7,20.0L480.0,18.3L487.1,16.8L494.1,15.5L500.9,14.4L507.6,13.5L514.1,12.8L520.5,12.3L526.8,12.0L533.0,11.9L534.1,12.4L527.9,12.5L521.6,12.8L515.2,13.3L508.7,14.0L502.0,14.9L495.2,16.0L488.2,17.3L481.1,18.8L473.9,20.5L466.5,22.5L458.9,24.7L451.2,27.1Z" fill="url(#gb31)"/>
<path d="M450.7,26.9L458.5,24.5L466.0,22.3L473.4,20.3L480.7,18.6L487.8,17.1L494.8,15.8L501.6,14.7L508.3,13.8L514.8,13.1L521.2,12.6L527.5,12.3L533.6,12.2L534.7,12.7L528.6,12.8L522.3,13.1L515.9,13.6L509.4,14.3L502.7,15.2L495.9,16.3L488.9,17.6L481.8,19.1L474.6,20.9L467.2,22.8L459.6,25.1L451.9,27.5Z" fill="url(#gb32)"/>
<path d="M451.5,27.3L459.2,24.8L466.7,22.6L474.2,20.6L481.4,18.9L488.5,17.4L495.5,16.1L502.3,15.0L509.0,14.1L515.5,13.4L521.9,12.9L528.2,12.6L534.3,12.5L535.4,13.1L529.3,13.2L523.0,13.5L516.6,14.0L510.1,14.7L503.4,15.6L496.6,16.7L489.6,18.0L482.5,19.5L475.3,21.3L467.9,23.3L460.3,25.5L452.6,27.9Z" fill="url(#gb33)"/>
<path d="M452.2,27.7L459.9,25.2L467.5,23.0L474.9,21.0L482.1,19.3L489.2,17.8L496.2,16.5L503.0,15.4L509.7,14.5L516.2,13.8L522.6,13.3L528.9,13.0L535.0,12.8L536.1,13.5L530.0,13.6L523.7,13.9L517.3,14.4L510.8,15.1L504.1,16.0L497.3,17.1L490.4,18.4L483.3,20.0L476.0,21.7L468.6,23.7L461.0,25.9L453.3,28.4Z" fill="url(#gb34)"/>
<path d="M452.9,28.1L460.6,25.6L468.2,23.4L475.6,21.4L482.8,19.7L489.9,18.2L496.9,16.9L503.7,15.8L510.4,14.9L516.9,14.2L523.3,13.7L529.6,13.4L535.7,13.2L536.8,13.9L530.7,14.0L524.4,14.4L518.0,14.9L511.5,15.6L504.8,16.5L498.0,17.6L491.1,18.9L484.0,20.4L476.7,22.2L469.3,24.2L461.8,26.4L454.0,28.9Z" fill="url(#gb35)"/>
<path d="M453.6,28.6L461.3,26.1L468.9,23.9L476.3,21.9L483.5,20.1L490.6,18.6L497.6,17.3L504.4,16.2L511.1,15.3L517.6,14.6L524.0,14.1L530.3,13.8L536.4,13.6L537.5,14.4L531.4,14.5L525.1,14.8L518.7,15.3L512.2,16.1L505.5,17.0L498.7,18.1L491.8,19.4L484.7,20.9L477.4,22.7L470.0,24.7L462.5,26.9L454.8,29.4Z" fill="url(#gb36)"/>
<path d="M454.3,29.1L462.0,26.6L469.6,24.4L477.0,22.4L484.2,20.6L491.3,19.1L498.3,17.8L505.1,16.7L511.8,15.8L518.3,15.1L524.7,14.5L530.9,14.2L537.1,14.1L538.2,14.8L532.0,15.0L525.8,15.3L519.4,15.9L512.9,16.6L506.2,17.5L499.4,18.6L492.5,19.9L485.4,21.5L478.1,23.3L470.7,25.3L463.2,27.5L455.5,30.0Z" fill="url(#gb37)"/>
<path d="M455.0,29.6L462.8,27.2L470.3,24.9L477.7,22.9L485.0,21.1L492.1,19.6L499.0,18.3L505.8,17.2L512.5,16.3L519.0,15.5L525.4,15.0L531.6,14.7L537.8,14.5L538.9,15.4L532.7,15.5L526.5,15.9L520.1,16.4L513.6,17.1L506.9,18.0L500.1,19.2L493.2,20.5L486.1,22.1L478.9,23.8L471.5,25.9L463.9,28.1L456.2,30.6Z" fill="url(#gb38)"/>
<path d="M455.8,30.2L463.5,27.7L471.0,25.5L478.4,23.5L485.7,21.7L492.8,20.2L499.7,18.8L506.5,17.7L513.2,16.8L519.7,16.1L526.1,15.5L532.3,15.2L538.4,15.1L539.5,15.9L533.4,16.1L527.2,16.4L520.8,17.0L514.3,17.7L507.6,18.6L500.8,19.8L493.9,21.1L486.8,22.7L479.6,24.5L472.2,26.5L464.6,28.7L456.9,31.2Z" fill="url(#gb39)"/>
<path d="M456.5,30.9L464.2,28.4L471.8,26.1L479.1,24.1L486.4,22.3L493.5,20.7L500.4,19.4L507.2,18.3L513.9,17.4L520.4,16.6L526.8,16.1L533.0,15.8L539.1,15.6L540.2,16.5L534.1,16.7L527.9,17.1L521.5,17.6L515.0,18.3L508.3,19.3L501.5,20.4L494.6,21.8L487.5,23.3L480.3,25.1L472.9,27.1L465.4,29.4L457.7,31.9Z" fill="url(#gb40)"/>
<path d="M457.2,31.5L464.9,29.0L472.5,26.7L479.9,24.7L487.1,22.9L494.2,21.4L501.1,20.0L507.9,18.9L514.6,18.0L521.1,17.2L527.5,16.7L533.7,16.3L539.8,16.2L540.9,17.2L534.8,17.3L528.6,17.7L522.2,18.2L515.7,19.0L509.0,19.9L502.3,21.1L495.3,22.4L488.2,24.0L481.0,25.8L473.6,27.9L466.1,30.1L458.4,32.7Z" fill="url(#gb41)"/>
<path d="M458.0,32.2L465.7,29.7L473.2,27.4L480.6,25.4L487.8,23.6L494.9,22.0L501.8,20.7L508.6,19.5L515.3,18.6L521.8,17.9L528.2,17.3L534.4,17.0L540.5,16.8L541.6,17.8L535.5,18.0L529.3,18.4L522.9,18.9L516.4,19.7L509.8,20.6L503.0,21.8L496.0,23.1L489.0,24.7L481.7,26.5L474.4,28.6L466.8,30.9L459.1,33.4Z" fill="url(#gb42)"/>
<path d="M458.7,33.0L466.4,30.4L473.9,28.1L481.3,26.1L488.5,24.3L495.6,22.7L502.5,21.4L509.3,20.2L516.0,19.3L522.5,18.5L528.8,18.0L535.1,17.6L541.2,17.4L542.3,18.5L536.2,18.7L530.0,19.1L523.6,19.6L517.1,20.4L510.5,21.4L503.7,22.5L496.8,23.9L489.7,25.5L482.5,27.3L475.1,29.4L467.6,31.7L459.9,34.2Z" fill="url(#gb43)"/>
<path d="M459.4,33.7L467.1,31.2L474.7,28.9L482.0,26.9L489.3,25.0L496.3,23.4L503.3,22.1L510.0,20.9L516.7,20.0L523.2,19.2L529.5,18.7L535.8,18.3L541.9,18.1L543.0,19.2L536.9,19.4L530.7,19.8L524.3,20.4L517.8,21.2L511.2,22.1L504.4,23.3L497.5,24.7L490.4,26.3L483.2,28.1L475.8,30.2L468.3,32.5L460.6,35.1Z" fill="url(#gb44)"/>
<path d="M460.1,34.5L467.8,32.0L475.4,29.7L482.8,27.6L490.0,25.8L497.0,24.2L504.0,22.8L510.7,21.7L517.4,20.7L523.9,19.9L530.2,19.4L536.5,19.0L542.6,18.8L543.7,20.0L537.6,20.2L531.4,20.6L525.0,21.2L518.5,22.0L511.9,22.9L505.1,24.1L498.2,25.5L491.1,27.1L483.9,29.0L476.5,31.0L469.0,33.4L461.3,35.9Z" fill="url(#gb45)"/>
<path d="M460.9,35.4L468.6,32.8L476.1,30.5L483.5,28.5L490.7,26.6L497.8,25.0L504.7,23.6L511.5,22.4L518.1,21.5L524.6,20.7L530.9,20.1L537.2,19.7L543.3,19.5L544.4,20.8L538.3,21.0L532.1,21.4L525.7,22.0L519.2,22.8L512.6,23.8L505.8,25.0L498.9,26.4L491.9,28.0L484.6,29.8L477.3,31.9L469.7,34.3L462.1,36.8Z" fill="url(#gb46)"/>
<path d="M461.6,36.3L469.3,33.7L476.8,31.4L484.2,29.3L491.4,27.5L498.5,25.8L505.4,24.4L512.2,23.3L518.8,22.3L525.3,21.5L531.6,20.9L537.9,20.5L544.0,20.3L545.1,21.6L539.0,21.9L532.8,22.3L526.4,22.9L519.9,23.7L513.3,24.6L506.5,25.8L499.6,27.3L492.6,28.9L485.4,30.8L478.0,32.9L470.5,35.2L462.8,37.8Z" fill="url(#gb47)"/>
<path d="M462.4,37.2L470.0,34.6L477.6,32.3L484.9,30.2L492.1,28.4L499.2,26.7L506.1,25.3L512.9,24.1L519.5,23.1L526.0,22.3L532.3,21.8L538.6,21.4L544.6,21.1L545.7,22.5L539.7,22.7L533.5,23.1L527.1,23.8L520.6,24.6L514.0,25.6L507.3,26.8L500.4,28.2L493.3,29.8L486.1,31.7L478.7,33.8L471.2,36.2L463.5,38.8Z" fill="url(#gb48)"/>
<path d="M463.1,38.2L470.8,35.6L478.3,33.2L485.7,31.1L492.9,29.3L499.9,27.6L506.8,26.2L513.6,25.0L520.2,24.0L526.7,23.2L533.0,22.6L539.2,22.2L545.3,22.0L546.4,23.4L540.4,23.6L534.2,24.1L527.8,24.7L521.3,25.5L514.7,26.5L508.0,27.7L501.1,29.2L494.0,30.8L486.8,32.7L479.5,34.8L472.0,37.2L464.3,39.8Z" fill="url(#gb49)"/>
<path d="M463.8,39.2L471.5,36.6L479.0,34.2L486.4,32.1L493.6,30.2L500.6,28.6L507.5,27.1L514.3,25.9L520.9,24.9L527.4,24.1L533.7,23.5L539.9,23.1L546.0,22.9L547.1,24.3L541.1,24.6L534.9,25.0L528.5,25.6L522.0,26.5L515.4,27.5L508.7,28.7L501.8,30.2L494.8,31.8L487.6,33.7L480.2,35.9L472.7,38.2L465.0,40.9Z" fill="url(#gb50)"/>
<path d="M464.6,40.2L472.3,37.6L479.8,35.2L487.1,33.1L494.3,31.2L501.4,29.6L508.3,28.1L515.0,26.9L521.6,25.9L528.1,25.1L534.4,24.4L540.6,24.0L546.7,23.8L547.8,25.3L541.8,25.6L535.6,26.0L529.2,26.6L522.8,27.5L516.2,28.5L509.4,29.7L502.5,31.2L495.5,32.9L488.3,34.8L480.9,36.9L473.4,39.3L465.8,42.0Z" fill="url(#gb51)"/>
<path d="M465.3,41.3L473.0,38.7L480.5,36.3L487.8,34.2L495.0,32.3L502.1,30.6L509.0,29.1L515.7,27.9L522.3,26.9L528.8,26.0L535.1,25.4L541.3,25.0L547.4,24.7L548.5,26.3L542.4,26.6L536.3,27.0L529.9,27.7L523.5,28.5L516.9,29.6L510.1,30.8L503.2,32.3L496.2,34.0L489.0,35.9L481.7,38.1L474.2,40.5L466.5,43.1Z" fill="url(#gb52)"/>
<path d="M466.1,42.4L473.7,39.8L481.2,37.4L488.6,35.2L495.8,33.3L502.8,31.6L509.7,30.2L516.4,28.9L523.0,27.9L529.5,27.0L535.8,26.4L542.0,26.0L548.1,25.7L549.2,27.3L543.1,27.6L537.0,28.1L530.6,28.7L524.2,29.6L517.6,30.6L510.8,31.9L504.0,33.4L496.9,35.1L489.8,37.0L482.4,39.2L474.9,41.6L467.3,44.3Z" fill="url(#gb53)"/>
<path d="M466.8,43.6L474.5,40.9L482.0,38.5L489.3,36.4L496.5,34.4L503.5,32.7L510.4,31.2L517.2,30.0L523.8,28.9L530.2,28.1L536.5,27.4L542.7,27.0L548.8,26.7L549.9,28.4L543.8,28.7L537.7,29.2L531.3,29.8L524.9,30.7L518.3,31.8L511.6,33.0L504.7,34.5L497.7,36.3L490.5,38.2L483.2,40.4L475.7,42.8L468.0,45.5Z" fill="url(#gb54)"/>
<path d="M467.6,44.8L475.2,42.1L482.7,39.7L490.0,37.5L497.2,35.6L504.3,33.9L511.1,32.4L517.9,31.1L524.5,30.0L530.9,29.2L537.2,28.5L543.4,28.0L549.5,27.7L550.6,29.5L544.5,29.8L538.4,30.3L532.0,31.0L525.6,31.8L519.0,32.9L512.3,34.2L505.4,35.7L498.4,37.5L491.2,39.4L483.9,41.6L476.4,44.1L468.8,46.8Z" fill="url(#gb55)"/>
<path d="M468.3,46.0L476.0,43.3L483.5,40.9L490.8,38.7L498.0,36.7L505.0,35.0L511.9,33.5L518.6,32.2L525.2,31.2L531.6,30.3L537.9,29.6L544.1,29.1L550.2,28.8L551.3,30.6L545.2,30.9L539.1,31.4L532.7,32.1L526.3,33.0L519.7,34.1L513.0,35.4L506.1,37.0L499.1,38.7L492.0,40.7L484.6,42.9L477.2,45.3L469.5,48.1Z" fill="url(#gb56)"/>
<path d="M469.1,47.3L476.7,44.6L484.2,42.1L491.5,39.9L498.7,38.0L505.7,36.2L512.6,34.7L519.3,33.4L525.9,32.3L532.3,31.4L538.6,30.7L544.8,30.2L550.9,29.9L552.0,31.8L545.9,32.1L539.8,32.6L533.5,33.3L527.0,34.2L520.4,35.4L513.7,36.7L506.9,38.2L499.9,40.0L492.7,42.0L485.4,44.2L477.9,46.7L470.3,49.4Z" fill="url(#gb57)"/>
<path d="M469.8,48.6L477.5,45.9L484.9,43.4L492.3,41.2L499.4,39.2L506.4,37.5L513.3,35.9L520.0,34.6L526.6,33.5L533.0,32.6L539.3,31.9L545.5,31.4L551.5,31.1L552.7,33.0L546.6,33.3L540.5,33.9L534.2,34.6L527.7,35.5L521.2,36.6L514.4,38.0L507.6,39.5L500.6,41.3L493.4,43.3L486.1,45.5L478.7,48.0L471.0,50.8Z" fill="url(#gb58)"/>
<path d="M470.6,49.9L478.2,47.2L485.7,44.7L493.0,42.5L500.1,40.5L507.2,38.7L514.0,37.2L520.7,35.9L527.3,34.7L533.7,33.8L540.0,33.1L546.2,32.6L552.2,32.3L553.3,34.2L547.3,34.6L541.2,35.1L534.9,35.8L528.4,36.8L521.9,37.9L515.2,39.3L508.3,40.8L501.3,42.6L494.2,44.6L486.9,46.9L479.4,49.4L471.8,52.2Z" fill="url(#gb59)"/>
<path d="M471.3,51.3L479.0,48.6L486.4,46.1L493.7,43.8L500.9,41.8L507.9,40.0L514.7,38.5L521.4,37.1L528.0,36.0L534.4,35.1L540.7,34.4L546.9,33.8L552.9,33.5L554.0,35.5L548.0,35.9L541.9,36.4L535.6,37.2L529.2,38.1L522.6,39.3L515.9,40.6L509.0,42.2L502.1,44.0L494.9,46.0L487.6,48.3L480.2,50.8L472.5,53.6Z" fill="url(#gb60)"/>
<path d="M472.1,52.7L479.7,50.0L487.2,47.5L494.5,45.2L501.6,43.2L508.6,41.4L515.5,39.8L522.2,38.5L528.7,37.3L535.2,36.4L541.4,35.6L547.6,35.1L553.6,34.7L554.7,36.8L548.7,37.2L542.6,37.7L536.3,38.5L529.9,39.5L523.3,40.6L516.6,42.0L509.8,43.6L502.8,45.4L495.6,47.5L488.4,49.8L480.9,52.3L473.3,55.1Z" fill="url(#gb61)"/>
<path d="M472.8,54.2L480.5,51.4L487.9,48.9L495.2,46.6L502.3,44.6L509.3,42.8L516.2,41.2L522.9,39.8L529.4,38.6L535.9,37.7L542.1,36.9L548.3,36.4L554.3,36.0L555.4,38.1L549.4,38.5L543.3,39.1L537.0,39.9L530.6,40.9L524.0,42.0L517.3,43.4L510.5,45.0L503.5,46.9L496.4,48.9L489.1,51.3L481.7,53.8L474.0,56.6Z" fill="url(#gb62)"/>
<path d="M473.6,55.7L481.2,52.9L488.7,50.4L495.9,48.1L503.1,46.0L510.1,44.2L516.9,42.6L523.6,41.2L530.2,40.0L536.6,39.0L542.8,38.3L549.0,37.7L555.0,37.3L556.1,39.5L550.1,39.9L544.0,40.5L537.7,41.3L531.3,42.3L524.7,43.5L518.1,44.9L511.2,46.5L504.3,48.4L497.1,50.5L489.8,52.8L482.4,55.4L474.8,58.2Z" fill="#e82c2c"/>
<path d="M474.3,57.2L482.0,54.4L489.4,51.9L496.7,49.5L503.8,47.5L510.8,45.6L517.6,44.0L524.3,42.6L530.9,41.4L537.3,40.4L543.5,39.7L549.7,39.1L555.7,38.7L556.8,40.9L550.8,41.3L544.7,41.9L538.4,42.7L532.0,43.7L525.5,45.0L518.8,46.4L512.0,48.0L505.0,49.9L497.9,52.0L490.6,54.3L483.2,56.9L475.6,59.8Z" fill="#e92c2c"/>
<path d="M475.1,58.8L482.7,56.0L490.1,53.4L497.4,51.1L504.6,49.0L511.5,47.1L518.4,45.5L525.0,44.1L531.6,42.9L538.0,41.9L544.2,41.1L550.4,40.5L556.4,40.0L557.5,42.3L551.5,42.8L545.4,43.4L539.1,44.2L532.7,45.2L526.2,46.5L519.5,47.9L512.7,49.6L505.7,51.5L498.6,53.6L491.3,55.9L483.9,58.6L476.3,61.4Z" fill="#e92c2c"/>
<path d="M475.9,60.4L483.5,57.6L490.9,55.0L498.2,52.6L505.3,50.5L512.3,48.6L519.1,47.0L525.8,45.6L532.3,44.3L538.7,43.3L544.9,42.5L551.1,41.9L557.1,41.5L558.2,43.8L552.2,44.2L546.1,44.9L539.8,45.7L533.4,46.8L526.9,48.0L520.2,49.5L513.4,51.2L506.5,53.1L499.4,55.2L492.1,57.6L484.7,60.2L477.1,63.1Z" fill="#e92c2c"/>
<path d="M476.6,62.1L484.2,59.2L491.6,56.6L498.9,54.2L506.0,52.1L513.0,50.2L519.8,48.5L526.5,47.1L533.0,45.8L539.4,44.8L545.6,44.0L551.8,43.4L557.8,42.9L558.9,45.3L552.9,45.8L546.8,46.4L540.5,47.3L534.1,48.3L527.6,49.6L521.0,51.1L514.2,52.8L507.2,54.7L500.1,56.9L492.8,59.3L485.4,61.9L477.8,64.8Z" fill="#e92c2c"/>
<path d="M477.4,63.8L485.0,60.9L492.4,58.2L499.7,55.9L506.8,53.7L513.7,51.8L520.5,50.1L527.2,48.6L533.7,47.4L540.1,46.3L546.3,45.5L552.5,44.8L558.5,44.4L559.6,46.8L553.6,47.3L547.5,48.0L541.2,48.9L534.9,49.9L528.3,51.2L521.7,52.7L514.9,54.4L507.9,56.4L500.8,58.5L493.6,61.0L486.2,63.6L478.6,66.6Z" fill="#e92c2c"/>
<path d="M478.1,65.5L485.7,62.6L493.1,59.9L500.4,57.5L507.5,55.4L514.4,53.4L521.3,51.7L527.9,50.2L534.4,49.0L540.8,47.9L547.0,47.0L553.2,46.4L559.1,45.9L560.2,48.4L554.3,48.9L548.2,49.6L541.9,50.5L535.6,51.6L529.1,52.9L522.4,54.4L515.6,56.1L508.7,58.1L501.6,60.3L494.3,62.7L486.9,65.4L479.4,68.3Z" fill="#e92c2c"/>
<path d="M478.9,67.3L486.5,64.3L493.9,61.7L501.1,59.2L508.2,57.1L515.2,55.1L522.0,53.4L528.6,51.9L535.1,50.6L541.5,49.5L547.8,48.6L553.9,47.9L559.8,47.4L560.9,50.0L555.0,50.5L548.9,51.2L542.6,52.1L536.3,53.2L529.8,54.6L523.1,56.1L516.4,57.8L509.4,59.8L502.3,62.0L495.1,64.5L487.7,67.2L480.1,70.2Z" fill="#e92c2c"/>
<path d="M479.7,69.1L487.2,66.1L494.6,63.4L501.9,61.0L509.0,58.8L515.9,56.8L522.7,55.1L529.3,53.5L535.9,52.2L542.2,51.1L548.5,50.2L554.5,49.5L560.5,49.0L561.6,51.6L555.7,52.2L549.6,52.9L543.3,53.8L537.0,55.0L530.5,56.3L523.9,57.8L517.1,59.6L510.2,61.6L503.1,63.8L495.8,66.3L488.5,69.0L480.9,72.0Z" fill="#e92c2c"/>
<path d="M480.4,70.9L488.0,67.9L495.4,65.2L502.6,62.8L509.7,60.5L516.6,58.5L523.4,56.8L530.1,55.3L536.6,53.9L542.9,52.8L549.2,51.9L555.2,51.2L561.2,50.6L562.3,53.3L556.4,53.9L550.3,54.6L544.1,55.5L537.7,56.7L531.2,58.0L524.6,59.6L517.8,61.4L510.9,63.4L503.8,65.7L496.6,68.2L489.2,70.9L481.7,73.9Z" fill="#e92c2c"/>
<path d="M481.2,72.8L488.8,69.8L496.1,67.1L503.4,64.6L510.5,62.3L517.4,60.3L524.2,58.5L530.8,57.0L537.3,55.6L543.6,54.5L549.9,53.6L555.9,52.8L561.9,52.3L563.0,55.0L557.0,55.6L551.0,56.3L544.8,57.3L538.4,58.5L531.9,59.8L525.3,61.4L518.5,63.2L511.6,65.3L504.6,67.6L497.3,70.1L490.0,72.8L482.4,75.9Z" fill="#e92c2c"/>
<path d="M482.0,74.7L489.5,71.7L496.9,68.9L504.1,66.4L511.2,64.2L518.1,62.1L524.9,60.3L531.5,58.8L538.0,57.4L544.3,56.2L550.6,55.3L556.6,54.5L562.6,54.0L563.7,56.7L557.7,57.3L551.7,58.1L545.5,59.1L539.1,60.3L532.7,61.7L526.0,63.3L519.3,65.1L512.4,67.2L505.3,69.5L498.1,72.0L490.7,74.8L483.2,77.8Z" fill="#e92c2c"/>
<path d="M482.7,76.7L490.3,73.6L497.6,70.8L504.9,68.3L511.9,66.0L518.8,64.0L525.6,62.2L532.2,60.6L538.7,59.2L545.0,58.0L551.3,57.0L557.3,56.3L563.3,55.7L564.4,58.5L558.4,59.1L552.4,59.9L546.2,60.9L539.8,62.1L533.4,63.5L526.8,65.2L520.0,67.0L513.1,69.1L506.1,71.4L498.9,74.0L491.5,76.8L484.0,79.9Z" fill="#e92c2c"/>
<path d="M483.5,78.6L491.0,75.6L498.4,72.8L505.6,70.2L512.7,67.9L519.6,65.9L526.3,64.0L532.9,62.4L539.4,61.0L545.7,59.8L551.9,58.8L558.0,58.0L564.0,57.4L565.1,60.3L559.1,60.9L553.1,61.8L546.9,62.8L540.6,64.0L534.1,65.4L527.5,67.1L520.7,69.0L513.8,71.1L506.8,73.4L499.6,76.0L492.3,78.8L484.7,81.9Z" fill="#e92c2c"/>
<path d="M484.3,80.7L491.8,77.6L499.2,74.8L506.4,72.2L513.4,69.9L520.3,67.8L527.1,65.9L533.7,64.3L540.1,62.9L546.5,61.7L552.6,60.7L558.7,59.8L564.6,59.2L565.7,62.1L559.8,62.8L553.8,63.6L547.6,64.7L541.3,65.9L534.8,67.4L528.2,69.0L521.5,70.9L514.6,73.1L507.6,75.4L500.4,78.0L493.0,80.9L485.5,84.0Z" fill="#e92c2c"/>
<path d="M485.0,82.7L492.6,79.6L499.9,76.8L507.1,74.2L514.1,71.9L521.0,69.7L527.8,67.9L534.4,66.2L540.8,64.8L547.2,63.5L553.3,62.5L559.4,61.7L565.3,61.0L566.4,64.0L560.5,64.7L554.5,65.5L548.3,66.6L542.0,67.9L535.5,69.3L528.9,71.0L522.2,72.9L515.3,75.1L508.3,77.5L501.1,80.1L493.8,83.0L486.3,86.1Z" fill="#e92c2c"/>
<path d="M485.8,84.8L493.3,81.7L500.7,78.9L507.9,76.2L514.9,73.9L521.8,71.7L528.5,69.8L535.1,68.2L541.6,66.7L547.9,65.4L554.0,64.4L560.1,63.5L566.0,62.9L567.1,65.9L561.2,66.6L555.2,67.5L549.0,68.6L542.7,69.8L536.2,71.3L529.7,73.1L522.9,75.0L516.1,77.2L509.0,79.6L501.9,82.2L494.5,85.1L487.0,88.3Z" fill="#e92c2c"/>
<path d="M486.6,87.0L494.1,83.8L501.4,80.9L508.6,78.3L515.6,75.9L522.5,73.8L529.2,71.8L535.8,70.1L542.3,68.7L548.6,67.4L554.7,66.3L560.8,65.4L566.7,64.8L567.8,67.8L561.9,68.6L555.9,69.5L549.7,70.6L543.4,71.9L537.0,73.4L530.4,75.1L523.7,77.1L516.8,79.3L509.8,81.7L502.6,84.4L495.3,87.3L487.8,90.5Z" fill="#e92c2c"/>
<path d="M487.3,89.2L494.8,86.0L502.2,83.1L509.3,80.4L516.4,78.0L523.2,75.8L530.0,73.9L536.5,72.2L543.0,70.7L549.3,69.4L555.4,68.3L561.5,67.4L567.4,66.7L568.5,69.8L562.6,70.5L556.6,71.5L550.4,72.6L544.1,73.9L537.7,75.5L531.1,77.2L524.4,79.2L517.5,81.4L510.5,83.9L503.4,86.6L496.1,89.5L488.6,92.7Z" fill="#e92c2c"/>
<path d="M488.1,91.4L495.6,88.2L502.9,85.2L510.1,82.6L517.1,80.1L524.0,77.9L530.7,76.0L537.3,74.2L543.7,72.7L550.0,71.4L556.1,70.3L562.2,69.3L568.1,68.6L569.2,71.8L563.3,72.6L557.2,73.5L551.1,74.7L544.8,76.0L538.4,77.6L531.8,79.3L525.1,81.3L518.3,83.6L511.3,86.1L504.1,88.8L496.8,91.8L489.4,95.0Z" fill="#e92c2c"/>
<path d="M488.9,93.6L496.4,90.4L503.7,87.4L510.8,84.7L517.8,82.3L524.7,80.1L531.4,78.1L538.0,76.3L544.4,74.7L550.7,73.4L556.8,72.3L562.9,71.3L568.7,70.6L569.8,73.8L564.0,74.6L557.9,75.6L551.8,76.7L545.5,78.1L539.1,79.7L532.6,81.5L525.9,83.5L519.0,85.8L512.0,88.3L504.9,91.0L497.6,94.0L490.1,97.3Z" fill="#e92c2c"/>
<path d="M489.7,95.9L497.1,92.7L504.4,89.7L511.6,87.0L518.6,84.5L525.4,82.2L532.1,80.2L538.7,78.4L545.1,76.8L551.4,75.5L557.5,74.3L563.5,73.4L569.4,72.6L570.5,75.9L564.6,76.7L558.6,77.7L552.5,78.9L546.2,80.3L539.8,81.9L533.3,83.7L526.6,85.8L519.8,88.0L512.8,90.6L505.6,93.3L498.3,96.4L490.9,99.7Z" fill="url(#gb84)"/>
<path d="M490.4,98.2L497.9,95.0L505.2,92.0L512.3,89.2L519.3,86.7L526.2,84.4L532.9,82.4L539.4,80.6L545.8,79.0L552.1,77.6L558.2,76.4L564.2,75.4L570.1,74.7L571.2,78.0L565.3,78.8L559.3,79.8L553.2,81.0L546.9,82.5L540.5,84.1L534.0,85.9L527.3,88.0L520.5,90.3L513.5,92.9L506.4,95.7L499.1,98.7L491.7,102.0Z" fill="url(#gb85)"/>
<path d="M491.2,100.6L498.7,97.3L505.9,94.3L513.1,91.5L520.1,89.0L526.9,86.7L533.6,84.6L540.1,82.8L546.5,81.1L552.8,79.7L558.9,78.5L564.9,77.5L570.8,76.7L571.9,80.1L566.0,81.0L560.0,82.0L553.9,83.2L547.7,84.7L541.3,86.3L534.7,88.2L528.1,90.3L521.2,92.6L514.3,95.2L507.2,98.0L499.9,101.1L492.4,104.5Z" fill="url(#gb86)"/>
<path d="M492.0,103.0L499.4,99.7L506.7,96.6L513.8,93.8L520.8,91.3L527.6,88.9L534.3,86.8L540.8,85.0L547.2,83.3L553.5,81.9L559.6,80.7L565.6,79.7L571.5,78.8L572.6,82.3L566.7,83.2L560.7,84.2L554.6,85.5L548.4,86.9L542.0,88.6L535.5,90.5L528.8,92.6L522.0,95.0L515.0,97.6L507.9,100.4L500.6,103.6L493.2,106.9Z" fill="url(#gb87)"/>
<path d="M492.7,105.4L500.2,102.1L507.5,99.0L514.6,96.2L521.5,93.6L528.4,91.2L535.0,89.1L541.6,87.2L547.9,85.6L554.2,84.1L560.3,82.9L566.3,81.8L572.1,81.0L573.2,84.5L567.4,85.4L561.4,86.5L555.3,87.7L549.1,89.2L542.7,90.9L536.2,92.9L529.5,95.0L522.7,97.4L515.8,100.0L508.7,102.9L501.4,106.0L494.0,109.4Z" fill="url(#gb88)"/>
<path d="M493.5,107.9L500.9,104.5L508.2,101.4L515.3,98.6L522.3,96.0L529.1,93.6L535.7,91.4L542.3,89.5L548.6,87.8L554.9,86.4L561.0,85.1L567.0,84.0L572.8,83.2L573.9,86.7L568.1,87.6L562.1,88.7L556.0,90.0L549.8,91.5L543.4,93.3L536.9,95.2L530.3,97.4L523.5,99.8L516.5,102.5L509.4,105.4L502.2,108.5L494.8,111.9Z" fill="url(#gb89)"/>
<path d="M494.3,110.4L501.7,107.0L509.0,103.9L516.1,101.0L523.0,98.4L529.8,96.0L536.5,93.8L543.0,91.9L549.4,90.1L555.6,88.6L561.7,87.4L567.7,86.3L573.5,85.4L574.6,89.0L568.8,89.9L562.8,91.0L556.7,92.4L550.5,93.9L544.1,95.7L537.6,97.6L531.0,99.8L524.2,102.3L517.3,104.9L510.2,107.9L502.9,111.1L495.5,114.5Z" fill="url(#gb90)"/>
<path d="M495.1,113.0L502.5,109.5L509.7,106.4L516.8,103.5L523.8,100.8L530.5,98.4L537.2,96.2L543.7,94.2L550.1,92.5L556.3,91.0L562.4,89.6L568.3,88.5L574.2,87.6L575.3,91.3L569.4,92.2L563.5,93.4L557.4,94.7L551.2,96.3L544.8,98.1L538.3,100.1L531.7,102.3L524.9,104.8L518.0,107.5L510.9,110.4L503.7,113.6L496.3,117.1Z" fill="url(#gb91)"/>
<path d="M495.8,115.5L503.2,112.1L510.5,108.9L517.6,105.9L524.5,103.3L531.3,100.8L537.9,98.6L544.4,96.6L550.8,94.9L557.0,93.3L563.1,92.0L569.0,90.8L574.9,89.9L575.9,93.6L570.1,94.6L564.2,95.7L558.1,97.1L551.9,98.7L545.6,100.5L539.1,102.5L532.4,104.8L525.7,107.3L518.8,110.0L511.7,113.0L504.5,116.2L497.1,119.8Z" fill="url(#gb92)"/>
<path d="M496.6,118.2L504.0,114.7L511.2,111.4L518.3,108.5L525.2,105.8L532.0,103.3L538.6,101.1L545.1,99.0L551.5,97.3L557.7,95.7L563.8,94.3L569.7,93.2L575.5,92.2L576.6,95.9L570.8,96.9L564.9,98.1L558.8,99.5L552.6,101.2L546.3,103.0L539.8,105.0L533.2,107.3L526.4,109.8L519.5,112.6L512.4,115.6L505.2,118.9L497.8,122.4Z" fill="url(#gb93)"/>
<path d="M497.4,120.8L504.8,117.3L512.0,114.0L519.1,111.1L526.0,108.3L532.7,105.8L539.4,103.5L545.8,101.5L552.2,99.7L558.4,98.1L564.4,96.7L570.4,95.5L576.2,94.5L577.3,98.3L571.5,99.4L565.5,100.6L559.5,102.0L553.3,103.7L547.0,105.5L540.5,107.6L533.9,109.9L527.1,112.4L520.2,115.2L513.2,118.3L506.0,121.6L498.6,125.1Z" fill="url(#gb94)"/>
<path d="M498.2,123.5L505.5,120.0L512.7,116.7L519.8,113.7L526.7,110.9L533.5,108.4L540.1,106.1L546.5,104.0L552.9,102.2L559.1,100.5L565.1,99.1L571.1,97.9L576.9,96.9L577.9,100.7L572.2,101.8L566.2,103.0L560.2,104.5L554.0,106.2L547.7,108.1L541.2,110.2L534.6,112.5L527.9,115.1L521.0,117.9L513.9,121.0L506.7,124.3L499.4,127.9Z" fill="url(#gb95)"/>
<path d="M498.9,126.2L506.3,122.7L513.5,119.3L520.5,116.3L527.4,113.5L534.2,110.9L540.8,108.6L547.3,106.5L553.6,104.7L559.8,103.0L565.8,101.6L571.7,100.3L577.5,99.3L578.6,103.2L572.8,104.3L566.9,105.5L560.9,107.0L554.7,108.7L548.4,110.6L541.9,112.8L535.4,115.1L528.6,117.7L521.7,120.6L514.7,123.7L507.5,127.0L500.2,130.7Z" fill="url(#gb96)"/>
<path d="M499.7,129.0L507.1,125.4L514.2,122.0L521.3,119.0L528.2,116.1L534.9,113.6L541.5,111.2L548.0,109.1L554.3,107.2L560.5,105.5L566.5,104.0L572.4,102.8L578.2,101.7L579.3,105.7L573.5,106.8L567.6,108.1L561.6,109.6L555.4,111.3L549.1,113.3L542.7,115.4L536.1,117.8L529.4,120.4L522.5,123.3L515.5,126.4L508.3,129.8L500.9,133.5Z" fill="url(#gb97)"/>
<path d="M500.5,131.8L507.8,128.1L515.0,124.8L522.0,121.7L528.9,118.8L535.6,116.2L542.2,113.8L548.7,111.7L555.0,109.8L561.2,108.1L567.2,106.6L573.1,105.3L578.9,104.2L580.0,108.2L574.2,109.3L568.3,110.6L562.3,112.2L556.1,113.9L549.8,115.9L543.4,118.1L536.8,120.5L530.1,123.2L523.2,126.1L516.2,129.2L509.0,132.6L501.7,136.3Z" fill="url(#gb98)"/>
<path d="M501.2,134.6L508.6,130.9L515.8,127.5L522.8,124.4L529.6,121.5L536.4,118.9L543.0,116.5L549.4,114.3L555.7,112.4L561.8,110.6L567.9,109.1L573.8,107.8L579.6,106.7L580.6,110.7L574.9,111.9L569.0,113.2L563.0,114.8L556.8,116.6L550.5,118.6L544.1,120.8L537.5,123.2L530.8,125.9L524.0,128.9L517.0,132.1L509.8,135.5L502.5,139.2Z" fill="url(#gb99)"/>
<path d="M502.0,137.5L509.3,133.8L516.5,130.4L523.5,127.2L530.4,124.3L537.1,121.6L543.7,119.2L550.1,117.0L556.4,115.0L562.5,113.2L568.6,111.7L574.5,110.3L580.2,109.2L581.3,113.3L575.5,114.5L569.7,115.9L563.6,117.5L557.5,119.3L551.2,121.3L544.8,123.5L538.3,126.0L531.6,128.7L524.7,131.7L517.7,134.9L510.6,138.4L503.3,142.1Z" fill="url(#gb100)"/>
<path d="M502.8,140.4L510.1,136.6L517.3,133.2L524.3,130.0L531.1,127.0L537.8,124.3L544.4,121.9L550.8,119.7L557.1,117.7L563.2,115.9L569.2,114.3L575.1,112.9L580.9,111.7L582.0,115.9L576.2,117.1L570.3,118.5L564.3,120.2L558.2,122.0L551.9,124.0L545.5,126.3L539.0,128.8L532.3,131.6L525.5,134.6L518.5,137.8L511.3,141.3L504.0,145.1Z" fill="url(#gb101)"/>
<path d="M503.6,143.3L510.9,139.6L518.0,136.1L525.0,132.8L531.9,129.9L538.5,127.1L545.1,124.6L551.5,122.4L557.8,120.3L563.9,118.5L569.9,116.9L575.8,115.5L581.6,114.3L582.6,118.5L576.9,119.8L571.0,121.2L565.0,122.9L558.9,124.7L552.6,126.8L546.2,129.1L539.7,131.7L533.0,134.4L526.2,137.5L519.2,140.7L512.1,144.3L504.8,148.1Z" fill="url(#gb102)"/>
<path d="M504.3,146.3L511.6,142.5L518.8,139.0L525.8,135.7L532.6,132.7L539.3,129.9L545.8,127.4L552.2,125.1L558.5,123.1L564.6,121.2L570.6,119.6L576.5,118.2L582.2,117.0L583.3,121.2L577.6,122.5L571.7,123.9L565.7,125.6L559.6,127.5L553.3,129.6L547.0,132.0L540.4,134.5L533.8,137.3L526.9,140.4L520.0,143.7L512.8,147.3L505.6,151.1Z" fill="url(#gb103)"/>
<path d="M505.1,149.3L512.4,145.5L519.5,141.9L526.5,138.6L533.3,135.6L540.0,132.8L546.5,130.2L552.9,127.9L559.2,125.8L565.3,124.0L571.3,122.3L577.1,120.9L582.9,119.6L583.9,123.9L578.2,125.2L572.4,126.7L566.4,128.4L560.3,130.3L554.0,132.5L547.7,134.8L541.2,137.4L534.5,140.3L527.7,143.3L520.7,146.7L513.6,150.3L506.3,154.2Z" fill="url(#gb104)"/>
<path d="M505.9,152.3L513.2,148.5L520.3,144.9L527.2,141.6L534.0,138.5L540.7,135.7L547.2,133.1L553.6,130.8L559.9,128.6L566.0,126.7L572.0,125.0L577.8,123.6L583.5,122.3L584.6,126.6L578.9,128.0L573.0,129.5L567.1,131.2L561.0,133.2L554.8,135.3L548.4,137.7L541.9,140.4L535.2,143.2L528.4,146.3L521.5,149.7L514.4,153.4L507.1,157.3Z" fill="url(#gb105)"/>
<path d="M506.6,155.4L513.9,151.5L521.0,147.9L528.0,144.5L534.8,141.4L541.4,138.6L548.0,136.0L554.3,133.6L560.6,131.5L566.7,129.5L572.6,127.8L578.5,126.3L584.2,125.0L585.3,129.4L579.6,130.7L573.7,132.3L567.8,134.1L561.7,136.0L555.5,138.2L549.1,140.7L542.6,143.3L535.9,146.2L529.2,149.4L522.2,152.8L515.1,156.4L507.9,160.4Z" fill="url(#gb106)"/>
<path d="M507.4,158.5L514.7,154.6L521.8,150.9L528.7,147.6L535.5,144.4L542.2,141.5L548.7,138.9L555.0,136.5L561.3,134.3L567.4,132.4L573.3,130.6L579.2,129.1L584.9,127.7L585.9,132.2L580.2,133.6L574.4,135.1L568.4,136.9L562.4,139.0L556.2,141.2L549.8,143.6L543.3,146.3L536.7,149.3L529.9,152.4L523.0,155.9L515.9,159.6L508.6,163.5Z" fill="url(#gb107)"/>
<path d="M508.2,161.6L515.4,157.7L522.5,154.0L529.5,150.6L536.2,147.4L542.9,144.5L549.4,141.8L555.7,139.4L562.0,137.2L568.0,135.2L574.0,133.4L579.8,131.9L585.5,130.5L586.6,135.0L580.9,136.4L575.1,138.0L569.1,139.9L563.1,141.9L556.9,144.1L550.5,146.6L544.0,149.4L537.4,152.3L530.6,155.5L523.7,159.0L516.6,162.7L509.4,166.7Z" fill="url(#gb108)"/>
<path d="M509.0,164.8L516.2,160.8L523.3,157.1L530.2,153.7L537.0,150.5L543.6,147.5L550.1,144.8L556.4,142.4L562.6,140.1L568.7,138.1L574.7,136.3L580.5,134.7L586.2,133.3L587.2,137.8L581.5,139.3L575.7,140.9L569.8,142.8L563.7,144.9L557.6,147.1L551.2,149.7L544.7,152.4L538.1,155.4L531.4,158.7L524.5,162.2L517.4,165.9L510.2,170.0Z" fill="url(#gb109)"/>
<path d="M509.7,168.0L516.9,164.0L524.0,160.3L530.9,156.8L537.7,153.6L544.3,150.6L550.8,147.8L557.1,145.3L563.3,143.1L569.4,141.0L575.3,139.2L581.2,137.6L586.8,136.1L587.9,140.7L582.2,142.2L576.4,143.9L570.5,145.8L564.4,147.9L558.3,150.2L551.9,152.7L545.5,155.5L538.9,158.5L532.1,161.8L525.2,165.4L518.2,169.2L511.0,173.2Z" fill="url(#gb110)"/>
<path d="M510.5,171.3L517.7,167.2L524.8,163.4L531.7,159.9L538.4,156.7L545.0,153.7L551.5,150.9L557.8,148.4L564.0,146.1L570.1,144.0L576.0,142.1L581.8,140.5L587.5,139.0L588.5,143.6L582.9,145.1L577.1,146.8L571.2,148.8L565.1,150.9L558.9,153.2L552.6,155.8L546.2,158.6L539.6,161.7L532.8,165.0L526.0,168.6L518.9,172.4L511.7,176.5Z" fill="url(#gb111)"/>
<path d="M511.3,174.5L518.5,170.5L525.5,166.6L532.4,163.1L539.2,159.8L545.8,156.8L552.2,154.0L558.5,151.4L564.7,149.1L570.8,147.0L576.7,145.1L582.5,143.4L588.1,141.9L589.2,146.6L583.5,148.1L577.8,149.8L571.8,151.8L565.8,154.0L559.6,156.3L553.3,159.0L546.9,161.8L540.3,164.9L533.6,168.2L526.7,171.8L519.7,175.7L512.5,179.9Z" fill="url(#gb112)"/>
<path d="M512.0,177.9L519.2,173.7L526.3,169.9L533.1,166.3L539.9,163.0L546.5,159.9L552.9,157.1L559.2,154.5L565.4,152.1L571.4,150.0L577.4,148.0L583.1,146.3L588.8,144.8L589.8,149.5L584.2,151.1L578.4,152.9L572.5,154.9L566.5,157.0L560.3,159.5L554.0,162.1L547.6,165.0L541.0,168.1L534.3,171.5L527.4,175.1L520.4,179.0L513.3,183.2Z" fill="url(#gb113)"/>
<path d="M512.8,181.2L520.0,177.0L527.0,173.2L533.9,169.5L540.6,166.2L547.2,163.1L553.6,160.2L559.9,157.6L566.1,155.2L572.1,153.0L578.0,151.1L583.8,149.3L589.4,147.8L590.5,152.5L584.8,154.1L579.1,155.9L573.2,157.9L567.2,160.2L561.0,162.6L554.7,165.3L548.3,168.2L541.8,171.4L535.0,174.8L528.2,178.5L521.2,182.4L514.0,186.6Z" fill="url(#gb114)"/>
<path d="M513.6,184.6L520.7,180.4L527.7,176.5L534.6,172.8L541.3,169.4L547.9,166.3L554.3,163.4L560.6,160.7L566.8,158.3L572.8,156.1L578.7,154.1L584.5,152.3L590.1,150.7L591.1,155.6L585.5,157.2L579.7,159.0L573.9,161.1L567.9,163.3L561.7,165.8L555.4,168.5L549.0,171.5L542.5,174.7L535.8,178.1L528.9,181.8L521.9,185.8L514.8,190.0Z" fill="url(#gb115)"/>
<path d="M514.3,188.0L521.5,183.7L528.5,179.8L535.3,176.1L542.0,172.7L548.6,169.5L555.0,166.6L561.3,163.9L567.5,161.4L573.5,159.2L579.4,157.2L585.1,155.4L590.7,153.8L591.8,158.6L586.2,160.3L580.4,162.1L574.5,164.2L568.5,166.5L562.4,169.0L556.1,171.8L549.7,174.8L543.2,178.0L536.5,181.5L529.7,185.2L522.7,189.2L515.5,193.5Z" fill="url(#gb116)"/>
<path d="M515.1,191.4L522.2,187.2L529.2,183.2L536.1,179.4L542.8,176.0L549.3,172.8L555.7,169.8L562.0,167.1L568.1,164.6L574.1,162.3L580.0,160.3L585.8,158.4L591.4,156.8L592.4,161.7L586.8,163.4L581.1,165.3L575.2,167.4L569.2,169.7L563.1,172.3L556.8,175.0L550.5,178.1L543.9,181.3L537.2,184.8L530.4,188.6L523.4,192.7L516.3,197.0Z" fill="url(#gb117)"/>
<path d="M515.9,194.9L523.0,190.6L530.0,186.6L536.8,182.8L543.5,179.3L550.0,176.1L556.4,173.1L562.7,170.3L568.8,167.8L574.8,165.5L580.7,163.4L586.4,161.5L592.0,159.9L593.1,164.8L587.5,166.5L581.7,168.5L575.9,170.6L569.9,173.0L563.8,175.5L557.5,178.4L551.2,181.4L544.6,184.7L538.0,188.3L531.2,192.1L524.2,196.1L517.1,200.5Z" fill="url(#gb118)"/>
<path d="M516.6,198.4L523.7,194.1L530.7,190.0L537.5,186.2L544.2,182.7L550.7,179.4L557.1,176.4L563.4,173.6L569.5,171.0L575.5,168.7L581.3,166.6L587.1,164.7L592.7,163.0L593.3,166.1L587.7,167.8L582.0,169.8L576.2,171.9L570.2,174.3L564.1,176.9L557.8,179.7L551.4,182.8L544.9,186.1L538.3,189.6L531.5,193.5L524.5,197.6L517.4,201.9Z" fill="url(#gb119)"/>
<path d="M513.6,184.7L519.5,182.2L525.4,179.8L531.0,177.3L536.6,174.9L542.0,172.6L547.3,170.3L552.5,168.0L557.6,165.7L562.6,163.5L567.4,161.3L572.2,159.1L576.8,157.0L581.3,154.8L585.8,152.8L590.1,150.7" fill="none" stroke="#000" stroke-opacity="0.20" stroke-width="0.6"/>
<path d="M509.6,167.4L515.6,165.0L521.4,162.7L527.2,160.5L532.8,158.2L538.3,156.0L543.6,153.8L548.9,151.7L554.0,149.5L559.0,147.4L563.9,145.4L568.6,143.3L573.3,141.3L577.9,139.3L582.3,137.3L586.7,135.4" fill="none" stroke="#000" stroke-opacity="0.20" stroke-width="0.6"/>
<path d="M505.3,149.9L511.3,147.7L517.3,145.6L523.1,143.4L528.7,141.3L534.2,139.3L539.6,137.2L544.9,135.2L550.1,133.2L555.1,131.2L560.0,129.3L564.8,127.4L569.5,125.5L574.1,123.6L578.6,121.8L583.0,120.0" fill="none" stroke="#000" stroke-opacity="0.20" stroke-width="0.6"/>
<path d="M500.6,132.3L506.7,130.3L512.7,128.3L518.6,126.3L524.3,124.3L529.9,122.4L535.3,120.5L540.7,118.6L545.9,116.8L550.9,115.0L555.9,113.2L560.7,111.4L565.5,109.6L570.1,107.9L574.6,106.2L579.0,104.5" fill="none" stroke="#000" stroke-opacity="0.20" stroke-width="0.6"/>
<path d="M495.5,114.6L501.7,112.7L507.8,110.8L513.7,109.0L519.5,107.2L525.1,105.4L530.6,103.7L536.0,102.0L541.3,100.2L546.4,98.6L551.4,96.9L556.2,95.2L561.0,93.6L565.6,92.0L570.1,90.4L574.5,88.8" fill="none" stroke="#000" stroke-opacity="0.20" stroke-width="0.6"/>
<path d="M489.9,96.7L496.2,95.0L502.3,93.3L508.3,91.6L514.2,90.0L519.9,88.3L525.4,86.7L530.8,85.1L536.1,83.6L541.3,82.0L546.3,80.5L551.2,79.0L556.0,77.5L560.6,76.0L565.2,74.5L569.6,73.1" fill="none" stroke="#000" stroke-opacity="0.20" stroke-width="0.6"/>
<path d="M483.5,78.6L489.9,77.1L496.1,75.6L502.2,74.1L508.1,72.6L513.9,71.1L519.5,69.6L525.0,68.2L530.3,66.8L535.5,65.4L540.5,64.0L545.5,62.6L550.3,61.2L554.9,59.9L559.5,58.5L563.9,57.2" fill="none" stroke="#000" stroke-opacity="0.20" stroke-width="0.6"/>
<path d="M475.8,60.4L482.4,59.0L488.7,57.7L494.9,56.3L500.9,55.0L506.7,53.7L512.4,52.4L518.0,51.1L523.4,49.8L528.6,48.5L533.7,47.3L538.6,46.1L543.4,44.8L548.1,43.6L552.6,42.4L557.0,41.2" fill="none" stroke="#000" stroke-opacity="0.20" stroke-width="0.6"/>
<path d="M465.6,41.8L472.4,40.6L479.0,39.5L485.4,38.3L491.5,37.2L497.5,36.0L503.3,34.9L508.9,33.7L514.3,32.6L519.6,31.5L524.7,30.4L529.6,29.3L534.4,28.2L538.9,27.1L543.3,26.0L547.6,24.9" fill="none" stroke="#000" stroke-opacity="0.20" stroke-width="0.6"/>
<line x1="396.48" y1="180.64" x2="389.37" y2="18.32" stroke="#111" stroke-width="1.1"/>
<line x1="396.48" y1="180.64" x2="523.64" y2="225.46" stroke="#111" stroke-width="1.1"/>
<line x1="523.64" y1="225.46" x2="624.34" y2="173.48" stroke="#111" stroke-width="1.1"/>
<line x1="392.48" y1="180.64" x2="396.48" y2="180.64" stroke="#111" stroke-width="1"/>
<line x1="391.51" y1="158.66" x2="395.51" y2="158.66" stroke="#111" stroke-width="1"/>
<line x1="390.53" y1="136.28" x2="394.53" y2="136.28" stroke="#111" stroke-width="1"/>
<line x1="389.54" y1="113.52" x2="393.54" y2="113.52" stroke="#111" stroke-width="1"/>
<line x1="388.52" y1="90.35" x2="392.52" y2="90.35" stroke="#111" stroke-width="1"/>
<line x1="387.49" y1="66.77" x2="391.49" y2="66.77" stroke="#111" stroke-width="1"/>
<line x1="386.44" y1="42.77" x2="390.44" y2="42.77" stroke="#111" stroke-width="1"/>
<line x1="385.37" y1="18.32" x2="389.37" y2="18.32" stroke="#111" stroke-width="1"/>
<line x1="415.15" y1="187.23" x2="415.15" y2="191.23" stroke="#111" stroke-width="1"/>
<line x1="455.30" y1="201.37" x2="455.30" y2="205.37" stroke="#111" stroke-width="1"/>
<line x1="499.67" y1="217.01" x2="499.67" y2="221.01" stroke="#111" stroke-width="1"/>
<line x1="535.41" y1="219.39" x2="535.41" y2="223.39" stroke="#111" stroke-width="1"/>
<line x1="557.67" y1="207.90" x2="557.67" y2="211.90" stroke="#111" stroke-width="1"/>
<line x1="578.37" y1="197.21" x2="578.37" y2="201.21" stroke="#111" stroke-width="1"/>
<line x1="597.69" y1="187.24" x2="597.69" y2="191.24" stroke="#111" stroke-width="1"/>
<line x1="615.74" y1="177.92" x2="615.74" y2="181.92" stroke="#111" stroke-width="1"/>
<circle cx="429.0" cy="33.8" r="2.7" fill="url(#ball)"/>
<circle cx="471.6" cy="51.0" r="2.1" fill="url(#ball)"/>
<circle cx="501.7" cy="45.1" r="1.7" fill="url(#ball)"/>
<circle cx="553.8" cy="36.8" r="1.1" fill="url(#ball)"/>
<circle cx="517.3" cy="205.0" r="2.4" fill="url(#ball)"/>
<circle cx="545.2" cy="181.3" r="2.2" fill="url(#ball)"/>
<circle cx="593.8" cy="162.3" r="2.2" fill="url(#ball)"/>
<linearGradient id="cb275" x1="0" y1="0" x2="0" y2="1"><stop offset="0.000" stop-color="#280028"/><stop offset="0.020" stop-color="#800080"/><stop offset="0.050" stop-color="#8000a0"/><stop offset="0.100" stop-color="#6e00ff"/><stop offset="0.150" stop-color="#1e00ff"/><stop offset="0.170" stop-color="#0000ff"/><stop offset="0.210" stop-color="#006eff"/><stop offset="0.260" stop-color="#00dcff"/><stop offset="0.280" stop-color="#00ffe6"/><stop offset="0.320" stop-color="#00ff64"/><stop offset="0.345" stop-color="#00ff00"/><stop offset="0.400" stop-color="#96ff00"/><stop offset="0.450" stop-color="#d2ff00"/><stop offset="0.500" stop-color="#ffff00"/><stop offset="0.540" stop-color="#ffd200"/><stop offset="0.585" stop-color="#ff9600"/><stop offset="0.620" stop-color="#ff4600"/><stop offset="0.645" stop-color="#ff0000"/><stop offset="0.830" stop-color="#ff0000"/><stop offset="0.870" stop-color="#d70000"/><stop offset="0.920" stop-color="#a00000"/><stop offset="0.970" stop-color="#730000"/><stop offset="1.000" stop-color="#550000"/></linearGradient>
<rect x="275.10" y="6.30" width="26.10" height="109.20" fill="url(#cb275)"/>
<line x1="301.20" y1="7.80" x2="303.70" y2="7.80" stroke="#333" stroke-width="0.8"/>
<text transform="translate(307.10,10.30) scale(0.95,1)" class="cb">36.65</text>
<line x1="301.20" y1="18.57" x2="303.70" y2="18.57" stroke="#333" stroke-width="0.8"/>
<text transform="translate(307.10,21.07) scale(0.95,1)" class="cb">38.08</text>
<line x1="301.20" y1="29.34" x2="303.70" y2="29.34" stroke="#333" stroke-width="0.8"/>
<text transform="translate(307.10,31.84) scale(0.95,1)" class="cb">39.51</text>
<line x1="301.20" y1="40.11" x2="303.70" y2="40.11" stroke="#333" stroke-width="0.8"/>
<text transform="translate(307.10,42.61) scale(0.95,1)" class="cb">40.94</text>
<line x1="301.20" y1="50.88" x2="303.70" y2="50.88" stroke="#333" stroke-width="0.8"/>
<text transform="translate(307.10,53.38) scale(0.95,1)" class="cb">42.37</text>
<line x1="301.20" y1="61.65" x2="303.70" y2="61.65" stroke="#333" stroke-width="0.8"/>
<text transform="translate(307.10,64.15) scale(0.95,1)" class="cb">43.80</text>
<line x1="301.20" y1="72.42" x2="303.70" y2="72.42" stroke="#333" stroke-width="0.8"/>
<text transform="translate(307.10,74.92) scale(0.95,1)" class="cb">45.23</text>
<line x1="301.20" y1="83.19" x2="303.70" y2="83.19" stroke="#333" stroke-width="0.8"/>
<text transform="translate(307.10,85.69) scale(0.95,1)" class="cb">46.66</text>
<line x1="301.20" y1="93.96" x2="303.70" y2="93.96" stroke="#333" stroke-width="0.8"/>
<text transform="translate(307.10,96.46) scale(0.95,1)" class="cb">48.09</text>
<line x1="301.20" y1="104.73" x2="303.70" y2="104.73" stroke="#333" stroke-width="0.8"/>
<text transform="translate(307.10,107.23) scale(0.95,1)" class="cb">49.52</text>
<line x1="301.20" y1="115.50" x2="303.70" y2="115.50" stroke="#333" stroke-width="0.8"/>
<text transform="translate(307.10,118.00) scale(0.95,1)" class="cb">50.95</text>
<linearGradient id="cb635" x1="0" y1="0" x2="0" y2="1"><stop offset="0.000" stop-color="#280028"/><stop offset="0.020" stop-color="#800080"/><stop offset="0.050" stop-color="#8000a0"/><stop offset="0.100" stop-color="#6e00ff"/><stop offset="0.150" stop-color="#1e00ff"/><stop offset="0.170" stop-color="#0000ff"/><stop offset="0.210" stop-color="#006eff"/><stop offset="0.260" stop-color="#00dcff"/><stop offset="0.280" stop-color="#00ffe6"/><stop offset="0.320" stop-color="#00ff64"/><stop offset="0.345" stop-color="#00ff00"/><stop offset="0.400" stop-color="#96ff00"/><stop offset="0.450" stop-color="#d2ff00"/><stop offset="0.500" stop-color="#ffff00"/><stop offset="0.540" stop-color="#ffd200"/><stop offset="0.585" stop-color="#ff9600"/><stop offset="0.620" stop-color="#ff4600"/><stop offset="0.645" stop-color="#ff0000"/><stop offset="0.830" stop-color="#ff0000"/><stop offset="0.870" stop-color="#d70000"/><stop offset="0.920" stop-color="#a00000"/><stop offset="0.970" stop-color="#730000"/><stop offset="1.000" stop-color="#550000"/></linearGradient>
<rect x="635.10" y="8.00" width="22.90" height="108.80" fill="url(#cb635)"/>
<line x1="658.00" y1="9.00" x2="660.50" y2="9.00" stroke="#333" stroke-width="0.8"/>
<text transform="translate(663.90,11.50) scale(0.95,1)" class="cb">-13.45</text>
<line x1="658.00" y1="19.78" x2="660.50" y2="19.78" stroke="#333" stroke-width="0.8"/>
<text transform="translate(663.90,22.28) scale(0.95,1)" class="cb">-12.12</text>
<line x1="658.00" y1="30.56" x2="660.50" y2="30.56" stroke="#333" stroke-width="0.8"/>
<text transform="translate(663.90,33.06) scale(0.95,1)" class="cb">-10.78</text>
<line x1="658.00" y1="41.34" x2="660.50" y2="41.34" stroke="#333" stroke-width="0.8"/>
<text transform="translate(663.90,43.84) scale(0.95,1)" class="cb">-9.451</text>
<line x1="658.00" y1="52.12" x2="660.50" y2="52.12" stroke="#333" stroke-width="0.8"/>
<text transform="translate(663.90,54.62) scale(0.95,1)" class="cb">-8.119</text>
<line x1="658.00" y1="62.90" x2="660.50" y2="62.90" stroke="#333" stroke-width="0.8"/>
<text transform="translate(663.90,65.40) scale(0.95,1)" class="cb">-6.786</text>
<line x1="658.00" y1="73.68" x2="660.50" y2="73.68" stroke="#333" stroke-width="0.8"/>
<text transform="translate(663.90,76.18) scale(0.95,1)" class="cb">-5.453</text>
<line x1="658.00" y1="84.46" x2="660.50" y2="84.46" stroke="#333" stroke-width="0.8"/>
<text transform="translate(663.90,86.96) scale(0.95,1)" class="cb">-4.120</text>
<line x1="658.00" y1="95.24" x2="660.50" y2="95.24" stroke="#333" stroke-width="0.8"/>
<text transform="translate(663.90,97.74) scale(0.95,1)" class="cb">-2.787</text>
<line x1="658.00" y1="106.02" x2="660.50" y2="106.02" stroke="#333" stroke-width="0.8"/>
<text transform="translate(663.90,108.52) scale(0.95,1)" class="cb">-1.454</text>
<line x1="658.00" y1="116.80" x2="660.50" y2="116.80" stroke="#333" stroke-width="0.8"/>
<text transform="translate(663.90,119.30) scale(0.95,1)" class="cb">-0.1215</text>
<text transform="translate(30.35,185.85) scale(0.92,1)" class="tk" text-anchor="end">36</text>
<text transform="translate(29.50,165.15) scale(0.92,1)" class="tk" text-anchor="end">38</text>
<text transform="translate(28.63,144.13) scale(0.92,1)" class="tk" text-anchor="end">40</text>
<text transform="translate(27.75,122.78) scale(0.92,1)" class="tk" text-anchor="end">42</text>
<text transform="translate(26.86,101.09) scale(0.92,1)" class="tk" text-anchor="end">44</text>
<text transform="translate(25.95,79.06) scale(0.92,1)" class="tk" text-anchor="end">46</text>
<text transform="translate(25.03,56.68) scale(0.92,1)" class="tk" text-anchor="end">48</text>
<text transform="translate(24.09,33.93) scale(0.92,1)" class="tk" text-anchor="end">50</text>
<text transform="translate(55.75,204.20) scale(0.86,1)" class="tk" text-anchor="middle">14</text>
<text transform="translate(96.20,218.30) scale(0.86,1)" class="tk" text-anchor="middle">16</text>
<text transform="translate(140.95,233.90) scale(0.86,1)" class="tk" text-anchor="middle">18</text>
<text transform="translate(176.98,235.50) scale(0.86,1)" class="tk" text-anchor="middle">20</text>
<text transform="translate(199.32,223.91) scale(0.86,1)" class="tk" text-anchor="middle">40</text>
<text transform="translate(220.06,213.14) scale(0.86,1)" class="tk" text-anchor="middle">60</text>
<text transform="translate(239.37,203.12) scale(0.86,1)" class="tk" text-anchor="middle">80</text>
<text transform="translate(257.40,193.76) scale(0.86,1)" class="tk" text-anchor="middle">100</text>
<text transform="translate(390.98,184.14) scale(0.92,1)" class="tk" text-anchor="end">-14</text>
<text transform="translate(390.01,162.16) scale(0.92,1)" class="tk" text-anchor="end">-12</text>
<text transform="translate(389.03,139.78) scale(0.92,1)" class="tk" text-anchor="end">-10</text>
<text transform="translate(388.04,117.02) scale(0.92,1)" class="tk" text-anchor="end">-8</text>
<text transform="translate(387.02,93.85) scale(0.92,1)" class="tk" text-anchor="end">-6</text>
<text transform="translate(385.99,70.27) scale(0.92,1)" class="tk" text-anchor="end">-4</text>
<text transform="translate(384.94,46.27) scale(0.92,1)" class="tk" text-anchor="end">-2</text>
<text transform="translate(383.87,21.82) scale(0.92,1)" class="tk" text-anchor="end">0</text>
<text transform="translate(415.55,203.43) scale(0.86,1)" class="tk" text-anchor="middle">14</text>
<text transform="translate(455.70,217.57) scale(0.86,1)" class="tk" text-anchor="middle">16</text>
<text transform="translate(500.07,233.21) scale(0.86,1)" class="tk" text-anchor="middle">18</text>
<text transform="translate(535.81,234.89) scale(0.86,1)" class="tk" text-anchor="middle">20</text>
<text transform="translate(558.07,223.40) scale(0.86,1)" class="tk" text-anchor="middle">40</text>
<text transform="translate(578.77,212.71) scale(0.86,1)" class="tk" text-anchor="middle">60</text>
<text transform="translate(598.09,202.74) scale(0.86,1)" class="tk" text-anchor="middle">80</text>
<text transform="translate(616.14,193.42) scale(0.86,1)" class="tk" text-anchor="middle">100</text>
<text class="b" font-size="11" transform="translate(9.3,110.9) rotate(-90) scale(0.94,1)">A<tspan font-size="8" dy="2.4">SL</tspan></text>
<text class="b" font-size="11" transform="translate(365.9,109.8) rotate(-90) scale(0.9,1)">B<tspan font-size="8.3" dy="2.4">SL</tspan></text>
<text class="b" font-size="13" transform="translate(51.7,121.4) scale(0.965,1)">R<tspan font-size="8" dy="-5">2</tspan><tspan dy="5">=0.99</tspan></text>
<text class="b" font-size="13" transform="translate(51.7,137.3) scale(0.965,1)">RMSE=0.29</text>
<text class="b" font-size="13" transform="translate(416.8,129.6) scale(0.965,1)">R<tspan font-size="8" dy="-5">2</tspan><tspan dy="5">=0.99</tspan></text>
<text class="b" font-size="13" transform="translate(416.8,145.3) scale(0.965,1)">RMSE=0.37</text>
<text class="b" font-size="12.6" transform="translate(37,213) rotate(19.7) scale(0.94,1)">water centent (%)</text>
<text class="b" font-size="12.3" transform="translate(193,247.6) rotate(-28.8) scale(0.94,1)">Normal stress (kPa)</text>
<text class="b" font-size="12.6" transform="translate(400,213.3) rotate(19.5) scale(0.94,1)">water centent (%)</text>
<text class="b" font-size="12.3" transform="translate(553.7,247.3) rotate(-28.8) scale(0.94,1)">Normal stress (kPa)</text>
<path d="M152.7,259.4Q142.3,266.45 153.1,273.5Q145.9,266.45 152.7,259.4Z" fill="#111"/>
<text class="b" font-size="18" x="156.2" y="272.8">a</text>
<path d="M168,259.4Q178.2,266.3 168,273.2Q174.6,266.3 168,259.4Z" fill="#111"/>
<path d="M513.4,259.4Q502.7,267 513.8,273.5Q506.3,267 513.4,259.4Z" fill="#111"/>
<text class="b" font-size="17.5" x="517" y="272.8">b</text>
<path d="M529.4,259.4Q540,267.4 529.8,273.2Q536.4,267.4 529.4,259.4Z" fill="#111"/>
</svg>
</body></html>
